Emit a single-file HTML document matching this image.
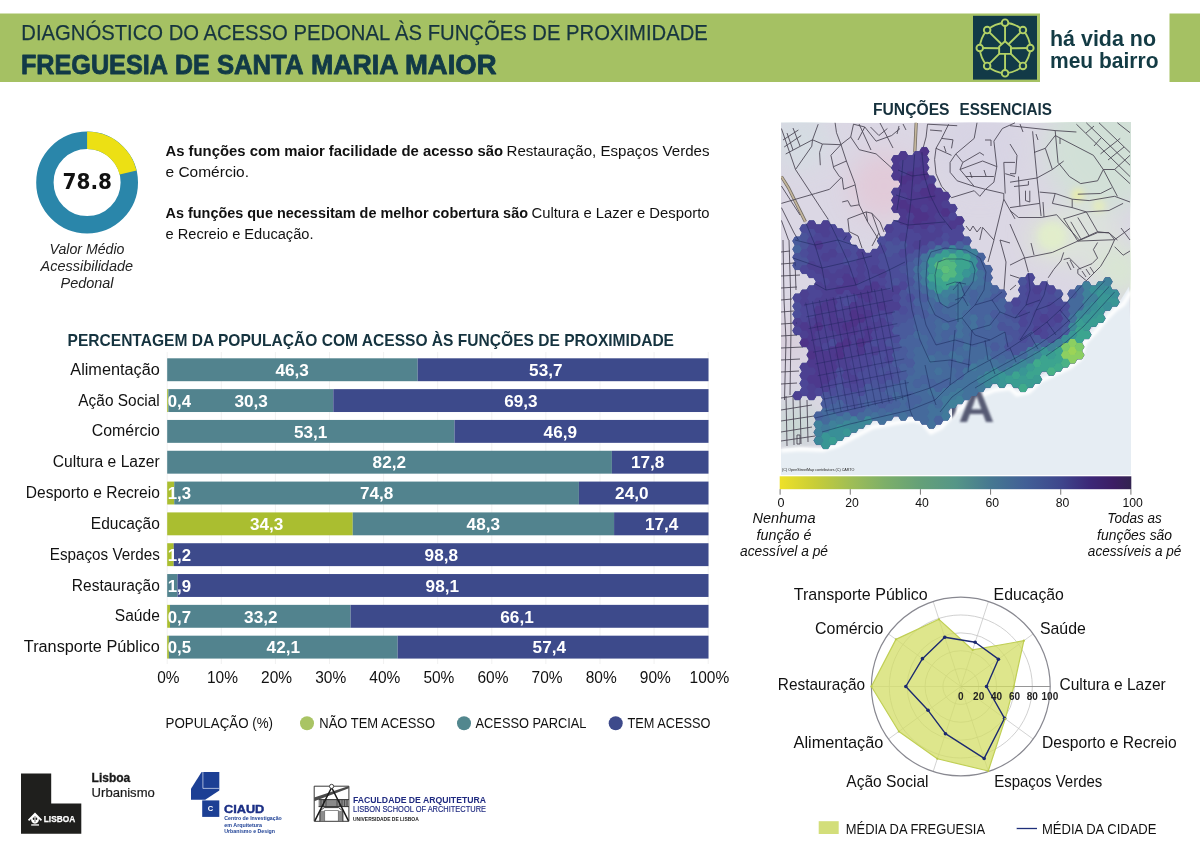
<!DOCTYPE html>
<html lang="pt"><head><meta charset="utf-8"><title>Diagnóstico do acesso pedonal - Santa Maria Maior</title>
<style>html,body{margin:0;padding:0;background:#fff}svg{display:block}text{font-family:"Liberation Sans",sans-serif}</style></head>
<body><svg width="1200" height="849" viewBox="0 0 1200 849">
<rect width="1200" height="849" fill="#fff"/>
<rect x="0" y="13.5" width="1040" height="68.5" fill="#a5c163"/>
<rect x="1169.5" y="13.5" width="31" height="68.5" fill="#a5c163"/>
<text x="21.30" y="40.00" font-size="22.3" fill="#17353f" textLength="686.50" lengthAdjust="spacingAndGlyphs" stroke="#17353f" stroke-width="0.25">DIAGNÓSTICO DO ACESSO PEDONAL ÀS FUNÇÕES DE PROXIMIDADE</text>
<text y="74.4" font-size="28.5" font-weight="700" fill="#123a47" stroke="#123a47" stroke-width="0.9" stroke-linejoin="round" xml:space="preserve"><tspan x="20.9" textLength="146.1" lengthAdjust="spacingAndGlyphs">FREGUESIA</tspan> <tspan x="174.9" textLength="34.6" lengthAdjust="spacingAndGlyphs">DE</tspan> <tspan x="216.9" textLength="85.6" lengthAdjust="spacingAndGlyphs">SANTA</tspan> <tspan x="310.9" textLength="86.6" lengthAdjust="spacingAndGlyphs">MARIA</tspan> <tspan x="404.9" textLength="91.6" lengthAdjust="spacingAndGlyphs">MAIOR</tspan></text>
<rect x="973" y="15.8" width="64" height="63.8" fill="#123a47"/>
<g fill="none" stroke="#b2d166" stroke-width="1.9" stroke-linecap="round" stroke-linejoin="round">
<path d="M1005.05 22.70A29 29 0 0 1 1022.94 30.11M1022.94 30.11A29 29 0 0 1 1030.35 48.00M1030.35 48.00A29 29 0 0 1 1022.94 65.89M1022.94 65.89A29 29 0 0 1 1005.05 73.30M1005.05 73.30A29 29 0 0 1 987.16 65.89M987.16 65.89A29 29 0 0 1 979.75 48.00M979.75 48.00A29 29 0 0 1 987.16 30.11M987.16 30.11A29 29 0 0 1 1005.05 22.70"/>
<path d="M1005.05 22.70L1005.05 41.20M1022.94 30.11L1008.45 44.30M1030.35 48.00L1010.95 48.30M1022.94 65.89L1010.95 53.90M1005.05 73.30L1005.05 53.90M987.16 65.89L999.15 53.90M979.75 48.00L999.15 48.30M987.16 30.11L1001.65 44.30"/>
<path d="M1005.05 41.20L1010.95 46.60L1010.95 53.90L999.15 53.90L999.15 46.60Z" fill="#123a47"/>
<circle cx="1005.05" cy="22.70" r="3.3" fill="#123a47"/>
<circle cx="1022.94" cy="30.11" r="3.3" fill="#123a47"/>
<circle cx="1030.35" cy="48.00" r="3.3" fill="#123a47"/>
<circle cx="1022.94" cy="65.89" r="3.3" fill="#123a47"/>
<circle cx="1005.05" cy="73.30" r="3.3" fill="#123a47"/>
<circle cx="987.16" cy="65.89" r="3.3" fill="#123a47"/>
<circle cx="979.75" cy="48.00" r="3.3" fill="#123a47"/>
<circle cx="987.16" cy="30.11" r="3.3" fill="#123a47"/>
</g>
<text x="1050.00" y="46.30" font-size="21.5" font-weight="700" fill="#133b44" textLength="106.00" lengthAdjust="spacingAndGlyphs">há vida no</text>
<text x="1050.00" y="67.60" font-size="21.5" font-weight="700" fill="#133b44" textLength="108.50" lengthAdjust="spacingAndGlyphs">meu bairro</text>
<circle cx="87.1" cy="182.5" r="42.20" fill="none" stroke="#2a86aa" stroke-width="17.40"/>
<path d="M87.1 140.30A42.20 42.20 0 0 1 128.10 172.52" fill="none" stroke="#ece014" stroke-width="17.40"/>
<text x="87.30" y="188.80" font-size="21" font-weight="700" text-anchor="middle" fill="#111" style='font-family:"DejaVu Sans", "Liberation Sans", sans-serif' textLength="49.50" lengthAdjust="spacingAndGlyphs">78.8</text>
<text x="87.00" y="253.50" font-size="14.6" text-anchor="middle" fill="#222" font-style="italic" textLength="75.00" lengthAdjust="spacingAndGlyphs">Valor Médio</text>
<text x="86.80" y="270.50" font-size="14.6" text-anchor="middle" fill="#222" font-style="italic" textLength="92.50" lengthAdjust="spacingAndGlyphs">Acessibilidade</text>
<text x="87.00" y="287.50" font-size="14.6" text-anchor="middle" fill="#222" font-style="italic" textLength="53.00" lengthAdjust="spacingAndGlyphs">Pedonal</text>
<text x="165.50" y="156.20" font-size="15.5" font-weight="700" fill="#111" textLength="337.50" lengthAdjust="spacingAndGlyphs">As funções com maior facilidade de acesso são</text>
<text x="506.50" y="156.20" font-size="15.5" fill="#111" textLength="203.00" lengthAdjust="spacingAndGlyphs">Restauração, Espaços Verdes</text>
<text x="165.50" y="176.70" font-size="15.5" fill="#111" textLength="83.50" lengthAdjust="spacingAndGlyphs">e Comércio.</text>
<text x="165.50" y="218.00" font-size="15.5" font-weight="700" fill="#111" textLength="362.50" lengthAdjust="spacingAndGlyphs">As funções que necessitam de melhor cobertura são</text>
<text x="531.50" y="218.00" font-size="15.5" fill="#111" textLength="178.00" lengthAdjust="spacingAndGlyphs">Cultura e Lazer e Desporto</text>
<text x="165.50" y="238.70" font-size="15.5" fill="#111" textLength="148.00" lengthAdjust="spacingAndGlyphs">e Recreio e Educação.</text>
<text x="67.50" y="346.30" font-size="16.5" font-weight="700" fill="#15333f" textLength="606.50" lengthAdjust="spacingAndGlyphs">PERCENTAGEM DA POPULAÇÃO COM ACESSO ÀS FUNÇÕES DE PROXIMIDADE</text>
<path d="M167.2 352V664M221.3 352V664M275.4 352V664M329.5 352V664M383.6 352V664M437.7 352V664M491.8 352V664M545.9 352V664M600.0 352V664M654.1 352V664M708.2 352V664" stroke="#f1f1f1" stroke-width="1" fill="none"/>
<rect x="167.20" y="358.30" width="250.48" height="22.9" fill="#52838e"/>
<rect x="417.68" y="358.30" width="290.82" height="22.9" fill="#3d4a8b"/>
<text x="159.80" y="374.80" font-size="15.8" text-anchor="end" fill="#111" textLength="89.50" lengthAdjust="spacingAndGlyphs">Alimentação</text>
<text x="292.10" y="376.00" font-size="16.3" font-weight="700" text-anchor="middle" fill="#fff" textLength="33.40" lengthAdjust="spacingAndGlyphs">46,3</text>
<text x="545.80" y="376.00" font-size="16.3" font-weight="700" text-anchor="middle" fill="#fff" textLength="33.40" lengthAdjust="spacingAndGlyphs">53,7</text>
<rect x="167.20" y="389.12" width="1.16" height="22.9" fill="#aabe30"/>
<rect x="168.36" y="389.12" width="164.92" height="22.9" fill="#52838e"/>
<rect x="333.29" y="389.12" width="375.21" height="22.9" fill="#3d4a8b"/>
<text x="159.80" y="405.62" font-size="15.8" text-anchor="end" fill="#111" textLength="81.50" lengthAdjust="spacingAndGlyphs">Ação Social</text>
<text x="167.70" y="406.82" font-size="16.3" font-weight="700" fill="#fff" textLength="23.30" lengthAdjust="spacingAndGlyphs">0,4</text>
<text x="251.20" y="406.82" font-size="16.3" font-weight="700" text-anchor="middle" fill="#fff" textLength="33.40" lengthAdjust="spacingAndGlyphs">30,3</text>
<text x="520.90" y="406.82" font-size="16.3" font-weight="700" text-anchor="middle" fill="#fff" textLength="33.40" lengthAdjust="spacingAndGlyphs">69,3</text>
<rect x="167.20" y="419.94" width="287.27" height="22.9" fill="#52838e"/>
<rect x="454.47" y="419.94" width="254.03" height="22.9" fill="#3d4a8b"/>
<text x="159.80" y="436.44" font-size="15.8" text-anchor="end" fill="#111" textLength="68.00" lengthAdjust="spacingAndGlyphs">Comércio</text>
<text x="310.70" y="437.64" font-size="16.3" font-weight="700" text-anchor="middle" fill="#fff" textLength="33.40" lengthAdjust="spacingAndGlyphs">53,1</text>
<text x="560.30" y="437.64" font-size="16.3" font-weight="700" text-anchor="middle" fill="#fff" textLength="33.40" lengthAdjust="spacingAndGlyphs">46,9</text>
<rect x="167.20" y="450.76" width="444.70" height="22.9" fill="#52838e"/>
<rect x="611.90" y="450.76" width="96.60" height="22.9" fill="#3d4a8b"/>
<text x="159.80" y="467.26" font-size="15.8" text-anchor="end" fill="#111" textLength="107.00" lengthAdjust="spacingAndGlyphs">Cultura e Lazer</text>
<text x="389.30" y="468.46" font-size="16.3" font-weight="700" text-anchor="middle" fill="#fff" textLength="33.40" lengthAdjust="spacingAndGlyphs">82,2</text>
<text x="647.60" y="468.46" font-size="16.3" font-weight="700" text-anchor="middle" fill="#fff" textLength="33.40" lengthAdjust="spacingAndGlyphs">17,8</text>
<rect x="167.20" y="481.58" width="7.03" height="22.9" fill="#aabe30"/>
<rect x="174.23" y="481.58" width="404.67" height="22.9" fill="#52838e"/>
<rect x="578.90" y="481.58" width="129.60" height="22.9" fill="#3d4a8b"/>
<text x="159.80" y="498.08" font-size="15.8" text-anchor="end" fill="#111" textLength="134.00" lengthAdjust="spacingAndGlyphs">Desporto e Recreio</text>
<text x="167.70" y="499.28" font-size="16.3" font-weight="700" fill="#fff" textLength="23.30" lengthAdjust="spacingAndGlyphs">1,3</text>
<text x="376.70" y="499.28" font-size="16.3" font-weight="700" text-anchor="middle" fill="#fff" textLength="33.40" lengthAdjust="spacingAndGlyphs">74,8</text>
<text x="631.80" y="499.28" font-size="16.3" font-weight="700" text-anchor="middle" fill="#fff" textLength="33.40" lengthAdjust="spacingAndGlyphs">24,0</text>
<rect x="167.20" y="512.40" width="185.56" height="22.9" fill="#aabe30"/>
<rect x="352.76" y="512.40" width="261.30" height="22.9" fill="#52838e"/>
<rect x="614.07" y="512.40" width="94.43" height="22.9" fill="#3d4a8b"/>
<text x="159.80" y="528.90" font-size="15.8" text-anchor="end" fill="#111" textLength="69.00" lengthAdjust="spacingAndGlyphs">Educação</text>
<text x="266.70" y="530.10" font-size="16.3" font-weight="700" text-anchor="middle" fill="#fff" textLength="33.40" lengthAdjust="spacingAndGlyphs">34,3</text>
<text x="483.30" y="530.10" font-size="16.3" font-weight="700" text-anchor="middle" fill="#fff" textLength="33.40" lengthAdjust="spacingAndGlyphs">48,3</text>
<text x="661.70" y="530.10" font-size="16.3" font-weight="700" text-anchor="middle" fill="#fff" textLength="33.40" lengthAdjust="spacingAndGlyphs">17,4</text>
<rect x="167.20" y="543.22" width="6.49" height="22.9" fill="#aabe30"/>
<rect x="173.69" y="543.22" width="534.81" height="22.9" fill="#3d4a8b"/>
<text x="159.80" y="559.72" font-size="15.8" text-anchor="end" fill="#111" textLength="110.00" lengthAdjust="spacingAndGlyphs">Espaços Verdes</text>
<text x="167.70" y="560.92" font-size="16.3" font-weight="700" fill="#fff" textLength="23.30" lengthAdjust="spacingAndGlyphs">1,2</text>
<text x="441.30" y="560.92" font-size="16.3" font-weight="700" text-anchor="middle" fill="#fff" textLength="33.40" lengthAdjust="spacingAndGlyphs">98,8</text>
<rect x="167.20" y="574.04" width="10.28" height="22.9" fill="#52838e"/>
<rect x="177.48" y="574.04" width="531.02" height="22.9" fill="#3d4a8b"/>
<text x="159.80" y="590.54" font-size="15.8" text-anchor="end" fill="#111" textLength="88.00" lengthAdjust="spacingAndGlyphs">Restauração</text>
<text x="167.70" y="591.74" font-size="16.3" font-weight="700" fill="#fff" textLength="23.30" lengthAdjust="spacingAndGlyphs">1,9</text>
<text x="442.30" y="591.74" font-size="16.3" font-weight="700" text-anchor="middle" fill="#fff" textLength="33.40" lengthAdjust="spacingAndGlyphs">98,1</text>
<rect x="167.20" y="604.86" width="2.79" height="22.9" fill="#aabe30"/>
<rect x="169.99" y="604.86" width="180.61" height="22.9" fill="#52838e"/>
<rect x="350.60" y="604.86" width="357.90" height="22.9" fill="#3d4a8b"/>
<text x="159.80" y="621.36" font-size="15.8" text-anchor="end" fill="#111" textLength="45.00" lengthAdjust="spacingAndGlyphs">Saúde</text>
<text x="167.70" y="622.56" font-size="16.3" font-weight="700" fill="#fff" textLength="23.30" lengthAdjust="spacingAndGlyphs">0,7</text>
<text x="260.80" y="622.56" font-size="16.3" font-weight="700" text-anchor="middle" fill="#fff" textLength="33.40" lengthAdjust="spacingAndGlyphs">33,2</text>
<text x="517.00" y="622.56" font-size="16.3" font-weight="700" text-anchor="middle" fill="#fff" textLength="33.40" lengthAdjust="spacingAndGlyphs">66,1</text>
<rect x="167.20" y="635.68" width="1.71" height="22.9" fill="#aabe30"/>
<rect x="168.91" y="635.68" width="228.76" height="22.9" fill="#52838e"/>
<rect x="397.67" y="635.68" width="310.83" height="22.9" fill="#3d4a8b"/>
<text x="159.80" y="652.18" font-size="15.8" text-anchor="end" fill="#111" textLength="136.00" lengthAdjust="spacingAndGlyphs">Transporte Público</text>
<text x="167.70" y="653.38" font-size="16.3" font-weight="700" fill="#fff" textLength="23.30" lengthAdjust="spacingAndGlyphs">0,5</text>
<text x="283.30" y="653.38" font-size="16.3" font-weight="700" text-anchor="middle" fill="#fff" textLength="33.40" lengthAdjust="spacingAndGlyphs">42,1</text>
<text x="549.30" y="653.38" font-size="16.3" font-weight="700" text-anchor="middle" fill="#fff" textLength="33.40" lengthAdjust="spacingAndGlyphs">57,4</text>
<text x="168.40" y="682.50" font-size="15.6" text-anchor="middle" fill="#111" textLength="22.30" lengthAdjust="spacingAndGlyphs">0%</text>
<text x="222.50" y="682.50" font-size="15.6" text-anchor="middle" fill="#111" textLength="31.00" lengthAdjust="spacingAndGlyphs">10%</text>
<text x="276.60" y="682.50" font-size="15.6" text-anchor="middle" fill="#111" textLength="31.00" lengthAdjust="spacingAndGlyphs">20%</text>
<text x="330.70" y="682.50" font-size="15.6" text-anchor="middle" fill="#111" textLength="31.00" lengthAdjust="spacingAndGlyphs">30%</text>
<text x="384.80" y="682.50" font-size="15.6" text-anchor="middle" fill="#111" textLength="31.00" lengthAdjust="spacingAndGlyphs">40%</text>
<text x="438.90" y="682.50" font-size="15.6" text-anchor="middle" fill="#111" textLength="31.00" lengthAdjust="spacingAndGlyphs">50%</text>
<text x="493.00" y="682.50" font-size="15.6" text-anchor="middle" fill="#111" textLength="31.00" lengthAdjust="spacingAndGlyphs">60%</text>
<text x="547.10" y="682.50" font-size="15.6" text-anchor="middle" fill="#111" textLength="31.00" lengthAdjust="spacingAndGlyphs">70%</text>
<text x="601.20" y="682.50" font-size="15.6" text-anchor="middle" fill="#111" textLength="31.00" lengthAdjust="spacingAndGlyphs">80%</text>
<text x="655.30" y="682.50" font-size="15.6" text-anchor="middle" fill="#111" textLength="31.00" lengthAdjust="spacingAndGlyphs">90%</text>
<text x="709.40" y="682.50" font-size="15.6" text-anchor="middle" fill="#111" textLength="39.60" lengthAdjust="spacingAndGlyphs">100%</text>
<text x="165.50" y="728.20" font-size="14.6" fill="#111" textLength="107.50" lengthAdjust="spacingAndGlyphs">POPULAÇÃO (%)</text>
<circle cx="307" cy="723.2" r="7" fill="#a9c464"/>
<text x="319.30" y="728.20" font-size="14.6" fill="#111" textLength="115.70" lengthAdjust="spacingAndGlyphs">NÃO TEM ACESSO</text>
<circle cx="464" cy="723.2" r="7" fill="#52878e"/>
<text x="475.50" y="728.20" font-size="14.6" fill="#111" textLength="111.00" lengthAdjust="spacingAndGlyphs">ACESSO PARCIAL</text>
<circle cx="615.7" cy="723.2" r="7" fill="#3d4a8b"/>
<text x="627.50" y="728.20" font-size="14.6" fill="#111" textLength="83.00" lengthAdjust="spacingAndGlyphs">TEM ACESSO</text>
<path d="M21 773.5H51.2V803.5H81.3V833.8H21Z" fill="#1f1f1d"/>
<text x="43.80" y="822.40" font-size="9.2" font-weight="700" fill="#fff" textLength="31.40" lengthAdjust="spacingAndGlyphs" stroke="#fff" stroke-width="0.25">LISBOA</text>
<path d="M35 812.4L42.1 819.7L40.8 820.9L38.9 819.1C39.2 821.6 37.4 823.5 35 823.7C32.6 823.5 30.8 821.6 31.1 819.1L29.2 820.9L27.9 819.7Z" fill="#fff"/><rect x="31.2" y="824.3" width="7.8" height="1.3" fill="#fff"/><path d="M35 816.2V822.2" stroke="#1f1f1d" stroke-width="0.7"/><ellipse cx="33.5" cy="818.7" rx="0.8" ry="1.3" fill="#1f1f1d"/><ellipse cx="36.5" cy="818.7" rx="0.8" ry="1.3" fill="#1f1f1d"/>
<text x="91.60" y="781.90" font-size="12.2" font-weight="700" fill="#1a1a1a" textLength="38.70" lengthAdjust="spacingAndGlyphs" stroke="#1a1a1a" stroke-width="0.3">Lisboa</text>
<text x="91.60" y="797.30" font-size="12.6" fill="#1a1a1a" textLength="63.20" lengthAdjust="spacingAndGlyphs" stroke="#1a1a1a" stroke-width="0.2">Urbanismo</text>
<path d="M201.6 772H219.3V790.4L205.2 799.8H191V788.8Z" fill="#1c3f94"/>
<path d="M202.9 772V788.4H219.3" fill="none" stroke="#dfe6f5" stroke-width="0.7"/>
<rect x="202.2" y="800.4" width="17.1" height="16.5" fill="#1c3f94"/>
<text x="210.50" y="811.30" font-size="7.5" font-weight="700" text-anchor="middle" fill="#fff">C</text>
<text x="224.00" y="812.50" font-size="11.2" font-weight="700" fill="#1b2f85" textLength="40.30" lengthAdjust="spacingAndGlyphs" stroke="#1b2f85" stroke-width="0.4">CIAUD</text>
<text x="224.30" y="820.40" font-size="5.6" font-weight="700" fill="#1c3f94" textLength="57.50" lengthAdjust="spacingAndGlyphs">Centro de Investigação</text>
<text x="224.30" y="826.60" font-size="5.6" font-weight="700" fill="#1c3f94" textLength="37.70" lengthAdjust="spacingAndGlyphs">em Arquitetura</text>
<text x="224.30" y="832.70" font-size="5.6" font-weight="700" fill="#1c3f94" textLength="50.70" lengthAdjust="spacingAndGlyphs">Urbanismo e Design</text>
<g stroke-linejoin="round"><rect x="314.2" y="786.2" width="34.7" height="35.1" fill="#fff" stroke="#222" stroke-width="0.9"/><path d="M314.2 797.6L348.9 785.9V788.3L314.2 801.2Z" fill="#4a4a4a"/><rect x="318.6" y="799.6" width="30.3" height="7" fill="#8a8a8a"/><path d="M318.6 799.6H348.9M318.6 806.6H348.9" stroke="#222" stroke-width="0.9" fill="none"/><path d="M321 800v6.5M323.5 800v6.5M326 800v6.5M337 800v6.5M339.5 800v6.5M342 800v6.5M344.5 800v6.5M347 800v6.5" stroke="#333" stroke-width="0.7" fill="none"/><rect x="319.9" y="810.8" width="4.6" height="10.3" fill="#8c8c8c"/><rect x="338.4" y="810.8" width="4.5" height="10.3" fill="#8c8c8c"/><path d="M319.9 821.3V811L324.2 807.6H338.6L342.9 811V821.3" fill="none" stroke="#222" stroke-width="0.9"/><path d="M324.6 821V810.5H338.4V821" fill="none" stroke="#444" stroke-width="0.6"/><path d="M331.6 787.5L314.8 820.8M331.6 787.5L348.5 820.8" stroke="#1a1a1a" stroke-width="1.5" fill="none"/><circle cx="331.6" cy="786.4" r="2.1" fill="#fff" stroke="#333" stroke-width="0.9"/></g>
<text x="353.00" y="803.30" font-size="9.3" font-weight="700" fill="#1f2a80" textLength="133.00" lengthAdjust="spacingAndGlyphs">FACULDADE DE ARQUITETURA</text>
<text x="353.00" y="811.80" font-size="8.6" fill="#1f2a80" textLength="133.00" lengthAdjust="spacingAndGlyphs" stroke="#1f2a80" stroke-width="0.15">LISBON SCHOOL OF ARCHITECTURE</text>
<text x="353.00" y="820.70" font-size="4.8" font-weight="700" fill="#222" textLength="65.80" lengthAdjust="spacingAndGlyphs">UNIVERSIDADE DE LISBOA</text>
<text x="873" y="115" font-size="15.8" font-weight="700" fill="#15303c" textLength="76.5" lengthAdjust="spacingAndGlyphs">FUNÇÕES</text><text x="959.5" y="115" font-size="15.8" font-weight="700" fill="#15303c" textLength="92.5" lengthAdjust="spacingAndGlyphs">ESSENCIAIS</text>
<defs><clipPath id="mc"><rect x="781.0" y="122.8" width="349.3" height="351.7"/></clipPath><filter id="b12" x="-30%" y="-30%" width="160%" height="160%"><feGaussianBlur stdDeviation="12"/></filter><filter id="b4" x="-50%" y="-50%" width="200%" height="200%"><feGaussianBlur stdDeviation="3.5"/></filter><filter id="b2" x="-20%" y="-20%" width="140%" height="140%"><feGaussianBlur stdDeviation="1.6"/></filter><filter id="b1" x="-20%" y="-20%" width="140%" height="140%"><feGaussianBlur stdDeviation="1.1"/></filter><clipPath id="lc"><rect x="952" y="380" width="60" height="60"/></clipPath><clipPath id="rc"><path d="M799 226.4L803.6 223L814.8 221.9L828.2 218.6L834.9 221.9L841.6 230.9L848.3 237.6L855 244.3L864 252.1L873 251L879.7 244.3L884.1 235.3L886.4 226.4L893.1 219.7L899.8 215.2L895.3 208.5L892 199.5L894.2 192.8L902 188.3L897.6 181.6L892 174.9L890.9 168.2L894.2 160.4L894.2 153.6L899.8 149.2L906.5 153.6L913.2 154.8L924.4 151.4L929.4 154.8L930 163.7L931.1 172.7L935.6 181.6L943.5 192.8L949 199.5L955.8 206.2L960 215.2L963.9 232L970 243.5L979.8 254.8L988.3 263.3L992.5 271.7L994 281.6L1002.4 291.5L1008 299L1010 301.9L1018.5 294.8L1022.7 283.5L1024.1 275L1028.4 272.9L1032.6 276.4L1031.2 286.3L1035.4 289.2L1039.7 280.7L1043.9 277.8L1049.6 282.1L1055.2 289.2L1060.9 294.8L1065.1 300.5L1070.8 297.6L1072.2 289.2L1077.8 286.3L1083.5 284.9L1092 283.5L1100.5 280.7L1107.5 280.7L1108.9 286.3L1114.6 292L1120.2 297.6L1121.7 301.9L1115.6 305.7L1106.7 314.6L1095.5 328L1084.3 339.2L1079.8 354.9L1070 363L1059.7 368.3L1039.5 377.3L1028.3 388.5L1017 390.7L1010.4 384L994.8 386.2L976.9 393L963.4 401.9L953.5 410.9L940 424.3L931 428.8L924.4 424.3L922.2 418.7L913.2 416.5L900 417.9L891 420.5L882.4 423L872.2 423.9L863.6 427.3L855.1 430.7L852.5 435L848.3 439.2L839.7 441.8L831.2 443.5L824.4 446.9L819.3 446.9L816.7 441L815.8 432.4L812.4 427.3L814.1 422.2L815.8 413.6L822.7 410.2L824.4 405.1L819.3 400L810.7 396.6L800.5 398.3L795.4 394.9L797 389.7L798.8 381.2L800.5 371L802.2 364.1L807.3 353.9L805.6 347L797 336.8L793.7 330L796 323.6L794.6 312.4L792.4 303.4L795.7 294.5L801 288L812 285L819 280L812 275L800 270L793 264L790 255.5L792.4 244.3L796.9 235.3Z"/></clipPath></defs>
<g clip-path="url(#mc)">
<rect x="781.0" y="122.8" width="349.3" height="351.7" fill="#dbd7e4"/>
<g filter="url(#b12)">
<circle cx="884" cy="186" r="34" fill="#e2c9d8" opacity="0.95"/>
<circle cx="1105" cy="150" r="60" fill="#d1e0d7" opacity="1"/>
<circle cx="1052" cy="238" r="20" fill="#e0edcc" opacity="0.95"/>
<circle cx="800" cy="140" r="30" fill="#d3dde2" opacity="0.8"/>
<circle cx="1085" cy="235" r="35" fill="#dde6da" opacity="0.7"/>
<circle cx="980" cy="150" r="40" fill="#d6d3e3" opacity="0.8"/>
<circle cx="795" cy="425" r="22" fill="#c3d6cf" opacity="0.9"/>
<circle cx="1120" cy="270" r="25" fill="#d8e8d0" opacity="0.9"/>
<circle cx="790" cy="340" r="18" fill="#d6c9d6" opacity="0.8"/>
</g>
<g filter="url(#b4)">
<circle cx="1078" cy="195" r="6" fill="#eef0a0" opacity="0.9"/>
<circle cx="1099" cy="206" r="6" fill="#eaf0b0" opacity="0.8"/>
<circle cx="1052" cy="236" r="14" fill="#e2efc8" opacity="0.8"/>
</g>
<path d="M781 449L800 447.5L823 448.5L836 440.5L848 434.0L871 422.0L893 418.0L911 415.0L920 417.0L929 427.5L939 422.5L951 410.0L962 400.5L975 392.0L993 385.0L1008 383.0L1015 389.5L1027 387.0L1038 376.0L1058 367.0L1069 361.5L1078.5 353.5L1083 337.5L1094 326.5L1105 313.0L1114 304.0L1121 299.5L1129 286.5L1135 480L775 480Z" fill="#e6edf3"/>
<path d="M781 450.5L800 449.0L823 450.0L838 445.5L850 439.0L873 427.0L895 423.0L913 420.0L922 422.0L931 432.5L941 427.5L953 415.0L964 405.5L977 397.0L995 390.0L1010 388.0L1017 394.5L1029 392.0L1040 381.0L1060 372.0L1071 366.5L1080.5 358.5L1085 342.5L1096 331.5L1107 318.0L1116 309.0L1123 304.5L1131 291.5" fill="none" stroke="#fff" stroke-width="4" filter="url(#b2)"/>
<text x="806.50" y="422.00" font-size="45" font-weight="700" fill="#464c66" textLength="188.00" lengthAdjust="spacingAndGlyphs" filter="url(#b1)" opacity="0.9" clip-path="url(#lc)">LISBOA</text>
<path d="M781.4 176.5L788.5 187.8L805.4 221.8M916.2 122.8L914.8 152.5" fill="none" stroke="#5e574c" stroke-width="3.2" opacity="0.85"/>
<path d="M781.4 176.5L788.5 187.8L805.4 221.8M916.2 122.8L914.8 152.5" fill="none" stroke="#c4b69c" stroke-width="1.7"/>
<path d="M781.4 128.5L795.5 169.5L822.4 210.5L828.0 219.0M812.5 139.8L818.2 124.2M783.0 140.0L798.4 130.0M784.2 147.0L801.2 135.5M785.7 154.0L812.5 139.8M795.5 169.5L811.8 146.2L812.5 139.8M787.0 133.0L793.0 150.0M793.0 128.0L800.0 146.0M835.1 122.8L836.5 132.7L840.8 144.0L846.4 161.0L854.9 183.6L859.2 204.8L867.6 221.8L878.9 240.0M812.5 139.8L822.4 144.0L840.8 144.7L850.7 137.0L853.5 124.2M781.4 203.4L815.3 193.5L829.5 189.3L840.8 178.0M822.4 144.0L819.6 152.5L820.3 165.2M840.8 144.7L830.9 155.3L833.7 168.0L839.4 176.5L842.2 178.0M833.7 166.6L846.4 161.0M842.2 178.0L843.6 189.3L854.9 185.0M850.7 137.0L859.2 149.7L876.1 153.9L891.7 168.0M853.5 124.2L864.8 127.0L876.1 141.2L891.7 135.5L900.0 128.5M870.5 127.0L878.9 135.5L887.4 128.5M859.0 124.0L871.0 150.0M880.0 123.0L893.0 148.0M864.8 127.0L858.0 140.0M847.8 218.9L866.2 211.9L867.6 221.8M847.8 218.9L849.3 231.7L843.6 240.0M842.2 202.0L847.8 200.6L850.7 206.2L859.2 204.8M866.2 211.9L871.9 213.3L878.9 233.0L881.8 240.0M781.4 207.6L794.1 233.0L798.4 240.0M781.4 220.4L788.5 240.0M781.4 186.0L800.0 215.0M849.3 231.7L858.0 236.0L862.0 248.0M871.9 213.3L880.0 222.0L884.0 232.0M878.9 233.0L872.0 246.0M927.5 124.2L926.1 137.0L921.9 152.5M948.7 124.2L941.6 138.4L936.0 148.3L934.6 159.6L936.0 173.7L941.6 186.4L951.5 197.7M977.0 122.8L974.2 138.4L955.8 153.9L950.1 162.4L950.1 172.3L957.2 180.8L974.2 186.4L985.5 189.3L993.9 182.2L996.8 166.6L993.9 141.2L1002.4 128.5L1015.0 122.8M955.8 153.9L962.8 162.4L960.0 169.5L974.2 186.4M962.8 162.4L979.8 152.5L984.0 155.3M960.0 169.5L982.6 161.0L996.8 166.6M965.7 176.5L993.9 176.5M951.5 197.7L974.2 190.7L979.8 196.3L985.5 189.3M985.5 189.3L1003.8 193.5L1003.8 199.2L993.9 240.0M1003.8 199.2L1015.0 218.9M1003.8 162.4L1015.0 162.4M1005.2 173.7L1015.0 176.5M1003.8 162.4L1005.2 193.5M927.5 124.2L957.2 125.7M936.0 148.3L951.5 155.3M941.6 138.4L953.0 139.8L951.5 148.3M979.8 240.0L982.6 227.4L993.9 240.0M966.0 226.0L970.0 231.0L973.0 226.0L977.0 232.0L981.0 227.0M930.0 130.0L942.0 131.0M944.0 146.0L946.0 152.0M985.0 140.0L991.0 140.0L991.0 146.0M970.0 172.0L972.0 178.0M984.0 170.0L986.0 176.0M899.0 126.0L897.0 134.0M903.0 124.0L906.0 130.0M1032.6 131.3L1036.9 176.5L1041.1 216.1M1010.0 125.7L1055.2 130.6L1076.4 132.0M1055.2 130.6L1058.0 162.4L1069.4 176.5L1080.7 183.6L1097.6 180.8L1103.3 169.5L1093.4 155.3L1055.2 135.5M1034.0 152.5L1045.3 148.3L1055.2 135.5M1036.9 178.0L1052.4 169.5L1063.7 161.0M1045.3 148.3L1052.4 169.5M1010.0 182.2L1036.9 178.0M1039.7 192.1L1055.2 193.5L1072.2 199.2L1089.2 200.6L1114.6 196.3L1130.0 202.0M1077.8 194.2L1100.5 193.5L1111.8 187.8M1055.2 193.5L1052.4 203.4L1072.2 207.6L1086.3 211.9L1109.0 210.5L1123.1 203.4M1010.0 210.5L1018.5 217.5L1041.1 217.5L1056.6 214.7L1066.5 226.0L1079.3 240.0M1063.7 218.9L1086.3 211.9L1097.6 231.7L1079.3 240.0M1070.8 221.8L1080.7 238.7M1077.8 217.5L1089.2 235.9M1097.6 231.7L1109.0 233.0L1117.4 240.0M1076.4 124.2L1130.0 176.5M1086.3 122.8L1130.0 165.2M1099.0 122.8L1130.0 152.5M1117.4 122.8L1130.0 132.7M1100.5 153.9L1120.2 138.4M1094.0 146.0L1101.0 138.0M1114.6 169.5L1130.0 155.3M1108.0 160.0L1124.0 147.0M1086.0 133.0L1094.0 126.0M1103.3 169.5L1114.6 169.5L1130.0 183.6M1103.3 169.5L1117.4 196.3M1018.5 176.5L1019.9 206.2M1014.0 186.5L1028.4 185.0L1028.4 181.0M1025.5 190.7L1025.5 200.6L1029.8 202.0L1029.8 190.7M1010.0 144.0L1017.0 155.3L1015.6 173.7L1010.0 173.7M1010.0 207.6L1039.7 203.4M1020.0 124.0L1023.0 132.0M1036.0 134.0L1038.0 140.0M1060.0 138.0L1060.0 144.0M1072.2 199.2L1072.2 207.6M1043.0 202.0L1044.0 217.0M1010.0 224.1L1024.1 256.6L1028.4 272.2M1010.0 265.1L1024.1 258.1L1052.4 252.4L1077.8 241.1L1097.6 232.6L1108.9 232.6L1114.6 239.7M1063.7 218.5L1077.8 241.1M1077.8 241.1L1114.6 239.7L1108.9 252.4L1100.5 266.5L1083.5 283.5M1063.7 252.4L1060.9 260.9L1053.8 269.4L1048.2 277.8M1097.6 242.5L1093.4 249.6L1097.6 258.1L1092.0 263.7L1077.8 269.4L1077.8 273.6L1086.3 280.7M1063.7 259.5L1069.4 258.1L1080.7 269.4M1114.6 239.7L1130.0 228.4M1114.6 246.7L1123.1 255.2L1130.0 251.0M1082.0 271.0L1086.0 277.0M1086.0 269.0L1090.0 275.0M1090.0 267.0L1094.0 273.0M1031.0 243.0L1034.0 255.0M1067.0 262.0L1071.0 270.0M1070.0 260.0L1074.0 268.0M1000.0 240.0L1006.0 262.0L1004.0 290.0M994.0 240.0L988.0 262.0M1010.0 243.0L1000.0 240.0M1010.0 275.0L1022.0 279.0M1010.0 290.0L1016.0 285.0M1121.0 228.0L1130.0 240.0M783.0 240.0L784.0 300.0L786.0 340.0L784.5 400.0M789.0 240.0L790.5 290.0L791.0 330.0L790.0 395.0M795.0 262.0L796.0 290.0M781.0 252.0L790.0 251.0M781.0 264.0L794.0 263.0M781.0 276.0L800.0 275.0M781.0 288.0L797.0 287.0M781.0 300.0L792.0 299.0M781.0 312.0L794.0 311.0M781.0 324.0L797.0 323.0M781.0 336.0L797.0 335.0M781.0 348.0L803.0 347.0M781.0 360.0L800.0 359.0M781.0 372.0L799.0 371.0M781.0 384.0L797.0 383.0M781.0 398.0L795.0 396.0M781.0 410.0L812.0 405.0M781.0 421.0L814.0 416.0M781.0 432.0L812.0 427.0M781.0 441.0L815.0 436.0M786.0 396.0L787.0 446.0M793.0 396.0L794.0 445.0M800.0 399.0L801.0 444.0M807.0 400.0L808.0 442.0M797.0 435.0L797.0 444.0L800.0 444.0L800.0 435.0L797.0 435.0" fill="none" stroke="#474351" stroke-width="0.95" stroke-linejoin="round" opacity="0.9"/>
<g><path fill="#44508f" stroke="#44508f" stroke-width="0.9" stroke-linejoin="round" d="M792.7 241.0l2.35 -4.07h4.70l2.35 4.07l-2.35 4.07h-4.70zM820.9 403.9l2.35 -4.07h4.70l2.35 4.07l-2.35 4.07h-4.70zM828.0 399.8l2.35 -4.07h4.70l2.35 4.07l-2.35 4.07h-4.70zM842.1 407.9l2.35 -4.07h4.70l2.35 4.07l-2.35 4.07h-4.70zM849.1 412.0l2.35 -4.07h4.70l2.35 4.07l-2.35 4.07h-4.70zM856.2 399.8l2.35 -4.07h4.70l2.35 4.07l-2.35 4.07h-4.70zM856.2 407.9l2.35 -4.07h4.70l2.35 4.07l-2.35 4.07h-4.70zM863.2 387.6l2.35 -4.07h4.70l2.35 4.07l-2.35 4.07h-4.70zM863.2 395.7l2.35 -4.07h4.70l2.35 4.07l-2.35 4.07h-4.70zM870.3 391.6l2.35 -4.07h4.70l2.35 4.07l-2.35 4.07h-4.70zM870.3 399.8l2.35 -4.07h4.70l2.35 4.07l-2.35 4.07h-4.70zM877.3 395.7l2.35 -4.07h4.70l2.35 4.07l-2.35 4.07h-4.70zM877.3 403.9l2.35 -4.07h4.70l2.35 4.07l-2.35 4.07h-4.70zM884.4 383.5l2.35 -4.07h4.70l2.35 4.07l-2.35 4.07h-4.70zM884.4 399.8l2.35 -4.07h4.70l2.35 4.07l-2.35 4.07h-4.70zM891.4 330.6l2.35 -4.07h4.70l2.35 4.07l-2.35 4.07h-4.70zM891.4 355.0l2.35 -4.07h4.70l2.35 4.07l-2.35 4.07h-4.70zM891.4 363.1l2.35 -4.07h4.70l2.35 4.07l-2.35 4.07h-4.70zM898.5 326.5l2.35 -4.07h4.70l2.35 4.07l-2.35 4.07h-4.70zM898.5 334.7l2.35 -4.07h4.70l2.35 4.07l-2.35 4.07h-4.70zM898.5 350.9l2.35 -4.07h4.70l2.35 4.07l-2.35 4.07h-4.70zM898.5 359.1l2.35 -4.07h4.70l2.35 4.07l-2.35 4.07h-4.70zM898.5 375.4l2.35 -4.07h4.70l2.35 4.07l-2.35 4.07h-4.70zM905.5 265.5l2.35 -4.07h4.70l2.35 4.07l-2.35 4.07h-4.70zM905.5 273.6l2.35 -4.07h4.70l2.35 4.07l-2.35 4.07h-4.70zM905.5 289.9l2.35 -4.07h4.70l2.35 4.07l-2.35 4.07h-4.70zM905.5 322.4l2.35 -4.07h4.70l2.35 4.07l-2.35 4.07h-4.70zM905.5 330.6l2.35 -4.07h4.70l2.35 4.07l-2.35 4.07h-4.70zM905.5 363.1l2.35 -4.07h4.70l2.35 4.07l-2.35 4.07h-4.70zM912.6 294.0l2.35 -4.07h4.70l2.35 4.07l-2.35 4.07h-4.70zM912.6 310.2l2.35 -4.07h4.70l2.35 4.07l-2.35 4.07h-4.70zM919.6 298.0l2.35 -4.07h4.70l2.35 4.07l-2.35 4.07h-4.70zM919.6 314.3l2.35 -4.07h4.70l2.35 4.07l-2.35 4.07h-4.70zM940.8 245.1l2.35 -4.07h4.70l2.35 4.07l-2.35 4.07h-4.70zM990.1 298.0l2.35 -4.07h4.70l2.35 4.07l-2.35 4.07h-4.70zM990.1 314.3l2.35 -4.07h4.70l2.35 4.07l-2.35 4.07h-4.70zM990.1 346.9l2.35 -4.07h4.70l2.35 4.07l-2.35 4.07h-4.70zM997.2 294.0l2.35 -4.07h4.70l2.35 4.07l-2.35 4.07h-4.70zM997.2 318.4l2.35 -4.07h4.70l2.35 4.07l-2.35 4.07h-4.70zM1004.2 322.4l2.35 -4.07h4.70l2.35 4.07l-2.35 4.07h-4.70zM1004.2 338.7l2.35 -4.07h4.70l2.35 4.07l-2.35 4.07h-4.70zM1011.3 326.5l2.35 -4.07h4.70l2.35 4.07l-2.35 4.07h-4.70zM1032.4 338.7l2.35 -4.07h4.70l2.35 4.07l-2.35 4.07h-4.70zM1060.6 330.6l2.35 -4.07h4.70l2.35 4.07l-2.35 4.07h-4.70zM1067.7 294.0l2.35 -4.07h4.70l2.35 4.07l-2.35 4.07h-4.70zM792.7 249.2l2.35 -4.07h4.70l2.35 4.07l-2.35 4.07h-4.70zM813.9 416.1l2.35 -4.07h4.70l2.35 4.07l-2.35 4.07h-4.70zM828.0 407.9l2.35 -4.07h4.70l2.35 4.07l-2.35 4.07h-4.70zM835.0 403.9l2.35 -4.07h4.70l2.35 4.07l-2.35 4.07h-4.70zM835.0 412.0l2.35 -4.07h4.70l2.35 4.07l-2.35 4.07h-4.70zM863.2 403.9l2.35 -4.07h4.70l2.35 4.07l-2.35 4.07h-4.70zM870.3 407.9l2.35 -4.07h4.70l2.35 4.07l-2.35 4.07h-4.70zM884.4 391.6l2.35 -4.07h4.70l2.35 4.07l-2.35 4.07h-4.70zM884.4 407.9l2.35 -4.07h4.70l2.35 4.07l-2.35 4.07h-4.70zM891.4 387.6l2.35 -4.07h4.70l2.35 4.07l-2.35 4.07h-4.70zM891.4 403.9l2.35 -4.07h4.70l2.35 4.07l-2.35 4.07h-4.70zM898.5 342.8l2.35 -4.07h4.70l2.35 4.07l-2.35 4.07h-4.70zM898.5 367.2l2.35 -4.07h4.70l2.35 4.07l-2.35 4.07h-4.70zM898.5 383.5l2.35 -4.07h4.70l2.35 4.07l-2.35 4.07h-4.70zM898.5 391.6l2.35 -4.07h4.70l2.35 4.07l-2.35 4.07h-4.70zM905.5 338.7l2.35 -4.07h4.70l2.35 4.07l-2.35 4.07h-4.70zM905.5 346.9l2.35 -4.07h4.70l2.35 4.07l-2.35 4.07h-4.70zM905.5 355.0l2.35 -4.07h4.70l2.35 4.07l-2.35 4.07h-4.70zM905.5 371.3l2.35 -4.07h4.70l2.35 4.07l-2.35 4.07h-4.70zM905.5 395.7l2.35 -4.07h4.70l2.35 4.07l-2.35 4.07h-4.70zM905.5 403.9l2.35 -4.07h4.70l2.35 4.07l-2.35 4.07h-4.70zM912.6 261.4l2.35 -4.07h4.70l2.35 4.07l-2.35 4.07h-4.70zM912.6 285.8l2.35 -4.07h4.70l2.35 4.07l-2.35 4.07h-4.70zM912.6 302.1l2.35 -4.07h4.70l2.35 4.07l-2.35 4.07h-4.70zM912.6 318.4l2.35 -4.07h4.70l2.35 4.07l-2.35 4.07h-4.70zM912.6 326.5l2.35 -4.07h4.70l2.35 4.07l-2.35 4.07h-4.70zM912.6 342.8l2.35 -4.07h4.70l2.35 4.07l-2.35 4.07h-4.70zM912.6 383.5l2.35 -4.07h4.70l2.35 4.07l-2.35 4.07h-4.70zM912.6 399.8l2.35 -4.07h4.70l2.35 4.07l-2.35 4.07h-4.70zM919.6 306.2l2.35 -4.07h4.70l2.35 4.07l-2.35 4.07h-4.70zM919.6 322.4l2.35 -4.07h4.70l2.35 4.07l-2.35 4.07h-4.70zM919.6 330.6l2.35 -4.07h4.70l2.35 4.07l-2.35 4.07h-4.70zM919.6 379.4l2.35 -4.07h4.70l2.35 4.07l-2.35 4.07h-4.70zM926.7 318.4l2.35 -4.07h4.70l2.35 4.07l-2.35 4.07h-4.70zM926.7 326.5l2.35 -4.07h4.70l2.35 4.07l-2.35 4.07h-4.70zM926.7 334.7l2.35 -4.07h4.70l2.35 4.07l-2.35 4.07h-4.70zM926.7 342.8l2.35 -4.07h4.70l2.35 4.07l-2.35 4.07h-4.70zM926.7 350.9l2.35 -4.07h4.70l2.35 4.07l-2.35 4.07h-4.70zM926.7 383.5l2.35 -4.07h4.70l2.35 4.07l-2.35 4.07h-4.70zM933.7 306.2l2.35 -4.07h4.70l2.35 4.07l-2.35 4.07h-4.70zM933.7 314.3l2.35 -4.07h4.70l2.35 4.07l-2.35 4.07h-4.70zM933.7 346.9l2.35 -4.07h4.70l2.35 4.07l-2.35 4.07h-4.70zM933.7 387.6l2.35 -4.07h4.70l2.35 4.07l-2.35 4.07h-4.70zM933.7 420.1l2.35 -4.07h4.70l2.35 4.07l-2.35 4.07h-4.70zM940.8 318.4l2.35 -4.07h4.70l2.35 4.07l-2.35 4.07h-4.70zM940.8 334.7l2.35 -4.07h4.70l2.35 4.07l-2.35 4.07h-4.70zM940.8 342.8l2.35 -4.07h4.70l2.35 4.07l-2.35 4.07h-4.70zM940.8 350.9l2.35 -4.07h4.70l2.35 4.07l-2.35 4.07h-4.70zM940.8 383.5l2.35 -4.07h4.70l2.35 4.07l-2.35 4.07h-4.70zM947.8 322.4l2.35 -4.07h4.70l2.35 4.07l-2.35 4.07h-4.70zM947.8 330.6l2.35 -4.07h4.70l2.35 4.07l-2.35 4.07h-4.70zM947.8 346.9l2.35 -4.07h4.70l2.35 4.07l-2.35 4.07h-4.70zM947.8 363.1l2.35 -4.07h4.70l2.35 4.07l-2.35 4.07h-4.70zM954.9 245.1l2.35 -4.07h4.70l2.35 4.07l-2.35 4.07h-4.70zM954.9 342.8l2.35 -4.07h4.70l2.35 4.07l-2.35 4.07h-4.70zM954.9 367.2l2.35 -4.07h4.70l2.35 4.07l-2.35 4.07h-4.70zM954.9 375.4l2.35 -4.07h4.70l2.35 4.07l-2.35 4.07h-4.70zM961.9 363.1l2.35 -4.07h4.70l2.35 4.07l-2.35 4.07h-4.70zM969.0 294.0l2.35 -4.07h4.70l2.35 4.07l-2.35 4.07h-4.70zM969.0 302.1l2.35 -4.07h4.70l2.35 4.07l-2.35 4.07h-4.70zM969.0 310.2l2.35 -4.07h4.70l2.35 4.07l-2.35 4.07h-4.70zM969.0 334.7l2.35 -4.07h4.70l2.35 4.07l-2.35 4.07h-4.70zM969.0 342.8l2.35 -4.07h4.70l2.35 4.07l-2.35 4.07h-4.70zM976.0 257.3l2.35 -4.07h4.70l2.35 4.07l-2.35 4.07h-4.70zM976.0 265.5l2.35 -4.07h4.70l2.35 4.07l-2.35 4.07h-4.70zM976.0 306.2l2.35 -4.07h4.70l2.35 4.07l-2.35 4.07h-4.70zM976.0 314.3l2.35 -4.07h4.70l2.35 4.07l-2.35 4.07h-4.70zM976.0 322.4l2.35 -4.07h4.70l2.35 4.07l-2.35 4.07h-4.70zM976.0 330.6l2.35 -4.07h4.70l2.35 4.07l-2.35 4.07h-4.70zM976.0 338.7l2.35 -4.07h4.70l2.35 4.07l-2.35 4.07h-4.70zM983.1 269.5l2.35 -4.07h4.70l2.35 4.07l-2.35 4.07h-4.70zM983.1 277.7l2.35 -4.07h4.70l2.35 4.07l-2.35 4.07h-4.70zM983.1 302.1l2.35 -4.07h4.70l2.35 4.07l-2.35 4.07h-4.70zM983.1 310.2l2.35 -4.07h4.70l2.35 4.07l-2.35 4.07h-4.70zM983.1 334.7l2.35 -4.07h4.70l2.35 4.07l-2.35 4.07h-4.70zM983.1 342.8l2.35 -4.07h4.70l2.35 4.07l-2.35 4.07h-4.70zM990.1 289.9l2.35 -4.07h4.70l2.35 4.07l-2.35 4.07h-4.70zM990.1 306.2l2.35 -4.07h4.70l2.35 4.07l-2.35 4.07h-4.70zM990.1 322.4l2.35 -4.07h4.70l2.35 4.07l-2.35 4.07h-4.70zM990.1 330.6l2.35 -4.07h4.70l2.35 4.07l-2.35 4.07h-4.70zM990.1 338.7l2.35 -4.07h4.70l2.35 4.07l-2.35 4.07h-4.70zM990.1 355.0l2.35 -4.07h4.70l2.35 4.07l-2.35 4.07h-4.70zM997.2 302.1l2.35 -4.07h4.70l2.35 4.07l-2.35 4.07h-4.70zM997.2 310.2l2.35 -4.07h4.70l2.35 4.07l-2.35 4.07h-4.70zM997.2 334.7l2.35 -4.07h4.70l2.35 4.07l-2.35 4.07h-4.70zM997.2 342.8l2.35 -4.07h4.70l2.35 4.07l-2.35 4.07h-4.70zM997.2 350.9l2.35 -4.07h4.70l2.35 4.07l-2.35 4.07h-4.70zM1004.2 355.0l2.35 -4.07h4.70l2.35 4.07l-2.35 4.07h-4.70zM1039.5 342.8l2.35 -4.07h4.70l2.35 4.07l-2.35 4.07h-4.70zM792.7 257.3l2.35 -4.07h4.70l2.35 4.07l-2.35 4.07h-4.70zM792.7 265.5l2.35 -4.07h4.70l2.35 4.07l-2.35 4.07h-4.70zM799.8 237.0l2.35 -4.07h4.70l2.35 4.07l-2.35 4.07h-4.70zM799.8 245.1l2.35 -4.07h4.70l2.35 4.07l-2.35 4.07h-4.70zM799.8 261.4l2.35 -4.07h4.70l2.35 4.07l-2.35 4.07h-4.70zM820.9 395.7l2.35 -4.07h4.70l2.35 4.07l-2.35 4.07h-4.70zM835.0 387.6l2.35 -4.07h4.70l2.35 4.07l-2.35 4.07h-4.70zM835.0 395.7l2.35 -4.07h4.70l2.35 4.07l-2.35 4.07h-4.70zM842.1 399.8l2.35 -4.07h4.70l2.35 4.07l-2.35 4.07h-4.70zM849.1 395.7l2.35 -4.07h4.70l2.35 4.07l-2.35 4.07h-4.70zM849.1 403.9l2.35 -4.07h4.70l2.35 4.07l-2.35 4.07h-4.70zM870.3 383.5l2.35 -4.07h4.70l2.35 4.07l-2.35 4.07h-4.70zM877.3 371.3l2.35 -4.07h4.70l2.35 4.07l-2.35 4.07h-4.70zM877.3 387.6l2.35 -4.07h4.70l2.35 4.07l-2.35 4.07h-4.70zM884.4 245.1l2.35 -4.07h4.70l2.35 4.07l-2.35 4.07h-4.70zM884.4 253.3l2.35 -4.07h4.70l2.35 4.07l-2.35 4.07h-4.70zM884.4 342.8l2.35 -4.07h4.70l2.35 4.07l-2.35 4.07h-4.70zM884.4 367.2l2.35 -4.07h4.70l2.35 4.07l-2.35 4.07h-4.70zM891.4 249.2l2.35 -4.07h4.70l2.35 4.07l-2.35 4.07h-4.70zM891.4 281.7l2.35 -4.07h4.70l2.35 4.07l-2.35 4.07h-4.70zM891.4 314.3l2.35 -4.07h4.70l2.35 4.07l-2.35 4.07h-4.70zM891.4 322.4l2.35 -4.07h4.70l2.35 4.07l-2.35 4.07h-4.70zM891.4 346.9l2.35 -4.07h4.70l2.35 4.07l-2.35 4.07h-4.70zM891.4 371.3l2.35 -4.07h4.70l2.35 4.07l-2.35 4.07h-4.70zM891.4 379.4l2.35 -4.07h4.70l2.35 4.07l-2.35 4.07h-4.70zM898.5 245.1l2.35 -4.07h4.70l2.35 4.07l-2.35 4.07h-4.70zM898.5 269.5l2.35 -4.07h4.70l2.35 4.07l-2.35 4.07h-4.70zM898.5 294.0l2.35 -4.07h4.70l2.35 4.07l-2.35 4.07h-4.70zM898.5 302.1l2.35 -4.07h4.70l2.35 4.07l-2.35 4.07h-4.70zM898.5 318.4l2.35 -4.07h4.70l2.35 4.07l-2.35 4.07h-4.70zM905.5 257.3l2.35 -4.07h4.70l2.35 4.07l-2.35 4.07h-4.70zM905.5 281.7l2.35 -4.07h4.70l2.35 4.07l-2.35 4.07h-4.70zM905.5 306.2l2.35 -4.07h4.70l2.35 4.07l-2.35 4.07h-4.70zM905.5 314.3l2.35 -4.07h4.70l2.35 4.07l-2.35 4.07h-4.70zM912.6 253.3l2.35 -4.07h4.70l2.35 4.07l-2.35 4.07h-4.70zM926.7 245.1l2.35 -4.07h4.70l2.35 4.07l-2.35 4.07h-4.70zM961.9 241.0l2.35 -4.07h4.70l2.35 4.07l-2.35 4.07h-4.70zM997.2 326.5l2.35 -4.07h4.70l2.35 4.07l-2.35 4.07h-4.70zM1004.2 306.2l2.35 -4.07h4.70l2.35 4.07l-2.35 4.07h-4.70zM1004.2 314.3l2.35 -4.07h4.70l2.35 4.07l-2.35 4.07h-4.70zM1004.2 330.6l2.35 -4.07h4.70l2.35 4.07l-2.35 4.07h-4.70zM1004.2 346.9l2.35 -4.07h4.70l2.35 4.07l-2.35 4.07h-4.70zM1011.3 318.4l2.35 -4.07h4.70l2.35 4.07l-2.35 4.07h-4.70zM1011.3 334.7l2.35 -4.07h4.70l2.35 4.07l-2.35 4.07h-4.70zM1011.3 342.8l2.35 -4.07h4.70l2.35 4.07l-2.35 4.07h-4.70zM1011.3 350.9l2.35 -4.07h4.70l2.35 4.07l-2.35 4.07h-4.70zM1018.3 281.7l2.35 -4.07h4.70l2.35 4.07l-2.35 4.07h-4.70zM1018.3 346.9l2.35 -4.07h4.70l2.35 4.07l-2.35 4.07h-4.70zM1025.4 334.7l2.35 -4.07h4.70l2.35 4.07l-2.35 4.07h-4.70zM1025.4 342.8l2.35 -4.07h4.70l2.35 4.07l-2.35 4.07h-4.70zM1046.5 338.7l2.35 -4.07h4.70l2.35 4.07l-2.35 4.07h-4.70zM1053.6 294.0l2.35 -4.07h4.70l2.35 4.07l-2.35 4.07h-4.70zM1053.6 334.7l2.35 -4.07h4.70l2.35 4.07l-2.35 4.07h-4.70zM1060.6 314.3l2.35 -4.07h4.70l2.35 4.07l-2.35 4.07h-4.70zM1060.6 322.4l2.35 -4.07h4.70l2.35 4.07l-2.35 4.07h-4.70zM792.7 298.0l2.35 -4.07h4.70l2.35 4.07l-2.35 4.07h-4.70zM792.7 330.6l2.35 -4.07h4.70l2.35 4.07l-2.35 4.07h-4.70zM799.8 269.5l2.35 -4.07h4.70l2.35 4.07l-2.35 4.07h-4.70zM799.8 310.2l2.35 -4.07h4.70l2.35 4.07l-2.35 4.07h-4.70zM799.8 318.4l2.35 -4.07h4.70l2.35 4.07l-2.35 4.07h-4.70zM799.8 383.5l2.35 -4.07h4.70l2.35 4.07l-2.35 4.07h-4.70zM799.8 391.6l2.35 -4.07h4.70l2.35 4.07l-2.35 4.07h-4.70zM806.8 241.0l2.35 -4.07h4.70l2.35 4.07l-2.35 4.07h-4.70zM806.8 249.2l2.35 -4.07h4.70l2.35 4.07l-2.35 4.07h-4.70zM806.8 257.3l2.35 -4.07h4.70l2.35 4.07l-2.35 4.07h-4.70zM806.8 273.6l2.35 -4.07h4.70l2.35 4.07l-2.35 4.07h-4.70zM806.8 289.9l2.35 -4.07h4.70l2.35 4.07l-2.35 4.07h-4.70zM806.8 298.0l2.35 -4.07h4.70l2.35 4.07l-2.35 4.07h-4.70zM806.8 306.2l2.35 -4.07h4.70l2.35 4.07l-2.35 4.07h-4.70zM806.8 314.3l2.35 -4.07h4.70l2.35 4.07l-2.35 4.07h-4.70zM813.9 237.0l2.35 -4.07h4.70l2.35 4.07l-2.35 4.07h-4.70zM813.9 253.3l2.35 -4.07h4.70l2.35 4.07l-2.35 4.07h-4.70zM813.9 261.4l2.35 -4.07h4.70l2.35 4.07l-2.35 4.07h-4.70zM813.9 277.7l2.35 -4.07h4.70l2.35 4.07l-2.35 4.07h-4.70zM813.9 294.0l2.35 -4.07h4.70l2.35 4.07l-2.35 4.07h-4.70zM813.9 391.6l2.35 -4.07h4.70l2.35 4.07l-2.35 4.07h-4.70zM820.9 241.0l2.35 -4.07h4.70l2.35 4.07l-2.35 4.07h-4.70zM820.9 249.2l2.35 -4.07h4.70l2.35 4.07l-2.35 4.07h-4.70zM820.9 265.5l2.35 -4.07h4.70l2.35 4.07l-2.35 4.07h-4.70zM820.9 281.7l2.35 -4.07h4.70l2.35 4.07l-2.35 4.07h-4.70zM820.9 346.9l2.35 -4.07h4.70l2.35 4.07l-2.35 4.07h-4.70zM828.0 228.8l2.35 -4.07h4.70l2.35 4.07l-2.35 4.07h-4.70zM828.0 237.0l2.35 -4.07h4.70l2.35 4.07l-2.35 4.07h-4.70zM828.0 245.1l2.35 -4.07h4.70l2.35 4.07l-2.35 4.07h-4.70zM828.0 261.4l2.35 -4.07h4.70l2.35 4.07l-2.35 4.07h-4.70zM828.0 269.5l2.35 -4.07h4.70l2.35 4.07l-2.35 4.07h-4.70zM828.0 383.5l2.35 -4.07h4.70l2.35 4.07l-2.35 4.07h-4.70zM835.0 232.9l2.35 -4.07h4.70l2.35 4.07l-2.35 4.07h-4.70zM835.0 257.3l2.35 -4.07h4.70l2.35 4.07l-2.35 4.07h-4.70zM835.0 265.5l2.35 -4.07h4.70l2.35 4.07l-2.35 4.07h-4.70zM835.0 281.7l2.35 -4.07h4.70l2.35 4.07l-2.35 4.07h-4.70zM835.0 298.0l2.35 -4.07h4.70l2.35 4.07l-2.35 4.07h-4.70zM835.0 306.2l2.35 -4.07h4.70l2.35 4.07l-2.35 4.07h-4.70zM842.1 237.0l2.35 -4.07h4.70l2.35 4.07l-2.35 4.07h-4.70zM842.1 253.3l2.35 -4.07h4.70l2.35 4.07l-2.35 4.07h-4.70zM842.1 294.0l2.35 -4.07h4.70l2.35 4.07l-2.35 4.07h-4.70zM842.1 383.5l2.35 -4.07h4.70l2.35 4.07l-2.35 4.07h-4.70zM849.1 265.5l2.35 -4.07h4.70l2.35 4.07l-2.35 4.07h-4.70zM849.1 273.6l2.35 -4.07h4.70l2.35 4.07l-2.35 4.07h-4.70zM849.1 298.0l2.35 -4.07h4.70l2.35 4.07l-2.35 4.07h-4.70zM849.1 363.1l2.35 -4.07h4.70l2.35 4.07l-2.35 4.07h-4.70zM849.1 371.3l2.35 -4.07h4.70l2.35 4.07l-2.35 4.07h-4.70zM849.1 387.6l2.35 -4.07h4.70l2.35 4.07l-2.35 4.07h-4.70zM856.2 285.8l2.35 -4.07h4.70l2.35 4.07l-2.35 4.07h-4.70zM856.2 359.1l2.35 -4.07h4.70l2.35 4.07l-2.35 4.07h-4.70zM856.2 367.2l2.35 -4.07h4.70l2.35 4.07l-2.35 4.07h-4.70zM856.2 383.5l2.35 -4.07h4.70l2.35 4.07l-2.35 4.07h-4.70zM863.2 257.3l2.35 -4.07h4.70l2.35 4.07l-2.35 4.07h-4.70zM863.2 265.5l2.35 -4.07h4.70l2.35 4.07l-2.35 4.07h-4.70zM863.2 273.6l2.35 -4.07h4.70l2.35 4.07l-2.35 4.07h-4.70zM863.2 281.7l2.35 -4.07h4.70l2.35 4.07l-2.35 4.07h-4.70zM863.2 346.9l2.35 -4.07h4.70l2.35 4.07l-2.35 4.07h-4.70zM863.2 355.0l2.35 -4.07h4.70l2.35 4.07l-2.35 4.07h-4.70zM863.2 363.1l2.35 -4.07h4.70l2.35 4.07l-2.35 4.07h-4.70zM870.3 253.3l2.35 -4.07h4.70l2.35 4.07l-2.35 4.07h-4.70zM870.3 261.4l2.35 -4.07h4.70l2.35 4.07l-2.35 4.07h-4.70zM870.3 277.7l2.35 -4.07h4.70l2.35 4.07l-2.35 4.07h-4.70zM870.3 318.4l2.35 -4.07h4.70l2.35 4.07l-2.35 4.07h-4.70zM870.3 334.7l2.35 -4.07h4.70l2.35 4.07l-2.35 4.07h-4.70zM877.3 249.2l2.35 -4.07h4.70l2.35 4.07l-2.35 4.07h-4.70zM877.3 281.7l2.35 -4.07h4.70l2.35 4.07l-2.35 4.07h-4.70zM877.3 314.3l2.35 -4.07h4.70l2.35 4.07l-2.35 4.07h-4.70zM877.3 330.6l2.35 -4.07h4.70l2.35 4.07l-2.35 4.07h-4.70zM877.3 338.7l2.35 -4.07h4.70l2.35 4.07l-2.35 4.07h-4.70zM877.3 346.9l2.35 -4.07h4.70l2.35 4.07l-2.35 4.07h-4.70zM884.4 237.0l2.35 -4.07h4.70l2.35 4.07l-2.35 4.07h-4.70zM884.4 326.5l2.35 -4.07h4.70l2.35 4.07l-2.35 4.07h-4.70zM884.4 334.7l2.35 -4.07h4.70l2.35 4.07l-2.35 4.07h-4.70zM884.4 350.9l2.35 -4.07h4.70l2.35 4.07l-2.35 4.07h-4.70zM884.4 359.1l2.35 -4.07h4.70l2.35 4.07l-2.35 4.07h-4.70zM891.4 224.8l2.35 -4.07h4.70l2.35 4.07l-2.35 4.07h-4.70zM891.4 232.9l2.35 -4.07h4.70l2.35 4.07l-2.35 4.07h-4.70zM891.4 298.0l2.35 -4.07h4.70l2.35 4.07l-2.35 4.07h-4.70zM898.5 228.8l2.35 -4.07h4.70l2.35 4.07l-2.35 4.07h-4.70zM898.5 253.3l2.35 -4.07h4.70l2.35 4.07l-2.35 4.07h-4.70zM898.5 285.8l2.35 -4.07h4.70l2.35 4.07l-2.35 4.07h-4.70zM905.5 232.9l2.35 -4.07h4.70l2.35 4.07l-2.35 4.07h-4.70zM905.5 241.0l2.35 -4.07h4.70l2.35 4.07l-2.35 4.07h-4.70zM905.5 249.2l2.35 -4.07h4.70l2.35 4.07l-2.35 4.07h-4.70zM912.6 237.0l2.35 -4.07h4.70l2.35 4.07l-2.35 4.07h-4.70zM926.7 228.8l2.35 -4.07h4.70l2.35 4.07l-2.35 4.07h-4.70zM933.7 241.0l2.35 -4.07h4.70l2.35 4.07l-2.35 4.07h-4.70zM940.8 228.8l2.35 -4.07h4.70l2.35 4.07l-2.35 4.07h-4.70zM947.8 216.6l2.35 -4.07h4.70l2.35 4.07l-2.35 4.07h-4.70zM947.8 232.9l2.35 -4.07h4.70l2.35 4.07l-2.35 4.07h-4.70zM947.8 241.0l2.35 -4.07h4.70l2.35 4.07l-2.35 4.07h-4.70zM954.9 228.8l2.35 -4.07h4.70l2.35 4.07l-2.35 4.07h-4.70zM954.9 237.0l2.35 -4.07h4.70l2.35 4.07l-2.35 4.07h-4.70zM1011.3 302.1l2.35 -4.07h4.70l2.35 4.07l-2.35 4.07h-4.70zM1018.3 314.3l2.35 -4.07h4.70l2.35 4.07l-2.35 4.07h-4.70zM1018.3 322.4l2.35 -4.07h4.70l2.35 4.07l-2.35 4.07h-4.70zM1025.4 277.7l2.35 -4.07h4.70l2.35 4.07l-2.35 4.07h-4.70zM1025.4 285.8l2.35 -4.07h4.70l2.35 4.07l-2.35 4.07h-4.70zM1025.4 294.0l2.35 -4.07h4.70l2.35 4.07l-2.35 4.07h-4.70zM1025.4 302.1l2.35 -4.07h4.70l2.35 4.07l-2.35 4.07h-4.70zM1032.4 298.0l2.35 -4.07h4.70l2.35 4.07l-2.35 4.07h-4.70zM1032.4 314.3l2.35 -4.07h4.70l2.35 4.07l-2.35 4.07h-4.70zM1032.4 322.4l2.35 -4.07h4.70l2.35 4.07l-2.35 4.07h-4.70zM1039.5 285.8l2.35 -4.07h4.70l2.35 4.07l-2.35 4.07h-4.70zM1039.5 326.5l2.35 -4.07h4.70l2.35 4.07l-2.35 4.07h-4.70zM1039.5 334.7l2.35 -4.07h4.70l2.35 4.07l-2.35 4.07h-4.70zM1046.5 289.9l2.35 -4.07h4.70l2.35 4.07l-2.35 4.07h-4.70zM1046.5 306.2l2.35 -4.07h4.70l2.35 4.07l-2.35 4.07h-4.70zM1046.5 314.3l2.35 -4.07h4.70l2.35 4.07l-2.35 4.07h-4.70zM1046.5 322.4l2.35 -4.07h4.70l2.35 4.07l-2.35 4.07h-4.70zM1053.6 310.2l2.35 -4.07h4.70l2.35 4.07l-2.35 4.07h-4.70zM792.7 306.2l2.35 -4.07h4.70l2.35 4.07l-2.35 4.07h-4.70zM792.7 314.3l2.35 -4.07h4.70l2.35 4.07l-2.35 4.07h-4.70zM799.8 228.8l2.35 -4.07h4.70l2.35 4.07l-2.35 4.07h-4.70zM799.8 253.3l2.35 -4.07h4.70l2.35 4.07l-2.35 4.07h-4.70zM806.8 232.9l2.35 -4.07h4.70l2.35 4.07l-2.35 4.07h-4.70zM828.0 342.8l2.35 -4.07h4.70l2.35 4.07l-2.35 4.07h-4.70zM828.0 391.6l2.35 -4.07h4.70l2.35 4.07l-2.35 4.07h-4.70zM835.0 241.0l2.35 -4.07h4.70l2.35 4.07l-2.35 4.07h-4.70zM835.0 249.2l2.35 -4.07h4.70l2.35 4.07l-2.35 4.07h-4.70zM835.0 371.3l2.35 -4.07h4.70l2.35 4.07l-2.35 4.07h-4.70zM835.0 379.4l2.35 -4.07h4.70l2.35 4.07l-2.35 4.07h-4.70zM842.1 245.1l2.35 -4.07h4.70l2.35 4.07l-2.35 4.07h-4.70zM842.1 261.4l2.35 -4.07h4.70l2.35 4.07l-2.35 4.07h-4.70zM842.1 302.1l2.35 -4.07h4.70l2.35 4.07l-2.35 4.07h-4.70zM842.1 391.6l2.35 -4.07h4.70l2.35 4.07l-2.35 4.07h-4.70zM849.1 249.2l2.35 -4.07h4.70l2.35 4.07l-2.35 4.07h-4.70zM849.1 257.3l2.35 -4.07h4.70l2.35 4.07l-2.35 4.07h-4.70zM856.2 375.4l2.35 -4.07h4.70l2.35 4.07l-2.35 4.07h-4.70zM856.2 391.6l2.35 -4.07h4.70l2.35 4.07l-2.35 4.07h-4.70zM863.2 371.3l2.35 -4.07h4.70l2.35 4.07l-2.35 4.07h-4.70zM863.2 379.4l2.35 -4.07h4.70l2.35 4.07l-2.35 4.07h-4.70zM870.3 342.8l2.35 -4.07h4.70l2.35 4.07l-2.35 4.07h-4.70zM870.3 359.1l2.35 -4.07h4.70l2.35 4.07l-2.35 4.07h-4.70zM870.3 367.2l2.35 -4.07h4.70l2.35 4.07l-2.35 4.07h-4.70zM870.3 375.4l2.35 -4.07h4.70l2.35 4.07l-2.35 4.07h-4.70zM877.3 241.0l2.35 -4.07h4.70l2.35 4.07l-2.35 4.07h-4.70zM877.3 257.3l2.35 -4.07h4.70l2.35 4.07l-2.35 4.07h-4.70zM877.3 265.5l2.35 -4.07h4.70l2.35 4.07l-2.35 4.07h-4.70zM877.3 355.0l2.35 -4.07h4.70l2.35 4.07l-2.35 4.07h-4.70zM877.3 363.1l2.35 -4.07h4.70l2.35 4.07l-2.35 4.07h-4.70zM877.3 379.4l2.35 -4.07h4.70l2.35 4.07l-2.35 4.07h-4.70zM884.4 261.4l2.35 -4.07h4.70l2.35 4.07l-2.35 4.07h-4.70zM884.4 269.5l2.35 -4.07h4.70l2.35 4.07l-2.35 4.07h-4.70zM884.4 277.7l2.35 -4.07h4.70l2.35 4.07l-2.35 4.07h-4.70zM884.4 285.8l2.35 -4.07h4.70l2.35 4.07l-2.35 4.07h-4.70zM884.4 318.4l2.35 -4.07h4.70l2.35 4.07l-2.35 4.07h-4.70zM884.4 375.4l2.35 -4.07h4.70l2.35 4.07l-2.35 4.07h-4.70zM891.4 241.0l2.35 -4.07h4.70l2.35 4.07l-2.35 4.07h-4.70zM891.4 257.3l2.35 -4.07h4.70l2.35 4.07l-2.35 4.07h-4.70zM891.4 265.5l2.35 -4.07h4.70l2.35 4.07l-2.35 4.07h-4.70zM891.4 273.6l2.35 -4.07h4.70l2.35 4.07l-2.35 4.07h-4.70zM891.4 338.7l2.35 -4.07h4.70l2.35 4.07l-2.35 4.07h-4.70zM898.5 261.4l2.35 -4.07h4.70l2.35 4.07l-2.35 4.07h-4.70zM898.5 277.7l2.35 -4.07h4.70l2.35 4.07l-2.35 4.07h-4.70zM898.5 310.2l2.35 -4.07h4.70l2.35 4.07l-2.35 4.07h-4.70zM905.5 298.0l2.35 -4.07h4.70l2.35 4.07l-2.35 4.07h-4.70zM919.6 249.2l2.35 -4.07h4.70l2.35 4.07l-2.35 4.07h-4.70zM940.8 237.0l2.35 -4.07h4.70l2.35 4.07l-2.35 4.07h-4.70zM1011.3 310.2l2.35 -4.07h4.70l2.35 4.07l-2.35 4.07h-4.70zM1018.3 289.9l2.35 -4.07h4.70l2.35 4.07l-2.35 4.07h-4.70zM1018.3 298.0l2.35 -4.07h4.70l2.35 4.07l-2.35 4.07h-4.70zM1018.3 306.2l2.35 -4.07h4.70l2.35 4.07l-2.35 4.07h-4.70zM1018.3 330.6l2.35 -4.07h4.70l2.35 4.07l-2.35 4.07h-4.70zM1018.3 338.7l2.35 -4.07h4.70l2.35 4.07l-2.35 4.07h-4.70zM1025.4 310.2l2.35 -4.07h4.70l2.35 4.07l-2.35 4.07h-4.70zM1025.4 318.4l2.35 -4.07h4.70l2.35 4.07l-2.35 4.07h-4.70zM1025.4 326.5l2.35 -4.07h4.70l2.35 4.07l-2.35 4.07h-4.70zM1032.4 306.2l2.35 -4.07h4.70l2.35 4.07l-2.35 4.07h-4.70zM1039.5 294.0l2.35 -4.07h4.70l2.35 4.07l-2.35 4.07h-4.70zM1039.5 302.1l2.35 -4.07h4.70l2.35 4.07l-2.35 4.07h-4.70zM1039.5 310.2l2.35 -4.07h4.70l2.35 4.07l-2.35 4.07h-4.70zM1046.5 298.0l2.35 -4.07h4.70l2.35 4.07l-2.35 4.07h-4.70zM1046.5 330.6l2.35 -4.07h4.70l2.35 4.07l-2.35 4.07h-4.70zM1053.6 302.1l2.35 -4.07h4.70l2.35 4.07l-2.35 4.07h-4.70zM1053.6 326.5l2.35 -4.07h4.70l2.35 4.07l-2.35 4.07h-4.70zM1060.6 306.2l2.35 -4.07h4.70l2.35 4.07l-2.35 4.07h-4.70zM792.7 322.4l2.35 -4.07h4.70l2.35 4.07l-2.35 4.07h-4.70zM792.7 395.7l2.35 -4.07h4.70l2.35 4.07l-2.35 4.07h-4.70zM799.8 294.0l2.35 -4.07h4.70l2.35 4.07l-2.35 4.07h-4.70zM799.8 302.1l2.35 -4.07h4.70l2.35 4.07l-2.35 4.07h-4.70zM799.8 334.7l2.35 -4.07h4.70l2.35 4.07l-2.35 4.07h-4.70zM799.8 367.2l2.35 -4.07h4.70l2.35 4.07l-2.35 4.07h-4.70zM799.8 375.4l2.35 -4.07h4.70l2.35 4.07l-2.35 4.07h-4.70zM806.8 224.8l2.35 -4.07h4.70l2.35 4.07l-2.35 4.07h-4.70zM806.8 265.5l2.35 -4.07h4.70l2.35 4.07l-2.35 4.07h-4.70zM806.8 322.4l2.35 -4.07h4.70l2.35 4.07l-2.35 4.07h-4.70zM806.8 371.3l2.35 -4.07h4.70l2.35 4.07l-2.35 4.07h-4.70zM806.8 387.6l2.35 -4.07h4.70l2.35 4.07l-2.35 4.07h-4.70zM806.8 395.7l2.35 -4.07h4.70l2.35 4.07l-2.35 4.07h-4.70zM813.9 228.8l2.35 -4.07h4.70l2.35 4.07l-2.35 4.07h-4.70zM813.9 269.5l2.35 -4.07h4.70l2.35 4.07l-2.35 4.07h-4.70zM813.9 285.8l2.35 -4.07h4.70l2.35 4.07l-2.35 4.07h-4.70zM813.9 302.1l2.35 -4.07h4.70l2.35 4.07l-2.35 4.07h-4.70zM813.9 334.7l2.35 -4.07h4.70l2.35 4.07l-2.35 4.07h-4.70zM813.9 342.8l2.35 -4.07h4.70l2.35 4.07l-2.35 4.07h-4.70zM820.9 224.8l2.35 -4.07h4.70l2.35 4.07l-2.35 4.07h-4.70zM820.9 232.9l2.35 -4.07h4.70l2.35 4.07l-2.35 4.07h-4.70zM820.9 257.3l2.35 -4.07h4.70l2.35 4.07l-2.35 4.07h-4.70zM820.9 273.6l2.35 -4.07h4.70l2.35 4.07l-2.35 4.07h-4.70zM820.9 289.9l2.35 -4.07h4.70l2.35 4.07l-2.35 4.07h-4.70zM820.9 298.0l2.35 -4.07h4.70l2.35 4.07l-2.35 4.07h-4.70zM820.9 314.3l2.35 -4.07h4.70l2.35 4.07l-2.35 4.07h-4.70zM820.9 322.4l2.35 -4.07h4.70l2.35 4.07l-2.35 4.07h-4.70zM820.9 330.6l2.35 -4.07h4.70l2.35 4.07l-2.35 4.07h-4.70zM820.9 338.7l2.35 -4.07h4.70l2.35 4.07l-2.35 4.07h-4.70zM820.9 387.6l2.35 -4.07h4.70l2.35 4.07l-2.35 4.07h-4.70zM828.0 253.3l2.35 -4.07h4.70l2.35 4.07l-2.35 4.07h-4.70zM828.0 277.7l2.35 -4.07h4.70l2.35 4.07l-2.35 4.07h-4.70zM828.0 285.8l2.35 -4.07h4.70l2.35 4.07l-2.35 4.07h-4.70zM828.0 294.0l2.35 -4.07h4.70l2.35 4.07l-2.35 4.07h-4.70zM828.0 334.7l2.35 -4.07h4.70l2.35 4.07l-2.35 4.07h-4.70zM828.0 375.4l2.35 -4.07h4.70l2.35 4.07l-2.35 4.07h-4.70zM835.0 273.6l2.35 -4.07h4.70l2.35 4.07l-2.35 4.07h-4.70zM835.0 314.3l2.35 -4.07h4.70l2.35 4.07l-2.35 4.07h-4.70zM835.0 338.7l2.35 -4.07h4.70l2.35 4.07l-2.35 4.07h-4.70zM835.0 363.1l2.35 -4.07h4.70l2.35 4.07l-2.35 4.07h-4.70zM842.1 269.5l2.35 -4.07h4.70l2.35 4.07l-2.35 4.07h-4.70zM842.1 310.2l2.35 -4.07h4.70l2.35 4.07l-2.35 4.07h-4.70zM842.1 318.4l2.35 -4.07h4.70l2.35 4.07l-2.35 4.07h-4.70zM842.1 350.9l2.35 -4.07h4.70l2.35 4.07l-2.35 4.07h-4.70zM842.1 359.1l2.35 -4.07h4.70l2.35 4.07l-2.35 4.07h-4.70zM842.1 367.2l2.35 -4.07h4.70l2.35 4.07l-2.35 4.07h-4.70zM842.1 375.4l2.35 -4.07h4.70l2.35 4.07l-2.35 4.07h-4.70zM849.1 338.7l2.35 -4.07h4.70l2.35 4.07l-2.35 4.07h-4.70zM849.1 346.9l2.35 -4.07h4.70l2.35 4.07l-2.35 4.07h-4.70zM849.1 355.0l2.35 -4.07h4.70l2.35 4.07l-2.35 4.07h-4.70zM849.1 379.4l2.35 -4.07h4.70l2.35 4.07l-2.35 4.07h-4.70zM856.2 253.3l2.35 -4.07h4.70l2.35 4.07l-2.35 4.07h-4.70zM856.2 261.4l2.35 -4.07h4.70l2.35 4.07l-2.35 4.07h-4.70zM856.2 269.5l2.35 -4.07h4.70l2.35 4.07l-2.35 4.07h-4.70zM856.2 277.7l2.35 -4.07h4.70l2.35 4.07l-2.35 4.07h-4.70zM856.2 302.1l2.35 -4.07h4.70l2.35 4.07l-2.35 4.07h-4.70zM856.2 326.5l2.35 -4.07h4.70l2.35 4.07l-2.35 4.07h-4.70zM856.2 334.7l2.35 -4.07h4.70l2.35 4.07l-2.35 4.07h-4.70zM863.2 306.2l2.35 -4.07h4.70l2.35 4.07l-2.35 4.07h-4.70zM863.2 322.4l2.35 -4.07h4.70l2.35 4.07l-2.35 4.07h-4.70zM870.3 269.5l2.35 -4.07h4.70l2.35 4.07l-2.35 4.07h-4.70zM870.3 294.0l2.35 -4.07h4.70l2.35 4.07l-2.35 4.07h-4.70zM870.3 302.1l2.35 -4.07h4.70l2.35 4.07l-2.35 4.07h-4.70zM870.3 310.2l2.35 -4.07h4.70l2.35 4.07l-2.35 4.07h-4.70zM870.3 326.5l2.35 -4.07h4.70l2.35 4.07l-2.35 4.07h-4.70zM870.3 350.9l2.35 -4.07h4.70l2.35 4.07l-2.35 4.07h-4.70zM877.3 273.6l2.35 -4.07h4.70l2.35 4.07l-2.35 4.07h-4.70zM877.3 289.9l2.35 -4.07h4.70l2.35 4.07l-2.35 4.07h-4.70zM877.3 298.0l2.35 -4.07h4.70l2.35 4.07l-2.35 4.07h-4.70zM877.3 322.4l2.35 -4.07h4.70l2.35 4.07l-2.35 4.07h-4.70zM884.4 228.8l2.35 -4.07h4.70l2.35 4.07l-2.35 4.07h-4.70zM884.4 294.0l2.35 -4.07h4.70l2.35 4.07l-2.35 4.07h-4.70zM884.4 302.1l2.35 -4.07h4.70l2.35 4.07l-2.35 4.07h-4.70zM884.4 310.2l2.35 -4.07h4.70l2.35 4.07l-2.35 4.07h-4.70zM891.4 192.2l2.35 -4.07h4.70l2.35 4.07l-2.35 4.07h-4.70zM891.4 289.9l2.35 -4.07h4.70l2.35 4.07l-2.35 4.07h-4.70zM891.4 306.2l2.35 -4.07h4.70l2.35 4.07l-2.35 4.07h-4.70zM898.5 163.7l2.35 -4.07h4.70l2.35 4.07l-2.35 4.07h-4.70zM898.5 171.8l2.35 -4.07h4.70l2.35 4.07l-2.35 4.07h-4.70zM898.5 196.3l2.35 -4.07h4.70l2.35 4.07l-2.35 4.07h-4.70zM898.5 237.0l2.35 -4.07h4.70l2.35 4.07l-2.35 4.07h-4.70zM905.5 159.6l2.35 -4.07h4.70l2.35 4.07l-2.35 4.07h-4.70zM905.5 167.8l2.35 -4.07h4.70l2.35 4.07l-2.35 4.07h-4.70zM905.5 216.6l2.35 -4.07h4.70l2.35 4.07l-2.35 4.07h-4.70zM912.6 155.6l2.35 -4.07h4.70l2.35 4.07l-2.35 4.07h-4.70zM912.6 163.7l2.35 -4.07h4.70l2.35 4.07l-2.35 4.07h-4.70zM912.6 188.1l2.35 -4.07h4.70l2.35 4.07l-2.35 4.07h-4.70zM912.6 228.8l2.35 -4.07h4.70l2.35 4.07l-2.35 4.07h-4.70zM912.6 245.1l2.35 -4.07h4.70l2.35 4.07l-2.35 4.07h-4.70zM919.6 184.1l2.35 -4.07h4.70l2.35 4.07l-2.35 4.07h-4.70zM919.6 208.5l2.35 -4.07h4.70l2.35 4.07l-2.35 4.07h-4.70zM919.6 232.9l2.35 -4.07h4.70l2.35 4.07l-2.35 4.07h-4.70zM919.6 241.0l2.35 -4.07h4.70l2.35 4.07l-2.35 4.07h-4.70zM926.7 180.0l2.35 -4.07h4.70l2.35 4.07l-2.35 4.07h-4.70zM926.7 237.0l2.35 -4.07h4.70l2.35 4.07l-2.35 4.07h-4.70zM933.7 216.6l2.35 -4.07h4.70l2.35 4.07l-2.35 4.07h-4.70zM933.7 224.8l2.35 -4.07h4.70l2.35 4.07l-2.35 4.07h-4.70zM933.7 232.9l2.35 -4.07h4.70l2.35 4.07l-2.35 4.07h-4.70zM940.8 204.4l2.35 -4.07h4.70l2.35 4.07l-2.35 4.07h-4.70zM940.8 220.7l2.35 -4.07h4.70l2.35 4.07l-2.35 4.07h-4.70zM947.8 208.5l2.35 -4.07h4.70l2.35 4.07l-2.35 4.07h-4.70zM1032.4 289.9l2.35 -4.07h4.70l2.35 4.07l-2.35 4.07h-4.70zM1032.4 330.6l2.35 -4.07h4.70l2.35 4.07l-2.35 4.07h-4.70zM1039.5 318.4l2.35 -4.07h4.70l2.35 4.07l-2.35 4.07h-4.70zM1053.6 318.4l2.35 -4.07h4.70l2.35 4.07l-2.35 4.07h-4.70zM799.8 326.5l2.35 -4.07h4.70l2.35 4.07l-2.35 4.07h-4.70zM806.8 330.6l2.35 -4.07h4.70l2.35 4.07l-2.35 4.07h-4.70zM806.8 338.7l2.35 -4.07h4.70l2.35 4.07l-2.35 4.07h-4.70zM806.8 346.9l2.35 -4.07h4.70l2.35 4.07l-2.35 4.07h-4.70zM806.8 363.1l2.35 -4.07h4.70l2.35 4.07l-2.35 4.07h-4.70zM806.8 379.4l2.35 -4.07h4.70l2.35 4.07l-2.35 4.07h-4.70zM813.9 245.1l2.35 -4.07h4.70l2.35 4.07l-2.35 4.07h-4.70zM813.9 310.2l2.35 -4.07h4.70l2.35 4.07l-2.35 4.07h-4.70zM813.9 318.4l2.35 -4.07h4.70l2.35 4.07l-2.35 4.07h-4.70zM813.9 350.9l2.35 -4.07h4.70l2.35 4.07l-2.35 4.07h-4.70zM813.9 359.1l2.35 -4.07h4.70l2.35 4.07l-2.35 4.07h-4.70zM813.9 367.2l2.35 -4.07h4.70l2.35 4.07l-2.35 4.07h-4.70zM813.9 375.4l2.35 -4.07h4.70l2.35 4.07l-2.35 4.07h-4.70zM813.9 383.5l2.35 -4.07h4.70l2.35 4.07l-2.35 4.07h-4.70zM820.9 306.2l2.35 -4.07h4.70l2.35 4.07l-2.35 4.07h-4.70zM820.9 355.0l2.35 -4.07h4.70l2.35 4.07l-2.35 4.07h-4.70zM820.9 363.1l2.35 -4.07h4.70l2.35 4.07l-2.35 4.07h-4.70zM820.9 371.3l2.35 -4.07h4.70l2.35 4.07l-2.35 4.07h-4.70zM820.9 379.4l2.35 -4.07h4.70l2.35 4.07l-2.35 4.07h-4.70zM828.0 302.1l2.35 -4.07h4.70l2.35 4.07l-2.35 4.07h-4.70zM828.0 310.2l2.35 -4.07h4.70l2.35 4.07l-2.35 4.07h-4.70zM828.0 318.4l2.35 -4.07h4.70l2.35 4.07l-2.35 4.07h-4.70zM828.0 326.5l2.35 -4.07h4.70l2.35 4.07l-2.35 4.07h-4.70zM828.0 350.9l2.35 -4.07h4.70l2.35 4.07l-2.35 4.07h-4.70zM828.0 359.1l2.35 -4.07h4.70l2.35 4.07l-2.35 4.07h-4.70zM828.0 367.2l2.35 -4.07h4.70l2.35 4.07l-2.35 4.07h-4.70zM835.0 289.9l2.35 -4.07h4.70l2.35 4.07l-2.35 4.07h-4.70zM835.0 322.4l2.35 -4.07h4.70l2.35 4.07l-2.35 4.07h-4.70zM835.0 330.6l2.35 -4.07h4.70l2.35 4.07l-2.35 4.07h-4.70zM842.1 277.7l2.35 -4.07h4.70l2.35 4.07l-2.35 4.07h-4.70zM842.1 285.8l2.35 -4.07h4.70l2.35 4.07l-2.35 4.07h-4.70zM842.1 334.7l2.35 -4.07h4.70l2.35 4.07l-2.35 4.07h-4.70zM849.1 281.7l2.35 -4.07h4.70l2.35 4.07l-2.35 4.07h-4.70zM849.1 289.9l2.35 -4.07h4.70l2.35 4.07l-2.35 4.07h-4.70zM849.1 306.2l2.35 -4.07h4.70l2.35 4.07l-2.35 4.07h-4.70zM849.1 330.6l2.35 -4.07h4.70l2.35 4.07l-2.35 4.07h-4.70zM856.2 294.0l2.35 -4.07h4.70l2.35 4.07l-2.35 4.07h-4.70zM856.2 310.2l2.35 -4.07h4.70l2.35 4.07l-2.35 4.07h-4.70zM856.2 350.9l2.35 -4.07h4.70l2.35 4.07l-2.35 4.07h-4.70zM863.2 289.9l2.35 -4.07h4.70l2.35 4.07l-2.35 4.07h-4.70zM863.2 298.0l2.35 -4.07h4.70l2.35 4.07l-2.35 4.07h-4.70zM863.2 314.3l2.35 -4.07h4.70l2.35 4.07l-2.35 4.07h-4.70zM863.2 330.6l2.35 -4.07h4.70l2.35 4.07l-2.35 4.07h-4.70zM863.2 338.7l2.35 -4.07h4.70l2.35 4.07l-2.35 4.07h-4.70zM870.3 285.8l2.35 -4.07h4.70l2.35 4.07l-2.35 4.07h-4.70zM877.3 306.2l2.35 -4.07h4.70l2.35 4.07l-2.35 4.07h-4.70zM891.4 159.6l2.35 -4.07h4.70l2.35 4.07l-2.35 4.07h-4.70zM891.4 167.8l2.35 -4.07h4.70l2.35 4.07l-2.35 4.07h-4.70zM891.4 175.9l2.35 -4.07h4.70l2.35 4.07l-2.35 4.07h-4.70zM891.4 200.3l2.35 -4.07h4.70l2.35 4.07l-2.35 4.07h-4.70zM891.4 208.5l2.35 -4.07h4.70l2.35 4.07l-2.35 4.07h-4.70zM898.5 155.6l2.35 -4.07h4.70l2.35 4.07l-2.35 4.07h-4.70zM898.5 188.1l2.35 -4.07h4.70l2.35 4.07l-2.35 4.07h-4.70zM898.5 212.5l2.35 -4.07h4.70l2.35 4.07l-2.35 4.07h-4.70zM898.5 220.7l2.35 -4.07h4.70l2.35 4.07l-2.35 4.07h-4.70zM905.5 184.1l2.35 -4.07h4.70l2.35 4.07l-2.35 4.07h-4.70zM905.5 192.2l2.35 -4.07h4.70l2.35 4.07l-2.35 4.07h-4.70zM905.5 200.3l2.35 -4.07h4.70l2.35 4.07l-2.35 4.07h-4.70zM905.5 224.8l2.35 -4.07h4.70l2.35 4.07l-2.35 4.07h-4.70zM912.6 171.8l2.35 -4.07h4.70l2.35 4.07l-2.35 4.07h-4.70zM912.6 180.0l2.35 -4.07h4.70l2.35 4.07l-2.35 4.07h-4.70zM912.6 196.3l2.35 -4.07h4.70l2.35 4.07l-2.35 4.07h-4.70zM912.6 204.4l2.35 -4.07h4.70l2.35 4.07l-2.35 4.07h-4.70zM919.6 159.6l2.35 -4.07h4.70l2.35 4.07l-2.35 4.07h-4.70zM919.6 167.8l2.35 -4.07h4.70l2.35 4.07l-2.35 4.07h-4.70zM919.6 200.3l2.35 -4.07h4.70l2.35 4.07l-2.35 4.07h-4.70zM919.6 224.8l2.35 -4.07h4.70l2.35 4.07l-2.35 4.07h-4.70zM926.7 204.4l2.35 -4.07h4.70l2.35 4.07l-2.35 4.07h-4.70zM926.7 212.5l2.35 -4.07h4.70l2.35 4.07l-2.35 4.07h-4.70zM926.7 220.7l2.35 -4.07h4.70l2.35 4.07l-2.35 4.07h-4.70zM933.7 192.2l2.35 -4.07h4.70l2.35 4.07l-2.35 4.07h-4.70zM933.7 200.3l2.35 -4.07h4.70l2.35 4.07l-2.35 4.07h-4.70zM933.7 208.5l2.35 -4.07h4.70l2.35 4.07l-2.35 4.07h-4.70zM940.8 196.3l2.35 -4.07h4.70l2.35 4.07l-2.35 4.07h-4.70zM947.8 224.8l2.35 -4.07h4.70l2.35 4.07l-2.35 4.07h-4.70zM954.9 220.7l2.35 -4.07h4.70l2.35 4.07l-2.35 4.07h-4.70zM799.8 342.8l2.35 -4.07h4.70l2.35 4.07l-2.35 4.07h-4.70zM806.8 355.0l2.35 -4.07h4.70l2.35 4.07l-2.35 4.07h-4.70zM813.9 326.5l2.35 -4.07h4.70l2.35 4.07l-2.35 4.07h-4.70zM835.0 346.9l2.35 -4.07h4.70l2.35 4.07l-2.35 4.07h-4.70zM835.0 355.0l2.35 -4.07h4.70l2.35 4.07l-2.35 4.07h-4.70zM842.1 326.5l2.35 -4.07h4.70l2.35 4.07l-2.35 4.07h-4.70zM842.1 342.8l2.35 -4.07h4.70l2.35 4.07l-2.35 4.07h-4.70zM849.1 314.3l2.35 -4.07h4.70l2.35 4.07l-2.35 4.07h-4.70zM849.1 322.4l2.35 -4.07h4.70l2.35 4.07l-2.35 4.07h-4.70zM856.2 318.4l2.35 -4.07h4.70l2.35 4.07l-2.35 4.07h-4.70zM856.2 342.8l2.35 -4.07h4.70l2.35 4.07l-2.35 4.07h-4.70zM898.5 180.0l2.35 -4.07h4.70l2.35 4.07l-2.35 4.07h-4.70zM898.5 204.4l2.35 -4.07h4.70l2.35 4.07l-2.35 4.07h-4.70zM905.5 175.9l2.35 -4.07h4.70l2.35 4.07l-2.35 4.07h-4.70zM905.5 208.5l2.35 -4.07h4.70l2.35 4.07l-2.35 4.07h-4.70zM912.6 212.5l2.35 -4.07h4.70l2.35 4.07l-2.35 4.07h-4.70zM912.6 220.7l2.35 -4.07h4.70l2.35 4.07l-2.35 4.07h-4.70zM919.6 151.5l2.35 -4.07h4.70l2.35 4.07l-2.35 4.07h-4.70zM919.6 175.9l2.35 -4.07h4.70l2.35 4.07l-2.35 4.07h-4.70zM919.6 192.2l2.35 -4.07h4.70l2.35 4.07l-2.35 4.07h-4.70zM919.6 216.6l2.35 -4.07h4.70l2.35 4.07l-2.35 4.07h-4.70zM926.7 188.1l2.35 -4.07h4.70l2.35 4.07l-2.35 4.07h-4.70zM926.7 196.3l2.35 -4.07h4.70l2.35 4.07l-2.35 4.07h-4.70zM940.8 212.5l2.35 -4.07h4.70l2.35 4.07l-2.35 4.07h-4.70zM813.9 424.2l2.35 -4.07h4.70l2.35 4.07l-2.35 4.07h-4.70zM813.9 432.3l2.35 -4.07h4.70l2.35 4.07l-2.35 4.07h-4.70zM828.0 424.2l2.35 -4.07h4.70l2.35 4.07l-2.35 4.07h-4.70zM849.1 420.1l2.35 -4.07h4.70l2.35 4.07l-2.35 4.07h-4.70zM919.6 273.6l2.35 -4.07h4.70l2.35 4.07l-2.35 4.07h-4.70zM940.8 294.0l2.35 -4.07h4.70l2.35 4.07l-2.35 4.07h-4.70zM947.8 289.9l2.35 -4.07h4.70l2.35 4.07l-2.35 4.07h-4.70zM947.8 403.9l2.35 -4.07h4.70l2.35 4.07l-2.35 4.07h-4.70zM954.9 285.8l2.35 -4.07h4.70l2.35 4.07l-2.35 4.07h-4.70zM954.9 399.8l2.35 -4.07h4.70l2.35 4.07l-2.35 4.07h-4.70zM961.9 281.7l2.35 -4.07h4.70l2.35 4.07l-2.35 4.07h-4.70zM969.0 253.3l2.35 -4.07h4.70l2.35 4.07l-2.35 4.07h-4.70zM969.0 277.7l2.35 -4.07h4.70l2.35 4.07l-2.35 4.07h-4.70zM976.0 379.4l2.35 -4.07h4.70l2.35 4.07l-2.35 4.07h-4.70zM1025.4 359.1l2.35 -4.07h4.70l2.35 4.07l-2.35 4.07h-4.70zM1046.5 346.9l2.35 -4.07h4.70l2.35 4.07l-2.35 4.07h-4.70zM1053.6 342.8l2.35 -4.07h4.70l2.35 4.07l-2.35 4.07h-4.70zM1081.8 285.8l2.35 -4.07h4.70l2.35 4.07l-2.35 4.07h-4.70zM1081.8 294.0l2.35 -4.07h4.70l2.35 4.07l-2.35 4.07h-4.70zM1081.8 302.1l2.35 -4.07h4.70l2.35 4.07l-2.35 4.07h-4.70zM1088.8 298.0l2.35 -4.07h4.70l2.35 4.07l-2.35 4.07h-4.70zM1102.9 281.7l2.35 -4.07h4.70l2.35 4.07l-2.35 4.07h-4.70zM813.9 440.5l2.35 -4.07h4.70l2.35 4.07l-2.35 4.07h-4.70zM842.1 424.2l2.35 -4.07h4.70l2.35 4.07l-2.35 4.07h-4.70zM849.1 428.3l2.35 -4.07h4.70l2.35 4.07l-2.35 4.07h-4.70zM856.2 424.2l2.35 -4.07h4.70l2.35 4.07l-2.35 4.07h-4.70zM863.2 420.1l2.35 -4.07h4.70l2.35 4.07l-2.35 4.07h-4.70zM947.8 249.2l2.35 -4.07h4.70l2.35 4.07l-2.35 4.07h-4.70zM983.1 375.4l2.35 -4.07h4.70l2.35 4.07l-2.35 4.07h-4.70zM983.1 383.5l2.35 -4.07h4.70l2.35 4.07l-2.35 4.07h-4.70zM990.1 371.3l2.35 -4.07h4.70l2.35 4.07l-2.35 4.07h-4.70zM1004.2 371.3l2.35 -4.07h4.70l2.35 4.07l-2.35 4.07h-4.70zM1011.3 367.2l2.35 -4.07h4.70l2.35 4.07l-2.35 4.07h-4.70zM1018.3 363.1l2.35 -4.07h4.70l2.35 4.07l-2.35 4.07h-4.70zM1032.4 355.0l2.35 -4.07h4.70l2.35 4.07l-2.35 4.07h-4.70zM1067.7 326.5l2.35 -4.07h4.70l2.35 4.07l-2.35 4.07h-4.70zM1074.7 314.3l2.35 -4.07h4.70l2.35 4.07l-2.35 4.07h-4.70zM1081.8 310.2l2.35 -4.07h4.70l2.35 4.07l-2.35 4.07h-4.70zM1095.9 285.8l2.35 -4.07h4.70l2.35 4.07l-2.35 4.07h-4.70zM820.9 412.0l2.35 -4.07h4.70l2.35 4.07l-2.35 4.07h-4.70zM820.9 420.1l2.35 -4.07h4.70l2.35 4.07l-2.35 4.07h-4.70zM856.2 416.1l2.35 -4.07h4.70l2.35 4.07l-2.35 4.07h-4.70zM863.2 412.0l2.35 -4.07h4.70l2.35 4.07l-2.35 4.07h-4.70zM877.3 412.0l2.35 -4.07h4.70l2.35 4.07l-2.35 4.07h-4.70zM891.4 395.7l2.35 -4.07h4.70l2.35 4.07l-2.35 4.07h-4.70zM891.4 412.0l2.35 -4.07h4.70l2.35 4.07l-2.35 4.07h-4.70zM898.5 399.8l2.35 -4.07h4.70l2.35 4.07l-2.35 4.07h-4.70zM898.5 407.9l2.35 -4.07h4.70l2.35 4.07l-2.35 4.07h-4.70zM905.5 379.4l2.35 -4.07h4.70l2.35 4.07l-2.35 4.07h-4.70zM905.5 387.6l2.35 -4.07h4.70l2.35 4.07l-2.35 4.07h-4.70zM905.5 412.0l2.35 -4.07h4.70l2.35 4.07l-2.35 4.07h-4.70zM912.6 277.7l2.35 -4.07h4.70l2.35 4.07l-2.35 4.07h-4.70zM912.6 334.7l2.35 -4.07h4.70l2.35 4.07l-2.35 4.07h-4.70zM912.6 350.9l2.35 -4.07h4.70l2.35 4.07l-2.35 4.07h-4.70zM912.6 359.1l2.35 -4.07h4.70l2.35 4.07l-2.35 4.07h-4.70zM912.6 367.2l2.35 -4.07h4.70l2.35 4.07l-2.35 4.07h-4.70zM912.6 375.4l2.35 -4.07h4.70l2.35 4.07l-2.35 4.07h-4.70zM912.6 391.6l2.35 -4.07h4.70l2.35 4.07l-2.35 4.07h-4.70zM912.6 407.9l2.35 -4.07h4.70l2.35 4.07l-2.35 4.07h-4.70zM912.6 416.1l2.35 -4.07h4.70l2.35 4.07l-2.35 4.07h-4.70zM919.6 289.9l2.35 -4.07h4.70l2.35 4.07l-2.35 4.07h-4.70zM919.6 338.7l2.35 -4.07h4.70l2.35 4.07l-2.35 4.07h-4.70zM919.6 346.9l2.35 -4.07h4.70l2.35 4.07l-2.35 4.07h-4.70zM919.6 355.0l2.35 -4.07h4.70l2.35 4.07l-2.35 4.07h-4.70zM919.6 363.1l2.35 -4.07h4.70l2.35 4.07l-2.35 4.07h-4.70zM919.6 371.3l2.35 -4.07h4.70l2.35 4.07l-2.35 4.07h-4.70zM919.6 387.6l2.35 -4.07h4.70l2.35 4.07l-2.35 4.07h-4.70zM919.6 395.7l2.35 -4.07h4.70l2.35 4.07l-2.35 4.07h-4.70zM919.6 403.9l2.35 -4.07h4.70l2.35 4.07l-2.35 4.07h-4.70zM919.6 412.0l2.35 -4.07h4.70l2.35 4.07l-2.35 4.07h-4.70zM919.6 420.1l2.35 -4.07h4.70l2.35 4.07l-2.35 4.07h-4.70zM926.7 302.1l2.35 -4.07h4.70l2.35 4.07l-2.35 4.07h-4.70zM926.7 310.2l2.35 -4.07h4.70l2.35 4.07l-2.35 4.07h-4.70zM926.7 367.2l2.35 -4.07h4.70l2.35 4.07l-2.35 4.07h-4.70zM926.7 375.4l2.35 -4.07h4.70l2.35 4.07l-2.35 4.07h-4.70zM926.7 399.8l2.35 -4.07h4.70l2.35 4.07l-2.35 4.07h-4.70zM933.7 322.4l2.35 -4.07h4.70l2.35 4.07l-2.35 4.07h-4.70zM933.7 330.6l2.35 -4.07h4.70l2.35 4.07l-2.35 4.07h-4.70zM933.7 338.7l2.35 -4.07h4.70l2.35 4.07l-2.35 4.07h-4.70zM933.7 355.0l2.35 -4.07h4.70l2.35 4.07l-2.35 4.07h-4.70zM933.7 363.1l2.35 -4.07h4.70l2.35 4.07l-2.35 4.07h-4.70zM933.7 379.4l2.35 -4.07h4.70l2.35 4.07l-2.35 4.07h-4.70zM933.7 403.9l2.35 -4.07h4.70l2.35 4.07l-2.35 4.07h-4.70zM940.8 310.2l2.35 -4.07h4.70l2.35 4.07l-2.35 4.07h-4.70zM940.8 359.1l2.35 -4.07h4.70l2.35 4.07l-2.35 4.07h-4.70zM940.8 367.2l2.35 -4.07h4.70l2.35 4.07l-2.35 4.07h-4.70zM940.8 375.4l2.35 -4.07h4.70l2.35 4.07l-2.35 4.07h-4.70zM947.8 306.2l2.35 -4.07h4.70l2.35 4.07l-2.35 4.07h-4.70zM947.8 314.3l2.35 -4.07h4.70l2.35 4.07l-2.35 4.07h-4.70zM947.8 338.7l2.35 -4.07h4.70l2.35 4.07l-2.35 4.07h-4.70zM947.8 371.3l2.35 -4.07h4.70l2.35 4.07l-2.35 4.07h-4.70zM947.8 379.4l2.35 -4.07h4.70l2.35 4.07l-2.35 4.07h-4.70zM954.9 350.9l2.35 -4.07h4.70l2.35 4.07l-2.35 4.07h-4.70zM961.9 289.9l2.35 -4.07h4.70l2.35 4.07l-2.35 4.07h-4.70zM961.9 298.0l2.35 -4.07h4.70l2.35 4.07l-2.35 4.07h-4.70zM961.9 314.3l2.35 -4.07h4.70l2.35 4.07l-2.35 4.07h-4.70zM961.9 322.4l2.35 -4.07h4.70l2.35 4.07l-2.35 4.07h-4.70zM961.9 330.6l2.35 -4.07h4.70l2.35 4.07l-2.35 4.07h-4.70zM961.9 338.7l2.35 -4.07h4.70l2.35 4.07l-2.35 4.07h-4.70zM961.9 355.0l2.35 -4.07h4.70l2.35 4.07l-2.35 4.07h-4.70zM969.0 350.9l2.35 -4.07h4.70l2.35 4.07l-2.35 4.07h-4.70zM969.0 359.1l2.35 -4.07h4.70l2.35 4.07l-2.35 4.07h-4.70zM976.0 289.9l2.35 -4.07h4.70l2.35 4.07l-2.35 4.07h-4.70zM976.0 298.0l2.35 -4.07h4.70l2.35 4.07l-2.35 4.07h-4.70zM976.0 346.9l2.35 -4.07h4.70l2.35 4.07l-2.35 4.07h-4.70zM976.0 355.0l2.35 -4.07h4.70l2.35 4.07l-2.35 4.07h-4.70zM983.1 285.8l2.35 -4.07h4.70l2.35 4.07l-2.35 4.07h-4.70zM983.1 294.0l2.35 -4.07h4.70l2.35 4.07l-2.35 4.07h-4.70zM983.1 318.4l2.35 -4.07h4.70l2.35 4.07l-2.35 4.07h-4.70zM983.1 326.5l2.35 -4.07h4.70l2.35 4.07l-2.35 4.07h-4.70zM983.1 350.9l2.35 -4.07h4.70l2.35 4.07l-2.35 4.07h-4.70zM997.2 359.1l2.35 -4.07h4.70l2.35 4.07l-2.35 4.07h-4.70zM1018.3 355.0l2.35 -4.07h4.70l2.35 4.07l-2.35 4.07h-4.70zM1067.7 302.1l2.35 -4.07h4.70l2.35 4.07l-2.35 4.07h-4.70zM1067.7 310.2l2.35 -4.07h4.70l2.35 4.07l-2.35 4.07h-4.70zM1074.7 289.9l2.35 -4.07h4.70l2.35 4.07l-2.35 4.07h-4.70zM1074.7 298.0l2.35 -4.07h4.70l2.35 4.07l-2.35 4.07h-4.70zM1074.7 306.2l2.35 -4.07h4.70l2.35 4.07l-2.35 4.07h-4.70zM820.9 428.3l2.35 -4.07h4.70l2.35 4.07l-2.35 4.07h-4.70zM835.0 420.1l2.35 -4.07h4.70l2.35 4.07l-2.35 4.07h-4.70zM919.6 265.5l2.35 -4.07h4.70l2.35 4.07l-2.35 4.07h-4.70zM919.6 281.7l2.35 -4.07h4.70l2.35 4.07l-2.35 4.07h-4.70zM926.7 253.3l2.35 -4.07h4.70l2.35 4.07l-2.35 4.07h-4.70zM933.7 298.0l2.35 -4.07h4.70l2.35 4.07l-2.35 4.07h-4.70zM940.8 302.1l2.35 -4.07h4.70l2.35 4.07l-2.35 4.07h-4.70zM940.8 399.8l2.35 -4.07h4.70l2.35 4.07l-2.35 4.07h-4.70zM940.8 407.9l2.35 -4.07h4.70l2.35 4.07l-2.35 4.07h-4.70zM940.8 416.1l2.35 -4.07h4.70l2.35 4.07l-2.35 4.07h-4.70zM947.8 395.7l2.35 -4.07h4.70l2.35 4.07l-2.35 4.07h-4.70zM954.9 294.0l2.35 -4.07h4.70l2.35 4.07l-2.35 4.07h-4.70zM954.9 391.6l2.35 -4.07h4.70l2.35 4.07l-2.35 4.07h-4.70zM961.9 249.2l2.35 -4.07h4.70l2.35 4.07l-2.35 4.07h-4.70zM969.0 367.2l2.35 -4.07h4.70l2.35 4.07l-2.35 4.07h-4.70zM976.0 387.6l2.35 -4.07h4.70l2.35 4.07l-2.35 4.07h-4.70zM1025.4 350.9l2.35 -4.07h4.70l2.35 4.07l-2.35 4.07h-4.70zM820.9 436.4l2.35 -4.07h4.70l2.35 4.07l-2.35 4.07h-4.70zM820.9 444.6l2.35 -4.07h4.70l2.35 4.07l-2.35 4.07h-4.70zM842.1 432.3l2.35 -4.07h4.70l2.35 4.07l-2.35 4.07h-4.70zM961.9 273.6l2.35 -4.07h4.70l2.35 4.07l-2.35 4.07h-4.70zM997.2 375.4l2.35 -4.07h4.70l2.35 4.07l-2.35 4.07h-4.70zM997.2 383.5l2.35 -4.07h4.70l2.35 4.07l-2.35 4.07h-4.70zM1018.3 371.3l2.35 -4.07h4.70l2.35 4.07l-2.35 4.07h-4.70zM1039.5 350.9l2.35 -4.07h4.70l2.35 4.07l-2.35 4.07h-4.70zM1067.7 334.7l2.35 -4.07h4.70l2.35 4.07l-2.35 4.07h-4.70zM1081.8 318.4l2.35 -4.07h4.70l2.35 4.07l-2.35 4.07h-4.70zM1088.8 314.3l2.35 -4.07h4.70l2.35 4.07l-2.35 4.07h-4.70zM1095.9 294.0l2.35 -4.07h4.70l2.35 4.07l-2.35 4.07h-4.70zM1095.9 302.1l2.35 -4.07h4.70l2.35 4.07l-2.35 4.07h-4.70zM1095.9 310.2l2.35 -4.07h4.70l2.35 4.07l-2.35 4.07h-4.70zM1102.9 298.0l2.35 -4.07h4.70l2.35 4.07l-2.35 4.07h-4.70zM1110.0 302.1l2.35 -4.07h4.70l2.35 4.07l-2.35 4.07h-4.70zM828.0 416.1l2.35 -4.07h4.70l2.35 4.07l-2.35 4.07h-4.70zM842.1 416.1l2.35 -4.07h4.70l2.35 4.07l-2.35 4.07h-4.70zM870.3 416.1l2.35 -4.07h4.70l2.35 4.07l-2.35 4.07h-4.70zM877.3 420.1l2.35 -4.07h4.70l2.35 4.07l-2.35 4.07h-4.70zM884.4 416.1l2.35 -4.07h4.70l2.35 4.07l-2.35 4.07h-4.70zM898.5 416.1l2.35 -4.07h4.70l2.35 4.07l-2.35 4.07h-4.70zM912.6 269.5l2.35 -4.07h4.70l2.35 4.07l-2.35 4.07h-4.70zM919.6 257.3l2.35 -4.07h4.70l2.35 4.07l-2.35 4.07h-4.70zM926.7 294.0l2.35 -4.07h4.70l2.35 4.07l-2.35 4.07h-4.70zM926.7 359.1l2.35 -4.07h4.70l2.35 4.07l-2.35 4.07h-4.70zM926.7 391.6l2.35 -4.07h4.70l2.35 4.07l-2.35 4.07h-4.70zM926.7 407.9l2.35 -4.07h4.70l2.35 4.07l-2.35 4.07h-4.70zM926.7 416.1l2.35 -4.07h4.70l2.35 4.07l-2.35 4.07h-4.70zM926.7 424.2l2.35 -4.07h4.70l2.35 4.07l-2.35 4.07h-4.70zM933.7 249.2l2.35 -4.07h4.70l2.35 4.07l-2.35 4.07h-4.70zM933.7 371.3l2.35 -4.07h4.70l2.35 4.07l-2.35 4.07h-4.70zM933.7 395.7l2.35 -4.07h4.70l2.35 4.07l-2.35 4.07h-4.70zM933.7 412.0l2.35 -4.07h4.70l2.35 4.07l-2.35 4.07h-4.70zM940.8 326.5l2.35 -4.07h4.70l2.35 4.07l-2.35 4.07h-4.70zM940.8 391.6l2.35 -4.07h4.70l2.35 4.07l-2.35 4.07h-4.70zM947.8 298.0l2.35 -4.07h4.70l2.35 4.07l-2.35 4.07h-4.70zM947.8 355.0l2.35 -4.07h4.70l2.35 4.07l-2.35 4.07h-4.70zM947.8 387.6l2.35 -4.07h4.70l2.35 4.07l-2.35 4.07h-4.70zM954.9 302.1l2.35 -4.07h4.70l2.35 4.07l-2.35 4.07h-4.70zM954.9 310.2l2.35 -4.07h4.70l2.35 4.07l-2.35 4.07h-4.70zM954.9 318.4l2.35 -4.07h4.70l2.35 4.07l-2.35 4.07h-4.70zM954.9 326.5l2.35 -4.07h4.70l2.35 4.07l-2.35 4.07h-4.70zM954.9 334.7l2.35 -4.07h4.70l2.35 4.07l-2.35 4.07h-4.70zM954.9 359.1l2.35 -4.07h4.70l2.35 4.07l-2.35 4.07h-4.70zM954.9 383.5l2.35 -4.07h4.70l2.35 4.07l-2.35 4.07h-4.70zM961.9 306.2l2.35 -4.07h4.70l2.35 4.07l-2.35 4.07h-4.70zM961.9 346.9l2.35 -4.07h4.70l2.35 4.07l-2.35 4.07h-4.70zM961.9 371.3l2.35 -4.07h4.70l2.35 4.07l-2.35 4.07h-4.70zM961.9 379.4l2.35 -4.07h4.70l2.35 4.07l-2.35 4.07h-4.70zM961.9 387.6l2.35 -4.07h4.70l2.35 4.07l-2.35 4.07h-4.70zM961.9 395.7l2.35 -4.07h4.70l2.35 4.07l-2.35 4.07h-4.70zM969.0 285.8l2.35 -4.07h4.70l2.35 4.07l-2.35 4.07h-4.70zM969.0 318.4l2.35 -4.07h4.70l2.35 4.07l-2.35 4.07h-4.70zM969.0 326.5l2.35 -4.07h4.70l2.35 4.07l-2.35 4.07h-4.70zM969.0 375.4l2.35 -4.07h4.70l2.35 4.07l-2.35 4.07h-4.70zM969.0 383.5l2.35 -4.07h4.70l2.35 4.07l-2.35 4.07h-4.70zM969.0 391.6l2.35 -4.07h4.70l2.35 4.07l-2.35 4.07h-4.70zM976.0 273.6l2.35 -4.07h4.70l2.35 4.07l-2.35 4.07h-4.70zM976.0 281.7l2.35 -4.07h4.70l2.35 4.07l-2.35 4.07h-4.70zM976.0 363.1l2.35 -4.07h4.70l2.35 4.07l-2.35 4.07h-4.70zM976.0 371.3l2.35 -4.07h4.70l2.35 4.07l-2.35 4.07h-4.70zM983.1 359.1l2.35 -4.07h4.70l2.35 4.07l-2.35 4.07h-4.70zM983.1 367.2l2.35 -4.07h4.70l2.35 4.07l-2.35 4.07h-4.70zM990.1 363.1l2.35 -4.07h4.70l2.35 4.07l-2.35 4.07h-4.70zM997.2 367.2l2.35 -4.07h4.70l2.35 4.07l-2.35 4.07h-4.70zM1004.2 363.1l2.35 -4.07h4.70l2.35 4.07l-2.35 4.07h-4.70zM1011.3 359.1l2.35 -4.07h4.70l2.35 4.07l-2.35 4.07h-4.70zM1032.4 346.9l2.35 -4.07h4.70l2.35 4.07l-2.35 4.07h-4.70zM1067.7 318.4l2.35 -4.07h4.70l2.35 4.07l-2.35 4.07h-4.70zM828.0 432.3l2.35 -4.07h4.70l2.35 4.07l-2.35 4.07h-4.70zM835.0 428.3l2.35 -4.07h4.70l2.35 4.07l-2.35 4.07h-4.70zM835.0 436.4l2.35 -4.07h4.70l2.35 4.07l-2.35 4.07h-4.70zM926.7 285.8l2.35 -4.07h4.70l2.35 4.07l-2.35 4.07h-4.70zM969.0 261.4l2.35 -4.07h4.70l2.35 4.07l-2.35 4.07h-4.70zM969.0 269.5l2.35 -4.07h4.70l2.35 4.07l-2.35 4.07h-4.70zM990.1 379.4l2.35 -4.07h4.70l2.35 4.07l-2.35 4.07h-4.70zM1060.6 338.7l2.35 -4.07h4.70l2.35 4.07l-2.35 4.07h-4.70zM1088.8 289.9l2.35 -4.07h4.70l2.35 4.07l-2.35 4.07h-4.70zM1088.8 306.2l2.35 -4.07h4.70l2.35 4.07l-2.35 4.07h-4.70zM1102.9 289.9l2.35 -4.07h4.70l2.35 4.07l-2.35 4.07h-4.70zM1102.9 306.2l2.35 -4.07h4.70l2.35 4.07l-2.35 4.07h-4.70zM1110.0 294.0l2.35 -4.07h4.70l2.35 4.07l-2.35 4.07h-4.70zM828.0 440.5l2.35 -4.07h4.70l2.35 4.07l-2.35 4.07h-4.70zM926.7 261.4l2.35 -4.07h4.70l2.35 4.07l-2.35 4.07h-4.70zM926.7 269.5l2.35 -4.07h4.70l2.35 4.07l-2.35 4.07h-4.70zM933.7 257.3l2.35 -4.07h4.70l2.35 4.07l-2.35 4.07h-4.70zM933.7 289.9l2.35 -4.07h4.70l2.35 4.07l-2.35 4.07h-4.70zM940.8 253.3l2.35 -4.07h4.70l2.35 4.07l-2.35 4.07h-4.70zM954.9 253.3l2.35 -4.07h4.70l2.35 4.07l-2.35 4.07h-4.70zM1004.2 379.4l2.35 -4.07h4.70l2.35 4.07l-2.35 4.07h-4.70zM1011.3 383.5l2.35 -4.07h4.70l2.35 4.07l-2.35 4.07h-4.70zM1018.3 379.4l2.35 -4.07h4.70l2.35 4.07l-2.35 4.07h-4.70zM1025.4 367.2l2.35 -4.07h4.70l2.35 4.07l-2.35 4.07h-4.70zM1025.4 383.5l2.35 -4.07h4.70l2.35 4.07l-2.35 4.07h-4.70zM1032.4 379.4l2.35 -4.07h4.70l2.35 4.07l-2.35 4.07h-4.70zM1046.5 355.0l2.35 -4.07h4.70l2.35 4.07l-2.35 4.07h-4.70zM1074.7 322.4l2.35 -4.07h4.70l2.35 4.07l-2.35 4.07h-4.70zM1081.8 326.5l2.35 -4.07h4.70l2.35 4.07l-2.35 4.07h-4.70zM1088.8 322.4l2.35 -4.07h4.70l2.35 4.07l-2.35 4.07h-4.70zM1095.9 318.4l2.35 -4.07h4.70l2.35 4.07l-2.35 4.07h-4.70zM926.7 277.7l2.35 -4.07h4.70l2.35 4.07l-2.35 4.07h-4.70zM933.7 281.7l2.35 -4.07h4.70l2.35 4.07l-2.35 4.07h-4.70zM940.8 285.8l2.35 -4.07h4.70l2.35 4.07l-2.35 4.07h-4.70zM947.8 281.7l2.35 -4.07h4.70l2.35 4.07l-2.35 4.07h-4.70zM954.9 261.4l2.35 -4.07h4.70l2.35 4.07l-2.35 4.07h-4.70zM954.9 269.5l2.35 -4.07h4.70l2.35 4.07l-2.35 4.07h-4.70zM954.9 277.7l2.35 -4.07h4.70l2.35 4.07l-2.35 4.07h-4.70zM961.9 257.3l2.35 -4.07h4.70l2.35 4.07l-2.35 4.07h-4.70zM961.9 265.5l2.35 -4.07h4.70l2.35 4.07l-2.35 4.07h-4.70zM1011.3 375.4l2.35 -4.07h4.70l2.35 4.07l-2.35 4.07h-4.70zM1025.4 375.4l2.35 -4.07h4.70l2.35 4.07l-2.35 4.07h-4.70zM1032.4 371.3l2.35 -4.07h4.70l2.35 4.07l-2.35 4.07h-4.70zM1039.5 359.1l2.35 -4.07h4.70l2.35 4.07l-2.35 4.07h-4.70zM1039.5 367.2l2.35 -4.07h4.70l2.35 4.07l-2.35 4.07h-4.70zM1046.5 363.1l2.35 -4.07h4.70l2.35 4.07l-2.35 4.07h-4.70zM1053.6 350.9l2.35 -4.07h4.70l2.35 4.07l-2.35 4.07h-4.70zM1053.6 359.1l2.35 -4.07h4.70l2.35 4.07l-2.35 4.07h-4.70zM1074.7 330.6l2.35 -4.07h4.70l2.35 4.07l-2.35 4.07h-4.70zM1074.7 338.7l2.35 -4.07h4.70l2.35 4.07l-2.35 4.07h-4.70zM1081.8 334.7l2.35 -4.07h4.70l2.35 4.07l-2.35 4.07h-4.70zM933.7 265.5l2.35 -4.07h4.70l2.35 4.07l-2.35 4.07h-4.70zM940.8 261.4l2.35 -4.07h4.70l2.35 4.07l-2.35 4.07h-4.70zM940.8 277.7l2.35 -4.07h4.70l2.35 4.07l-2.35 4.07h-4.70zM947.8 265.5l2.35 -4.07h4.70l2.35 4.07l-2.35 4.07h-4.70zM947.8 273.6l2.35 -4.07h4.70l2.35 4.07l-2.35 4.07h-4.70zM933.7 273.6l2.35 -4.07h4.70l2.35 4.07l-2.35 4.07h-4.70zM1018.3 387.6l2.35 -4.07h4.70l2.35 4.07l-2.35 4.07h-4.70zM1032.4 363.1l2.35 -4.07h4.70l2.35 4.07l-2.35 4.07h-4.70zM1053.6 367.2l2.35 -4.07h4.70l2.35 4.07l-2.35 4.07h-4.70zM940.8 269.5l2.35 -4.07h4.70l2.35 4.07l-2.35 4.07h-4.70zM947.8 257.3l2.35 -4.07h4.70l2.35 4.07l-2.35 4.07h-4.70zM1046.5 371.3l2.35 -4.07h4.70l2.35 4.07l-2.35 4.07h-4.70zM1060.6 363.1l2.35 -4.07h4.70l2.35 4.07l-2.35 4.07h-4.70zM1060.6 346.9l2.35 -4.07h4.70l2.35 4.07l-2.35 4.07h-4.70zM1074.7 346.9l2.35 -4.07h4.70l2.35 4.07l-2.35 4.07h-4.70zM1060.6 355.0l2.35 -4.07h4.70l2.35 4.07l-2.35 4.07h-4.70zM1067.7 342.8l2.35 -4.07h4.70l2.35 4.07l-2.35 4.07h-4.70zM1067.7 359.1l2.35 -4.07h4.70l2.35 4.07l-2.35 4.07h-4.70zM1074.7 355.0l2.35 -4.07h4.70l2.35 4.07l-2.35 4.07h-4.70zM1067.7 350.9l2.35 -4.07h4.70l2.35 4.07l-2.35 4.07h-4.70z"/>
<path fill="rgb(156,212,87)" d="M1067.4 350.9l2.48 -4.32h4.95l2.48 4.32l-2.48 4.32h-4.95z"/>
<path fill="rgb(140,207,97)" d="M1060.4 355.0l2.48 -4.32h4.95l2.48 4.32l-2.48 4.32h-4.95zM1067.4 342.8l2.48 -4.32h4.95l2.48 4.32l-2.48 4.32h-4.95zM1067.4 359.1l2.48 -4.32h4.95l2.48 4.32l-2.48 4.32h-4.95zM1074.5 355.0l2.48 -4.32h4.95l2.48 4.32l-2.48 4.32h-4.95z"/>
<path fill="rgb(125,202,105)" d="M1060.4 346.9l2.48 -4.32h4.95l2.48 4.32l-2.48 4.32h-4.95zM1074.5 346.9l2.48 -4.32h4.95l2.48 4.32l-2.48 4.32h-4.95z"/>
<path fill="rgb(94,192,122)" d="M940.5 269.5l2.48 -4.32h4.95l2.48 4.32l-2.48 4.32h-4.95z"/>
<path fill="rgb(84,185,128)" d="M933.5 265.5l2.48 -4.32h4.95l2.48 4.32l-2.48 4.32h-4.95zM940.5 261.4l2.48 -4.32h4.95l2.48 4.32l-2.48 4.32h-4.95zM940.5 277.7l2.48 -4.32h4.95l2.48 4.32l-2.48 4.32h-4.95zM947.6 265.5l2.48 -4.32h4.95l2.48 4.32l-2.48 4.32h-4.95zM947.6 273.6l2.48 -4.32h4.95l2.48 4.32l-2.48 4.32h-4.95z"/>
<path fill="rgb(74,178,134)" d="M947.6 257.3l2.48 -4.32h4.95l2.48 4.32l-2.48 4.32h-4.95zM1046.3 371.3l2.48 -4.32h4.95l2.48 4.32l-2.48 4.32h-4.95zM1060.4 363.1l2.48 -4.32h4.95l2.48 4.32l-2.48 4.32h-4.95z"/>
<path fill="rgb(64,171,139)" d="M933.5 273.6l2.48 -4.32h4.95l2.48 4.32l-2.48 4.32h-4.95zM1018.1 387.6l2.48 -4.32h4.95l2.48 4.32l-2.48 4.32h-4.95zM1032.2 363.1l2.48 -4.32h4.95l2.48 4.32l-2.48 4.32h-4.95zM1053.3 367.2l2.48 -4.32h4.95l2.48 4.32l-2.48 4.32h-4.95z"/>
<path fill="rgb(60,164,143)" d="M926.4 277.7l2.48 -4.32h4.95l2.48 4.32l-2.48 4.32h-4.95zM933.5 281.7l2.48 -4.32h4.95l2.48 4.32l-2.48 4.32h-4.95zM940.5 285.8l2.48 -4.32h4.95l2.48 4.32l-2.48 4.32h-4.95zM947.6 281.7l2.48 -4.32h4.95l2.48 4.32l-2.48 4.32h-4.95zM954.6 261.4l2.48 -4.32h4.95l2.48 4.32l-2.48 4.32h-4.95zM954.6 269.5l2.48 -4.32h4.95l2.48 4.32l-2.48 4.32h-4.95zM954.6 277.7l2.48 -4.32h4.95l2.48 4.32l-2.48 4.32h-4.95zM961.7 257.3l2.48 -4.32h4.95l2.48 4.32l-2.48 4.32h-4.95zM961.7 265.5l2.48 -4.32h4.95l2.48 4.32l-2.48 4.32h-4.95zM1011.0 375.4l2.48 -4.32h4.95l2.48 4.32l-2.48 4.32h-4.95zM1025.1 375.4l2.48 -4.32h4.95l2.48 4.32l-2.48 4.32h-4.95zM1032.2 371.3l2.48 -4.32h4.95l2.48 4.32l-2.48 4.32h-4.95zM1039.2 359.1l2.48 -4.32h4.95l2.48 4.32l-2.48 4.32h-4.95zM1039.2 367.2l2.48 -4.32h4.95l2.48 4.32l-2.48 4.32h-4.95zM1046.3 363.1l2.48 -4.32h4.95l2.48 4.32l-2.48 4.32h-4.95zM1053.3 350.9l2.48 -4.32h4.95l2.48 4.32l-2.48 4.32h-4.95zM1053.3 359.1l2.48 -4.32h4.95l2.48 4.32l-2.48 4.32h-4.95zM1074.5 330.6l2.48 -4.32h4.95l2.48 4.32l-2.48 4.32h-4.95zM1074.5 338.7l2.48 -4.32h4.95l2.48 4.32l-2.48 4.32h-4.95zM1081.5 334.7l2.48 -4.32h4.95l2.48 4.32l-2.48 4.32h-4.95z"/>
<path fill="rgb(58,157,146)" d="M827.7 440.5l2.48 -4.32h4.95l2.48 4.32l-2.48 4.32h-4.95zM926.4 261.4l2.48 -4.32h4.95l2.48 4.32l-2.48 4.32h-4.95zM926.4 269.5l2.48 -4.32h4.95l2.48 4.32l-2.48 4.32h-4.95zM933.5 257.3l2.48 -4.32h4.95l2.48 4.32l-2.48 4.32h-4.95zM933.5 289.9l2.48 -4.32h4.95l2.48 4.32l-2.48 4.32h-4.95zM940.5 253.3l2.48 -4.32h4.95l2.48 4.32l-2.48 4.32h-4.95zM954.6 253.3l2.48 -4.32h4.95l2.48 4.32l-2.48 4.32h-4.95zM1004.0 379.4l2.48 -4.32h4.95l2.48 4.32l-2.48 4.32h-4.95zM1011.0 383.5l2.48 -4.32h4.95l2.48 4.32l-2.48 4.32h-4.95zM1018.1 379.4l2.48 -4.32h4.95l2.48 4.32l-2.48 4.32h-4.95zM1025.1 367.2l2.48 -4.32h4.95l2.48 4.32l-2.48 4.32h-4.95zM1025.1 383.5l2.48 -4.32h4.95l2.48 4.32l-2.48 4.32h-4.95zM1032.2 379.4l2.48 -4.32h4.95l2.48 4.32l-2.48 4.32h-4.95zM1046.3 355.0l2.48 -4.32h4.95l2.48 4.32l-2.48 4.32h-4.95zM1074.5 322.4l2.48 -4.32h4.95l2.48 4.32l-2.48 4.32h-4.95zM1081.5 326.5l2.48 -4.32h4.95l2.48 4.32l-2.48 4.32h-4.95zM1088.6 322.4l2.48 -4.32h4.95l2.48 4.32l-2.48 4.32h-4.95zM1095.6 318.4l2.48 -4.32h4.95l2.48 4.32l-2.48 4.32h-4.95z"/>
<path fill="rgb(57,150,149)" d="M820.7 436.4l2.48 -4.32h4.95l2.48 4.32l-2.48 4.32h-4.95zM820.7 444.6l2.48 -4.32h4.95l2.48 4.32l-2.48 4.32h-4.95zM841.8 432.3l2.48 -4.32h4.95l2.48 4.32l-2.48 4.32h-4.95zM961.7 273.6l2.48 -4.32h4.95l2.48 4.32l-2.48 4.32h-4.95zM996.9 375.4l2.48 -4.32h4.95l2.48 4.32l-2.48 4.32h-4.95zM996.9 383.5l2.48 -4.32h4.95l2.48 4.32l-2.48 4.32h-4.95zM1018.1 371.3l2.48 -4.32h4.95l2.48 4.32l-2.48 4.32h-4.95zM1039.2 350.9l2.48 -4.32h4.95l2.48 4.32l-2.48 4.32h-4.95zM1067.4 334.7l2.48 -4.32h4.95l2.48 4.32l-2.48 4.32h-4.95zM1081.5 318.4l2.48 -4.32h4.95l2.48 4.32l-2.48 4.32h-4.95zM1088.6 314.3l2.48 -4.32h4.95l2.48 4.32l-2.48 4.32h-4.95zM1095.6 294.0l2.48 -4.32h4.95l2.48 4.32l-2.48 4.32h-4.95zM1095.6 302.1l2.48 -4.32h4.95l2.48 4.32l-2.48 4.32h-4.95zM1095.6 310.2l2.48 -4.32h4.95l2.48 4.32l-2.48 4.32h-4.95zM1102.7 298.0l2.48 -4.32h4.95l2.48 4.32l-2.48 4.32h-4.95zM1109.7 302.1l2.48 -4.32h4.95l2.48 4.32l-2.48 4.32h-4.95z"/>
<path fill="rgb(57,143,151)" d="M827.7 432.3l2.48 -4.32h4.95l2.48 4.32l-2.48 4.32h-4.95zM834.8 428.3l2.48 -4.32h4.95l2.48 4.32l-2.48 4.32h-4.95zM834.8 436.4l2.48 -4.32h4.95l2.48 4.32l-2.48 4.32h-4.95zM926.4 285.8l2.48 -4.32h4.95l2.48 4.32l-2.48 4.32h-4.95zM968.7 261.4l2.48 -4.32h4.95l2.48 4.32l-2.48 4.32h-4.95zM968.7 269.5l2.48 -4.32h4.95l2.48 4.32l-2.48 4.32h-4.95zM989.9 379.4l2.48 -4.32h4.95l2.48 4.32l-2.48 4.32h-4.95zM1060.4 338.7l2.48 -4.32h4.95l2.48 4.32l-2.48 4.32h-4.95zM1088.6 289.9l2.48 -4.32h4.95l2.48 4.32l-2.48 4.32h-4.95zM1088.6 306.2l2.48 -4.32h4.95l2.48 4.32l-2.48 4.32h-4.95zM1102.7 289.9l2.48 -4.32h4.95l2.48 4.32l-2.48 4.32h-4.95zM1102.7 306.2l2.48 -4.32h4.95l2.48 4.32l-2.48 4.32h-4.95zM1109.7 294.0l2.48 -4.32h4.95l2.48 4.32l-2.48 4.32h-4.95z"/>
<path fill="rgb(60,136,152)" d="M813.6 440.5l2.48 -4.32h4.95l2.48 4.32l-2.48 4.32h-4.95zM841.8 424.2l2.48 -4.32h4.95l2.48 4.32l-2.48 4.32h-4.95zM848.9 428.3l2.48 -4.32h4.95l2.48 4.32l-2.48 4.32h-4.95zM855.9 424.2l2.48 -4.32h4.95l2.48 4.32l-2.48 4.32h-4.95zM863.0 420.1l2.48 -4.32h4.95l2.48 4.32l-2.48 4.32h-4.95zM947.6 249.2l2.48 -4.32h4.95l2.48 4.32l-2.48 4.32h-4.95zM982.8 375.4l2.48 -4.32h4.95l2.48 4.32l-2.48 4.32h-4.95zM982.8 383.5l2.48 -4.32h4.95l2.48 4.32l-2.48 4.32h-4.95zM989.9 371.3l2.48 -4.32h4.95l2.48 4.32l-2.48 4.32h-4.95zM1004.0 371.3l2.48 -4.32h4.95l2.48 4.32l-2.48 4.32h-4.95zM1011.0 367.2l2.48 -4.32h4.95l2.48 4.32l-2.48 4.32h-4.95zM1018.1 363.1l2.48 -4.32h4.95l2.48 4.32l-2.48 4.32h-4.95zM1032.2 355.0l2.48 -4.32h4.95l2.48 4.32l-2.48 4.32h-4.95zM1067.4 326.5l2.48 -4.32h4.95l2.48 4.32l-2.48 4.32h-4.95zM1074.5 314.3l2.48 -4.32h4.95l2.48 4.32l-2.48 4.32h-4.95zM1081.5 310.2l2.48 -4.32h4.95l2.48 4.32l-2.48 4.32h-4.95zM1095.6 285.8l2.48 -4.32h4.95l2.48 4.32l-2.48 4.32h-4.95z"/>
<path fill="rgb(63,129,154)" d="M813.6 424.2l2.48 -4.32h4.95l2.48 4.32l-2.48 4.32h-4.95zM813.6 432.3l2.48 -4.32h4.95l2.48 4.32l-2.48 4.32h-4.95zM827.7 424.2l2.48 -4.32h4.95l2.48 4.32l-2.48 4.32h-4.95zM848.9 420.1l2.48 -4.32h4.95l2.48 4.32l-2.48 4.32h-4.95zM919.4 273.6l2.48 -4.32h4.95l2.48 4.32l-2.48 4.32h-4.95zM940.5 294.0l2.48 -4.32h4.95l2.48 4.32l-2.48 4.32h-4.95zM947.6 289.9l2.48 -4.32h4.95l2.48 4.32l-2.48 4.32h-4.95zM947.6 403.9l2.48 -4.32h4.95l2.48 4.32l-2.48 4.32h-4.95zM954.6 285.8l2.48 -4.32h4.95l2.48 4.32l-2.48 4.32h-4.95zM954.6 399.8l2.48 -4.32h4.95l2.48 4.32l-2.48 4.32h-4.95zM961.7 281.7l2.48 -4.32h4.95l2.48 4.32l-2.48 4.32h-4.95zM968.7 253.3l2.48 -4.32h4.95l2.48 4.32l-2.48 4.32h-4.95zM968.7 277.7l2.48 -4.32h4.95l2.48 4.32l-2.48 4.32h-4.95zM975.8 379.4l2.48 -4.32h4.95l2.48 4.32l-2.48 4.32h-4.95zM1025.1 359.1l2.48 -4.32h4.95l2.48 4.32l-2.48 4.32h-4.95zM1046.3 346.9l2.48 -4.32h4.95l2.48 4.32l-2.48 4.32h-4.95zM1053.3 342.8l2.48 -4.32h4.95l2.48 4.32l-2.48 4.32h-4.95zM1081.5 285.8l2.48 -4.32h4.95l2.48 4.32l-2.48 4.32h-4.95zM1081.5 294.0l2.48 -4.32h4.95l2.48 4.32l-2.48 4.32h-4.95zM1081.5 302.1l2.48 -4.32h4.95l2.48 4.32l-2.48 4.32h-4.95zM1088.6 298.0l2.48 -4.32h4.95l2.48 4.32l-2.48 4.32h-4.95zM1102.7 281.7l2.48 -4.32h4.95l2.48 4.32l-2.48 4.32h-4.95z"/>
<path fill="rgb(65,122,155)" d="M820.7 428.3l2.48 -4.32h4.95l2.48 4.32l-2.48 4.32h-4.95zM834.8 420.1l2.48 -4.32h4.95l2.48 4.32l-2.48 4.32h-4.95zM919.4 265.5l2.48 -4.32h4.95l2.48 4.32l-2.48 4.32h-4.95zM919.4 281.7l2.48 -4.32h4.95l2.48 4.32l-2.48 4.32h-4.95zM926.4 253.3l2.48 -4.32h4.95l2.48 4.32l-2.48 4.32h-4.95zM933.5 298.0l2.48 -4.32h4.95l2.48 4.32l-2.48 4.32h-4.95zM940.5 302.1l2.48 -4.32h4.95l2.48 4.32l-2.48 4.32h-4.95zM940.5 399.8l2.48 -4.32h4.95l2.48 4.32l-2.48 4.32h-4.95zM940.5 407.9l2.48 -4.32h4.95l2.48 4.32l-2.48 4.32h-4.95zM940.5 416.1l2.48 -4.32h4.95l2.48 4.32l-2.48 4.32h-4.95zM947.6 395.7l2.48 -4.32h4.95l2.48 4.32l-2.48 4.32h-4.95zM954.6 294.0l2.48 -4.32h4.95l2.48 4.32l-2.48 4.32h-4.95zM954.6 391.6l2.48 -4.32h4.95l2.48 4.32l-2.48 4.32h-4.95zM961.7 249.2l2.48 -4.32h4.95l2.48 4.32l-2.48 4.32h-4.95zM968.7 367.2l2.48 -4.32h4.95l2.48 4.32l-2.48 4.32h-4.95zM975.8 387.6l2.48 -4.32h4.95l2.48 4.32l-2.48 4.32h-4.95zM1025.1 350.9l2.48 -4.32h4.95l2.48 4.32l-2.48 4.32h-4.95z"/>
<path fill="rgb(67,114,156)" d="M827.7 416.1l2.48 -4.32h4.95l2.48 4.32l-2.48 4.32h-4.95zM841.8 416.1l2.48 -4.32h4.95l2.48 4.32l-2.48 4.32h-4.95zM870.0 416.1l2.48 -4.32h4.95l2.48 4.32l-2.48 4.32h-4.95zM877.1 420.1l2.48 -4.32h4.95l2.48 4.32l-2.48 4.32h-4.95zM884.1 416.1l2.48 -4.32h4.95l2.48 4.32l-2.48 4.32h-4.95zM898.2 416.1l2.48 -4.32h4.95l2.48 4.32l-2.48 4.32h-4.95zM912.3 269.5l2.48 -4.32h4.95l2.48 4.32l-2.48 4.32h-4.95zM919.4 257.3l2.48 -4.32h4.95l2.48 4.32l-2.48 4.32h-4.95zM926.4 294.0l2.48 -4.32h4.95l2.48 4.32l-2.48 4.32h-4.95zM926.4 359.1l2.48 -4.32h4.95l2.48 4.32l-2.48 4.32h-4.95zM926.4 391.6l2.48 -4.32h4.95l2.48 4.32l-2.48 4.32h-4.95zM926.4 407.9l2.48 -4.32h4.95l2.48 4.32l-2.48 4.32h-4.95zM926.4 416.1l2.48 -4.32h4.95l2.48 4.32l-2.48 4.32h-4.95zM926.4 424.2l2.48 -4.32h4.95l2.48 4.32l-2.48 4.32h-4.95zM933.5 249.2l2.48 -4.32h4.95l2.48 4.32l-2.48 4.32h-4.95zM933.5 371.3l2.48 -4.32h4.95l2.48 4.32l-2.48 4.32h-4.95zM933.5 395.7l2.48 -4.32h4.95l2.48 4.32l-2.48 4.32h-4.95zM933.5 412.0l2.48 -4.32h4.95l2.48 4.32l-2.48 4.32h-4.95zM940.5 326.5l2.48 -4.32h4.95l2.48 4.32l-2.48 4.32h-4.95zM940.5 391.6l2.48 -4.32h4.95l2.48 4.32l-2.48 4.32h-4.95zM947.6 298.0l2.48 -4.32h4.95l2.48 4.32l-2.48 4.32h-4.95zM947.6 355.0l2.48 -4.32h4.95l2.48 4.32l-2.48 4.32h-4.95zM947.6 387.6l2.48 -4.32h4.95l2.48 4.32l-2.48 4.32h-4.95zM954.6 302.1l2.48 -4.32h4.95l2.48 4.32l-2.48 4.32h-4.95zM954.6 310.2l2.48 -4.32h4.95l2.48 4.32l-2.48 4.32h-4.95zM954.6 318.4l2.48 -4.32h4.95l2.48 4.32l-2.48 4.32h-4.95zM954.6 326.5l2.48 -4.32h4.95l2.48 4.32l-2.48 4.32h-4.95zM954.6 334.7l2.48 -4.32h4.95l2.48 4.32l-2.48 4.32h-4.95zM954.6 359.1l2.48 -4.32h4.95l2.48 4.32l-2.48 4.32h-4.95zM954.6 383.5l2.48 -4.32h4.95l2.48 4.32l-2.48 4.32h-4.95zM961.7 306.2l2.48 -4.32h4.95l2.48 4.32l-2.48 4.32h-4.95zM961.7 346.9l2.48 -4.32h4.95l2.48 4.32l-2.48 4.32h-4.95zM961.7 371.3l2.48 -4.32h4.95l2.48 4.32l-2.48 4.32h-4.95zM961.7 379.4l2.48 -4.32h4.95l2.48 4.32l-2.48 4.32h-4.95zM961.7 387.6l2.48 -4.32h4.95l2.48 4.32l-2.48 4.32h-4.95zM961.7 395.7l2.48 -4.32h4.95l2.48 4.32l-2.48 4.32h-4.95zM968.7 285.8l2.48 -4.32h4.95l2.48 4.32l-2.48 4.32h-4.95zM968.7 318.4l2.48 -4.32h4.95l2.48 4.32l-2.48 4.32h-4.95zM968.7 326.5l2.48 -4.32h4.95l2.48 4.32l-2.48 4.32h-4.95zM968.7 375.4l2.48 -4.32h4.95l2.48 4.32l-2.48 4.32h-4.95zM968.7 383.5l2.48 -4.32h4.95l2.48 4.32l-2.48 4.32h-4.95zM968.7 391.6l2.48 -4.32h4.95l2.48 4.32l-2.48 4.32h-4.95zM975.8 273.6l2.48 -4.32h4.95l2.48 4.32l-2.48 4.32h-4.95zM975.8 281.7l2.48 -4.32h4.95l2.48 4.32l-2.48 4.32h-4.95zM975.8 363.1l2.48 -4.32h4.95l2.48 4.32l-2.48 4.32h-4.95zM975.8 371.3l2.48 -4.32h4.95l2.48 4.32l-2.48 4.32h-4.95zM982.8 359.1l2.48 -4.32h4.95l2.48 4.32l-2.48 4.32h-4.95zM982.8 367.2l2.48 -4.32h4.95l2.48 4.32l-2.48 4.32h-4.95zM989.9 363.1l2.48 -4.32h4.95l2.48 4.32l-2.48 4.32h-4.95zM996.9 367.2l2.48 -4.32h4.95l2.48 4.32l-2.48 4.32h-4.95zM1004.0 363.1l2.48 -4.32h4.95l2.48 4.32l-2.48 4.32h-4.95zM1011.0 359.1l2.48 -4.32h4.95l2.48 4.32l-2.48 4.32h-4.95zM1032.2 346.9l2.48 -4.32h4.95l2.48 4.32l-2.48 4.32h-4.95zM1067.4 318.4l2.48 -4.32h4.95l2.48 4.32l-2.48 4.32h-4.95z"/>
<path fill="rgb(69,106,156)" d="M820.7 412.0l2.48 -4.32h4.95l2.48 4.32l-2.48 4.32h-4.95zM820.7 420.1l2.48 -4.32h4.95l2.48 4.32l-2.48 4.32h-4.95zM855.9 416.1l2.48 -4.32h4.95l2.48 4.32l-2.48 4.32h-4.95zM863.0 412.0l2.48 -4.32h4.95l2.48 4.32l-2.48 4.32h-4.95zM877.1 412.0l2.48 -4.32h4.95l2.48 4.32l-2.48 4.32h-4.95zM891.2 395.7l2.48 -4.32h4.95l2.48 4.32l-2.48 4.32h-4.95zM891.2 412.0l2.48 -4.32h4.95l2.48 4.32l-2.48 4.32h-4.95zM898.2 399.8l2.48 -4.32h4.95l2.48 4.32l-2.48 4.32h-4.95zM898.2 407.9l2.48 -4.32h4.95l2.48 4.32l-2.48 4.32h-4.95zM905.3 379.4l2.48 -4.32h4.95l2.48 4.32l-2.48 4.32h-4.95zM905.3 387.6l2.48 -4.32h4.95l2.48 4.32l-2.48 4.32h-4.95zM905.3 412.0l2.48 -4.32h4.95l2.48 4.32l-2.48 4.32h-4.95zM912.3 277.7l2.48 -4.32h4.95l2.48 4.32l-2.48 4.32h-4.95zM912.3 334.7l2.48 -4.32h4.95l2.48 4.32l-2.48 4.32h-4.95zM912.3 350.9l2.48 -4.32h4.95l2.48 4.32l-2.48 4.32h-4.95zM912.3 359.1l2.48 -4.32h4.95l2.48 4.32l-2.48 4.32h-4.95zM912.3 367.2l2.48 -4.32h4.95l2.48 4.32l-2.48 4.32h-4.95zM912.3 375.4l2.48 -4.32h4.95l2.48 4.32l-2.48 4.32h-4.95zM912.3 391.6l2.48 -4.32h4.95l2.48 4.32l-2.48 4.32h-4.95zM912.3 407.9l2.48 -4.32h4.95l2.48 4.32l-2.48 4.32h-4.95zM912.3 416.1l2.48 -4.32h4.95l2.48 4.32l-2.48 4.32h-4.95zM919.4 289.9l2.48 -4.32h4.95l2.48 4.32l-2.48 4.32h-4.95zM919.4 338.7l2.48 -4.32h4.95l2.48 4.32l-2.48 4.32h-4.95zM919.4 346.9l2.48 -4.32h4.95l2.48 4.32l-2.48 4.32h-4.95zM919.4 355.0l2.48 -4.32h4.95l2.48 4.32l-2.48 4.32h-4.95zM919.4 363.1l2.48 -4.32h4.95l2.48 4.32l-2.48 4.32h-4.95zM919.4 371.3l2.48 -4.32h4.95l2.48 4.32l-2.48 4.32h-4.95zM919.4 387.6l2.48 -4.32h4.95l2.48 4.32l-2.48 4.32h-4.95zM919.4 395.7l2.48 -4.32h4.95l2.48 4.32l-2.48 4.32h-4.95zM919.4 403.9l2.48 -4.32h4.95l2.48 4.32l-2.48 4.32h-4.95zM919.4 412.0l2.48 -4.32h4.95l2.48 4.32l-2.48 4.32h-4.95zM919.4 420.1l2.48 -4.32h4.95l2.48 4.32l-2.48 4.32h-4.95zM926.4 302.1l2.48 -4.32h4.95l2.48 4.32l-2.48 4.32h-4.95zM926.4 310.2l2.48 -4.32h4.95l2.48 4.32l-2.48 4.32h-4.95zM926.4 367.2l2.48 -4.32h4.95l2.48 4.32l-2.48 4.32h-4.95zM926.4 375.4l2.48 -4.32h4.95l2.48 4.32l-2.48 4.32h-4.95zM926.4 399.8l2.48 -4.32h4.95l2.48 4.32l-2.48 4.32h-4.95zM933.5 322.4l2.48 -4.32h4.95l2.48 4.32l-2.48 4.32h-4.95zM933.5 330.6l2.48 -4.32h4.95l2.48 4.32l-2.48 4.32h-4.95zM933.5 338.7l2.48 -4.32h4.95l2.48 4.32l-2.48 4.32h-4.95zM933.5 355.0l2.48 -4.32h4.95l2.48 4.32l-2.48 4.32h-4.95zM933.5 363.1l2.48 -4.32h4.95l2.48 4.32l-2.48 4.32h-4.95zM933.5 379.4l2.48 -4.32h4.95l2.48 4.32l-2.48 4.32h-4.95zM933.5 403.9l2.48 -4.32h4.95l2.48 4.32l-2.48 4.32h-4.95zM940.5 310.2l2.48 -4.32h4.95l2.48 4.32l-2.48 4.32h-4.95zM940.5 359.1l2.48 -4.32h4.95l2.48 4.32l-2.48 4.32h-4.95zM940.5 367.2l2.48 -4.32h4.95l2.48 4.32l-2.48 4.32h-4.95zM940.5 375.4l2.48 -4.32h4.95l2.48 4.32l-2.48 4.32h-4.95zM947.6 306.2l2.48 -4.32h4.95l2.48 4.32l-2.48 4.32h-4.95zM947.6 314.3l2.48 -4.32h4.95l2.48 4.32l-2.48 4.32h-4.95zM947.6 338.7l2.48 -4.32h4.95l2.48 4.32l-2.48 4.32h-4.95zM947.6 371.3l2.48 -4.32h4.95l2.48 4.32l-2.48 4.32h-4.95zM947.6 379.4l2.48 -4.32h4.95l2.48 4.32l-2.48 4.32h-4.95zM954.6 350.9l2.48 -4.32h4.95l2.48 4.32l-2.48 4.32h-4.95zM961.7 289.9l2.48 -4.32h4.95l2.48 4.32l-2.48 4.32h-4.95zM961.7 298.0l2.48 -4.32h4.95l2.48 4.32l-2.48 4.32h-4.95zM961.7 314.3l2.48 -4.32h4.95l2.48 4.32l-2.48 4.32h-4.95zM961.7 322.4l2.48 -4.32h4.95l2.48 4.32l-2.48 4.32h-4.95zM961.7 330.6l2.48 -4.32h4.95l2.48 4.32l-2.48 4.32h-4.95zM961.7 338.7l2.48 -4.32h4.95l2.48 4.32l-2.48 4.32h-4.95zM961.7 355.0l2.48 -4.32h4.95l2.48 4.32l-2.48 4.32h-4.95zM968.7 350.9l2.48 -4.32h4.95l2.48 4.32l-2.48 4.32h-4.95zM968.7 359.1l2.48 -4.32h4.95l2.48 4.32l-2.48 4.32h-4.95zM975.8 289.9l2.48 -4.32h4.95l2.48 4.32l-2.48 4.32h-4.95zM975.8 298.0l2.48 -4.32h4.95l2.48 4.32l-2.48 4.32h-4.95zM975.8 346.9l2.48 -4.32h4.95l2.48 4.32l-2.48 4.32h-4.95zM975.8 355.0l2.48 -4.32h4.95l2.48 4.32l-2.48 4.32h-4.95zM982.8 285.8l2.48 -4.32h4.95l2.48 4.32l-2.48 4.32h-4.95zM982.8 294.0l2.48 -4.32h4.95l2.48 4.32l-2.48 4.32h-4.95zM982.8 318.4l2.48 -4.32h4.95l2.48 4.32l-2.48 4.32h-4.95zM982.8 326.5l2.48 -4.32h4.95l2.48 4.32l-2.48 4.32h-4.95zM982.8 350.9l2.48 -4.32h4.95l2.48 4.32l-2.48 4.32h-4.95zM996.9 359.1l2.48 -4.32h4.95l2.48 4.32l-2.48 4.32h-4.95zM1018.1 355.0l2.48 -4.32h4.95l2.48 4.32l-2.48 4.32h-4.95zM1067.4 302.1l2.48 -4.32h4.95l2.48 4.32l-2.48 4.32h-4.95zM1067.4 310.2l2.48 -4.32h4.95l2.48 4.32l-2.48 4.32h-4.95zM1074.5 289.9l2.48 -4.32h4.95l2.48 4.32l-2.48 4.32h-4.95zM1074.5 298.0l2.48 -4.32h4.95l2.48 4.32l-2.48 4.32h-4.95zM1074.5 306.2l2.48 -4.32h4.95l2.48 4.32l-2.48 4.32h-4.95z"/>
<path fill="rgb(71,99,157)" d="M792.5 249.2l2.48 -4.32h4.95l2.48 4.32l-2.48 4.32h-4.95zM813.6 416.1l2.48 -4.32h4.95l2.48 4.32l-2.48 4.32h-4.95zM827.7 407.9l2.48 -4.32h4.95l2.48 4.32l-2.48 4.32h-4.95zM834.8 403.9l2.48 -4.32h4.95l2.48 4.32l-2.48 4.32h-4.95zM834.8 412.0l2.48 -4.32h4.95l2.48 4.32l-2.48 4.32h-4.95zM863.0 403.9l2.48 -4.32h4.95l2.48 4.32l-2.48 4.32h-4.95zM870.0 407.9l2.48 -4.32h4.95l2.48 4.32l-2.48 4.32h-4.95zM884.1 391.6l2.48 -4.32h4.95l2.48 4.32l-2.48 4.32h-4.95zM884.1 407.9l2.48 -4.32h4.95l2.48 4.32l-2.48 4.32h-4.95zM891.2 387.6l2.48 -4.32h4.95l2.48 4.32l-2.48 4.32h-4.95zM891.2 403.9l2.48 -4.32h4.95l2.48 4.32l-2.48 4.32h-4.95zM898.2 342.8l2.48 -4.32h4.95l2.48 4.32l-2.48 4.32h-4.95zM898.2 367.2l2.48 -4.32h4.95l2.48 4.32l-2.48 4.32h-4.95zM898.2 383.5l2.48 -4.32h4.95l2.48 4.32l-2.48 4.32h-4.95zM898.2 391.6l2.48 -4.32h4.95l2.48 4.32l-2.48 4.32h-4.95zM905.3 338.7l2.48 -4.32h4.95l2.48 4.32l-2.48 4.32h-4.95zM905.3 346.9l2.48 -4.32h4.95l2.48 4.32l-2.48 4.32h-4.95zM905.3 355.0l2.48 -4.32h4.95l2.48 4.32l-2.48 4.32h-4.95zM905.3 371.3l2.48 -4.32h4.95l2.48 4.32l-2.48 4.32h-4.95zM905.3 395.7l2.48 -4.32h4.95l2.48 4.32l-2.48 4.32h-4.95zM905.3 403.9l2.48 -4.32h4.95l2.48 4.32l-2.48 4.32h-4.95zM912.3 261.4l2.48 -4.32h4.95l2.48 4.32l-2.48 4.32h-4.95zM912.3 285.8l2.48 -4.32h4.95l2.48 4.32l-2.48 4.32h-4.95zM912.3 302.1l2.48 -4.32h4.95l2.48 4.32l-2.48 4.32h-4.95zM912.3 318.4l2.48 -4.32h4.95l2.48 4.32l-2.48 4.32h-4.95zM912.3 326.5l2.48 -4.32h4.95l2.48 4.32l-2.48 4.32h-4.95zM912.3 342.8l2.48 -4.32h4.95l2.48 4.32l-2.48 4.32h-4.95zM912.3 383.5l2.48 -4.32h4.95l2.48 4.32l-2.48 4.32h-4.95zM912.3 399.8l2.48 -4.32h4.95l2.48 4.32l-2.48 4.32h-4.95zM919.4 306.2l2.48 -4.32h4.95l2.48 4.32l-2.48 4.32h-4.95zM919.4 322.4l2.48 -4.32h4.95l2.48 4.32l-2.48 4.32h-4.95zM919.4 330.6l2.48 -4.32h4.95l2.48 4.32l-2.48 4.32h-4.95zM919.4 379.4l2.48 -4.32h4.95l2.48 4.32l-2.48 4.32h-4.95zM926.4 318.4l2.48 -4.32h4.95l2.48 4.32l-2.48 4.32h-4.95zM926.4 326.5l2.48 -4.32h4.95l2.48 4.32l-2.48 4.32h-4.95zM926.4 334.7l2.48 -4.32h4.95l2.48 4.32l-2.48 4.32h-4.95zM926.4 342.8l2.48 -4.32h4.95l2.48 4.32l-2.48 4.32h-4.95zM926.4 350.9l2.48 -4.32h4.95l2.48 4.32l-2.48 4.32h-4.95zM926.4 383.5l2.48 -4.32h4.95l2.48 4.32l-2.48 4.32h-4.95zM933.5 306.2l2.48 -4.32h4.95l2.48 4.32l-2.48 4.32h-4.95zM933.5 314.3l2.48 -4.32h4.95l2.48 4.32l-2.48 4.32h-4.95zM933.5 346.9l2.48 -4.32h4.95l2.48 4.32l-2.48 4.32h-4.95zM933.5 387.6l2.48 -4.32h4.95l2.48 4.32l-2.48 4.32h-4.95zM933.5 420.1l2.48 -4.32h4.95l2.48 4.32l-2.48 4.32h-4.95zM940.5 318.4l2.48 -4.32h4.95l2.48 4.32l-2.48 4.32h-4.95zM940.5 334.7l2.48 -4.32h4.95l2.48 4.32l-2.48 4.32h-4.95zM940.5 342.8l2.48 -4.32h4.95l2.48 4.32l-2.48 4.32h-4.95zM940.5 350.9l2.48 -4.32h4.95l2.48 4.32l-2.48 4.32h-4.95zM940.5 383.5l2.48 -4.32h4.95l2.48 4.32l-2.48 4.32h-4.95zM947.6 322.4l2.48 -4.32h4.95l2.48 4.32l-2.48 4.32h-4.95zM947.6 330.6l2.48 -4.32h4.95l2.48 4.32l-2.48 4.32h-4.95zM947.6 346.9l2.48 -4.32h4.95l2.48 4.32l-2.48 4.32h-4.95zM947.6 363.1l2.48 -4.32h4.95l2.48 4.32l-2.48 4.32h-4.95zM954.6 245.1l2.48 -4.32h4.95l2.48 4.32l-2.48 4.32h-4.95zM954.6 342.8l2.48 -4.32h4.95l2.48 4.32l-2.48 4.32h-4.95zM954.6 367.2l2.48 -4.32h4.95l2.48 4.32l-2.48 4.32h-4.95zM954.6 375.4l2.48 -4.32h4.95l2.48 4.32l-2.48 4.32h-4.95zM961.7 363.1l2.48 -4.32h4.95l2.48 4.32l-2.48 4.32h-4.95zM968.7 294.0l2.48 -4.32h4.95l2.48 4.32l-2.48 4.32h-4.95zM968.7 302.1l2.48 -4.32h4.95l2.48 4.32l-2.48 4.32h-4.95zM968.7 310.2l2.48 -4.32h4.95l2.48 4.32l-2.48 4.32h-4.95zM968.7 334.7l2.48 -4.32h4.95l2.48 4.32l-2.48 4.32h-4.95zM968.7 342.8l2.48 -4.32h4.95l2.48 4.32l-2.48 4.32h-4.95zM975.8 257.3l2.48 -4.32h4.95l2.48 4.32l-2.48 4.32h-4.95zM975.8 265.5l2.48 -4.32h4.95l2.48 4.32l-2.48 4.32h-4.95zM975.8 306.2l2.48 -4.32h4.95l2.48 4.32l-2.48 4.32h-4.95zM975.8 314.3l2.48 -4.32h4.95l2.48 4.32l-2.48 4.32h-4.95zM975.8 322.4l2.48 -4.32h4.95l2.48 4.32l-2.48 4.32h-4.95zM975.8 330.6l2.48 -4.32h4.95l2.48 4.32l-2.48 4.32h-4.95zM975.8 338.7l2.48 -4.32h4.95l2.48 4.32l-2.48 4.32h-4.95zM982.8 269.5l2.48 -4.32h4.95l2.48 4.32l-2.48 4.32h-4.95zM982.8 277.7l2.48 -4.32h4.95l2.48 4.32l-2.48 4.32h-4.95zM982.8 302.1l2.48 -4.32h4.95l2.48 4.32l-2.48 4.32h-4.95zM982.8 310.2l2.48 -4.32h4.95l2.48 4.32l-2.48 4.32h-4.95zM982.8 334.7l2.48 -4.32h4.95l2.48 4.32l-2.48 4.32h-4.95zM982.8 342.8l2.48 -4.32h4.95l2.48 4.32l-2.48 4.32h-4.95zM989.9 289.9l2.48 -4.32h4.95l2.48 4.32l-2.48 4.32h-4.95zM989.9 306.2l2.48 -4.32h4.95l2.48 4.32l-2.48 4.32h-4.95zM989.9 322.4l2.48 -4.32h4.95l2.48 4.32l-2.48 4.32h-4.95zM989.9 330.6l2.48 -4.32h4.95l2.48 4.32l-2.48 4.32h-4.95zM989.9 338.7l2.48 -4.32h4.95l2.48 4.32l-2.48 4.32h-4.95zM989.9 355.0l2.48 -4.32h4.95l2.48 4.32l-2.48 4.32h-4.95zM996.9 302.1l2.48 -4.32h4.95l2.48 4.32l-2.48 4.32h-4.95zM996.9 310.2l2.48 -4.32h4.95l2.48 4.32l-2.48 4.32h-4.95zM996.9 334.7l2.48 -4.32h4.95l2.48 4.32l-2.48 4.32h-4.95zM996.9 342.8l2.48 -4.32h4.95l2.48 4.32l-2.48 4.32h-4.95zM996.9 350.9l2.48 -4.32h4.95l2.48 4.32l-2.48 4.32h-4.95zM1004.0 355.0l2.48 -4.32h4.95l2.48 4.32l-2.48 4.32h-4.95zM1039.2 342.8l2.48 -4.32h4.95l2.48 4.32l-2.48 4.32h-4.95z"/>
<path fill="rgb(73,91,156)" d="M792.5 241.0l2.48 -4.32h4.95l2.48 4.32l-2.48 4.32h-4.95zM820.7 403.9l2.48 -4.32h4.95l2.48 4.32l-2.48 4.32h-4.95zM827.7 399.8l2.48 -4.32h4.95l2.48 4.32l-2.48 4.32h-4.95zM841.8 407.9l2.48 -4.32h4.95l2.48 4.32l-2.48 4.32h-4.95zM848.9 412.0l2.48 -4.32h4.95l2.48 4.32l-2.48 4.32h-4.95zM855.9 399.8l2.48 -4.32h4.95l2.48 4.32l-2.48 4.32h-4.95zM855.9 407.9l2.48 -4.32h4.95l2.48 4.32l-2.48 4.32h-4.95zM863.0 387.6l2.48 -4.32h4.95l2.48 4.32l-2.48 4.32h-4.95zM863.0 395.7l2.48 -4.32h4.95l2.48 4.32l-2.48 4.32h-4.95zM870.0 391.6l2.48 -4.32h4.95l2.48 4.32l-2.48 4.32h-4.95zM870.0 399.8l2.48 -4.32h4.95l2.48 4.32l-2.48 4.32h-4.95zM877.1 395.7l2.48 -4.32h4.95l2.48 4.32l-2.48 4.32h-4.95zM877.1 403.9l2.48 -4.32h4.95l2.48 4.32l-2.48 4.32h-4.95zM884.1 383.5l2.48 -4.32h4.95l2.48 4.32l-2.48 4.32h-4.95zM884.1 399.8l2.48 -4.32h4.95l2.48 4.32l-2.48 4.32h-4.95zM891.2 330.6l2.48 -4.32h4.95l2.48 4.32l-2.48 4.32h-4.95zM891.2 355.0l2.48 -4.32h4.95l2.48 4.32l-2.48 4.32h-4.95zM891.2 363.1l2.48 -4.32h4.95l2.48 4.32l-2.48 4.32h-4.95zM898.2 326.5l2.48 -4.32h4.95l2.48 4.32l-2.48 4.32h-4.95zM898.2 334.7l2.48 -4.32h4.95l2.48 4.32l-2.48 4.32h-4.95zM898.2 350.9l2.48 -4.32h4.95l2.48 4.32l-2.48 4.32h-4.95zM898.2 359.1l2.48 -4.32h4.95l2.48 4.32l-2.48 4.32h-4.95zM898.2 375.4l2.48 -4.32h4.95l2.48 4.32l-2.48 4.32h-4.95zM905.3 265.5l2.48 -4.32h4.95l2.48 4.32l-2.48 4.32h-4.95zM905.3 273.6l2.48 -4.32h4.95l2.48 4.32l-2.48 4.32h-4.95zM905.3 289.9l2.48 -4.32h4.95l2.48 4.32l-2.48 4.32h-4.95zM905.3 322.4l2.48 -4.32h4.95l2.48 4.32l-2.48 4.32h-4.95zM905.3 330.6l2.48 -4.32h4.95l2.48 4.32l-2.48 4.32h-4.95zM905.3 363.1l2.48 -4.32h4.95l2.48 4.32l-2.48 4.32h-4.95zM912.3 294.0l2.48 -4.32h4.95l2.48 4.32l-2.48 4.32h-4.95zM912.3 310.2l2.48 -4.32h4.95l2.48 4.32l-2.48 4.32h-4.95zM919.4 298.0l2.48 -4.32h4.95l2.48 4.32l-2.48 4.32h-4.95zM919.4 314.3l2.48 -4.32h4.95l2.48 4.32l-2.48 4.32h-4.95zM940.5 245.1l2.48 -4.32h4.95l2.48 4.32l-2.48 4.32h-4.95zM989.9 298.0l2.48 -4.32h4.95l2.48 4.32l-2.48 4.32h-4.95zM989.9 314.3l2.48 -4.32h4.95l2.48 4.32l-2.48 4.32h-4.95zM989.9 346.9l2.48 -4.32h4.95l2.48 4.32l-2.48 4.32h-4.95zM996.9 294.0l2.48 -4.32h4.95l2.48 4.32l-2.48 4.32h-4.95zM996.9 318.4l2.48 -4.32h4.95l2.48 4.32l-2.48 4.32h-4.95zM1004.0 322.4l2.48 -4.32h4.95l2.48 4.32l-2.48 4.32h-4.95zM1004.0 338.7l2.48 -4.32h4.95l2.48 4.32l-2.48 4.32h-4.95zM1011.0 326.5l2.48 -4.32h4.95l2.48 4.32l-2.48 4.32h-4.95zM1032.2 338.7l2.48 -4.32h4.95l2.48 4.32l-2.48 4.32h-4.95zM1060.4 330.6l2.48 -4.32h4.95l2.48 4.32l-2.48 4.32h-4.95zM1067.4 294.0l2.48 -4.32h4.95l2.48 4.32l-2.48 4.32h-4.95z"/>
<path fill="rgb(74,84,154)" d="M792.5 257.3l2.48 -4.32h4.95l2.48 4.32l-2.48 4.32h-4.95zM792.5 265.5l2.48 -4.32h4.95l2.48 4.32l-2.48 4.32h-4.95zM799.5 237.0l2.48 -4.32h4.95l2.48 4.32l-2.48 4.32h-4.95zM799.5 245.1l2.48 -4.32h4.95l2.48 4.32l-2.48 4.32h-4.95zM799.5 261.4l2.48 -4.32h4.95l2.48 4.32l-2.48 4.32h-4.95zM820.7 395.7l2.48 -4.32h4.95l2.48 4.32l-2.48 4.32h-4.95zM834.8 387.6l2.48 -4.32h4.95l2.48 4.32l-2.48 4.32h-4.95zM834.8 395.7l2.48 -4.32h4.95l2.48 4.32l-2.48 4.32h-4.95zM841.8 399.8l2.48 -4.32h4.95l2.48 4.32l-2.48 4.32h-4.95zM848.9 395.7l2.48 -4.32h4.95l2.48 4.32l-2.48 4.32h-4.95zM848.9 403.9l2.48 -4.32h4.95l2.48 4.32l-2.48 4.32h-4.95zM870.0 383.5l2.48 -4.32h4.95l2.48 4.32l-2.48 4.32h-4.95zM877.1 371.3l2.48 -4.32h4.95l2.48 4.32l-2.48 4.32h-4.95zM877.1 387.6l2.48 -4.32h4.95l2.48 4.32l-2.48 4.32h-4.95zM884.1 245.1l2.48 -4.32h4.95l2.48 4.32l-2.48 4.32h-4.95zM884.1 253.3l2.48 -4.32h4.95l2.48 4.32l-2.48 4.32h-4.95zM884.1 342.8l2.48 -4.32h4.95l2.48 4.32l-2.48 4.32h-4.95zM884.1 367.2l2.48 -4.32h4.95l2.48 4.32l-2.48 4.32h-4.95zM891.2 249.2l2.48 -4.32h4.95l2.48 4.32l-2.48 4.32h-4.95zM891.2 281.7l2.48 -4.32h4.95l2.48 4.32l-2.48 4.32h-4.95zM891.2 314.3l2.48 -4.32h4.95l2.48 4.32l-2.48 4.32h-4.95zM891.2 322.4l2.48 -4.32h4.95l2.48 4.32l-2.48 4.32h-4.95zM891.2 346.9l2.48 -4.32h4.95l2.48 4.32l-2.48 4.32h-4.95zM891.2 371.3l2.48 -4.32h4.95l2.48 4.32l-2.48 4.32h-4.95zM891.2 379.4l2.48 -4.32h4.95l2.48 4.32l-2.48 4.32h-4.95zM898.2 245.1l2.48 -4.32h4.95l2.48 4.32l-2.48 4.32h-4.95zM898.2 269.5l2.48 -4.32h4.95l2.48 4.32l-2.48 4.32h-4.95zM898.2 294.0l2.48 -4.32h4.95l2.48 4.32l-2.48 4.32h-4.95zM898.2 302.1l2.48 -4.32h4.95l2.48 4.32l-2.48 4.32h-4.95zM898.2 318.4l2.48 -4.32h4.95l2.48 4.32l-2.48 4.32h-4.95zM905.3 257.3l2.48 -4.32h4.95l2.48 4.32l-2.48 4.32h-4.95zM905.3 281.7l2.48 -4.32h4.95l2.48 4.32l-2.48 4.32h-4.95zM905.3 306.2l2.48 -4.32h4.95l2.48 4.32l-2.48 4.32h-4.95zM905.3 314.3l2.48 -4.32h4.95l2.48 4.32l-2.48 4.32h-4.95zM912.3 253.3l2.48 -4.32h4.95l2.48 4.32l-2.48 4.32h-4.95zM926.4 245.1l2.48 -4.32h4.95l2.48 4.32l-2.48 4.32h-4.95zM961.7 241.0l2.48 -4.32h4.95l2.48 4.32l-2.48 4.32h-4.95zM996.9 326.5l2.48 -4.32h4.95l2.48 4.32l-2.48 4.32h-4.95zM1004.0 306.2l2.48 -4.32h4.95l2.48 4.32l-2.48 4.32h-4.95zM1004.0 314.3l2.48 -4.32h4.95l2.48 4.32l-2.48 4.32h-4.95zM1004.0 330.6l2.48 -4.32h4.95l2.48 4.32l-2.48 4.32h-4.95zM1004.0 346.9l2.48 -4.32h4.95l2.48 4.32l-2.48 4.32h-4.95zM1011.0 318.4l2.48 -4.32h4.95l2.48 4.32l-2.48 4.32h-4.95zM1011.0 334.7l2.48 -4.32h4.95l2.48 4.32l-2.48 4.32h-4.95zM1011.0 342.8l2.48 -4.32h4.95l2.48 4.32l-2.48 4.32h-4.95zM1011.0 350.9l2.48 -4.32h4.95l2.48 4.32l-2.48 4.32h-4.95zM1018.1 281.7l2.48 -4.32h4.95l2.48 4.32l-2.48 4.32h-4.95zM1018.1 346.9l2.48 -4.32h4.95l2.48 4.32l-2.48 4.32h-4.95zM1025.1 334.7l2.48 -4.32h4.95l2.48 4.32l-2.48 4.32h-4.95zM1025.1 342.8l2.48 -4.32h4.95l2.48 4.32l-2.48 4.32h-4.95zM1046.3 338.7l2.48 -4.32h4.95l2.48 4.32l-2.48 4.32h-4.95zM1053.3 294.0l2.48 -4.32h4.95l2.48 4.32l-2.48 4.32h-4.95zM1053.3 334.7l2.48 -4.32h4.95l2.48 4.32l-2.48 4.32h-4.95zM1060.4 314.3l2.48 -4.32h4.95l2.48 4.32l-2.48 4.32h-4.95zM1060.4 322.4l2.48 -4.32h4.95l2.48 4.32l-2.48 4.32h-4.95z"/>
<path fill="rgb(75,77,153)" d="M792.5 306.2l2.48 -4.32h4.95l2.48 4.32l-2.48 4.32h-4.95zM792.5 314.3l2.48 -4.32h4.95l2.48 4.32l-2.48 4.32h-4.95zM799.5 228.8l2.48 -4.32h4.95l2.48 4.32l-2.48 4.32h-4.95zM799.5 253.3l2.48 -4.32h4.95l2.48 4.32l-2.48 4.32h-4.95zM806.6 232.9l2.48 -4.32h4.95l2.48 4.32l-2.48 4.32h-4.95zM827.7 342.8l2.48 -4.32h4.95l2.48 4.32l-2.48 4.32h-4.95zM827.7 391.6l2.48 -4.32h4.95l2.48 4.32l-2.48 4.32h-4.95zM834.8 241.0l2.48 -4.32h4.95l2.48 4.32l-2.48 4.32h-4.95zM834.8 249.2l2.48 -4.32h4.95l2.48 4.32l-2.48 4.32h-4.95zM834.8 371.3l2.48 -4.32h4.95l2.48 4.32l-2.48 4.32h-4.95zM834.8 379.4l2.48 -4.32h4.95l2.48 4.32l-2.48 4.32h-4.95zM841.8 245.1l2.48 -4.32h4.95l2.48 4.32l-2.48 4.32h-4.95zM841.8 261.4l2.48 -4.32h4.95l2.48 4.32l-2.48 4.32h-4.95zM841.8 302.1l2.48 -4.32h4.95l2.48 4.32l-2.48 4.32h-4.95zM841.8 391.6l2.48 -4.32h4.95l2.48 4.32l-2.48 4.32h-4.95zM848.9 249.2l2.48 -4.32h4.95l2.48 4.32l-2.48 4.32h-4.95zM848.9 257.3l2.48 -4.32h4.95l2.48 4.32l-2.48 4.32h-4.95zM855.9 375.4l2.48 -4.32h4.95l2.48 4.32l-2.48 4.32h-4.95zM855.9 391.6l2.48 -4.32h4.95l2.48 4.32l-2.48 4.32h-4.95zM863.0 371.3l2.48 -4.32h4.95l2.48 4.32l-2.48 4.32h-4.95zM863.0 379.4l2.48 -4.32h4.95l2.48 4.32l-2.48 4.32h-4.95zM870.0 342.8l2.48 -4.32h4.95l2.48 4.32l-2.48 4.32h-4.95zM870.0 359.1l2.48 -4.32h4.95l2.48 4.32l-2.48 4.32h-4.95zM870.0 367.2l2.48 -4.32h4.95l2.48 4.32l-2.48 4.32h-4.95zM870.0 375.4l2.48 -4.32h4.95l2.48 4.32l-2.48 4.32h-4.95zM877.1 241.0l2.48 -4.32h4.95l2.48 4.32l-2.48 4.32h-4.95zM877.1 257.3l2.48 -4.32h4.95l2.48 4.32l-2.48 4.32h-4.95zM877.1 265.5l2.48 -4.32h4.95l2.48 4.32l-2.48 4.32h-4.95zM877.1 355.0l2.48 -4.32h4.95l2.48 4.32l-2.48 4.32h-4.95zM877.1 363.1l2.48 -4.32h4.95l2.48 4.32l-2.48 4.32h-4.95zM877.1 379.4l2.48 -4.32h4.95l2.48 4.32l-2.48 4.32h-4.95zM884.1 261.4l2.48 -4.32h4.95l2.48 4.32l-2.48 4.32h-4.95zM884.1 269.5l2.48 -4.32h4.95l2.48 4.32l-2.48 4.32h-4.95zM884.1 277.7l2.48 -4.32h4.95l2.48 4.32l-2.48 4.32h-4.95zM884.1 285.8l2.48 -4.32h4.95l2.48 4.32l-2.48 4.32h-4.95zM884.1 318.4l2.48 -4.32h4.95l2.48 4.32l-2.48 4.32h-4.95zM884.1 375.4l2.48 -4.32h4.95l2.48 4.32l-2.48 4.32h-4.95zM891.2 241.0l2.48 -4.32h4.95l2.48 4.32l-2.48 4.32h-4.95zM891.2 257.3l2.48 -4.32h4.95l2.48 4.32l-2.48 4.32h-4.95zM891.2 265.5l2.48 -4.32h4.95l2.48 4.32l-2.48 4.32h-4.95zM891.2 273.6l2.48 -4.32h4.95l2.48 4.32l-2.48 4.32h-4.95zM891.2 338.7l2.48 -4.32h4.95l2.48 4.32l-2.48 4.32h-4.95zM898.2 261.4l2.48 -4.32h4.95l2.48 4.32l-2.48 4.32h-4.95zM898.2 277.7l2.48 -4.32h4.95l2.48 4.32l-2.48 4.32h-4.95zM898.2 310.2l2.48 -4.32h4.95l2.48 4.32l-2.48 4.32h-4.95zM905.3 298.0l2.48 -4.32h4.95l2.48 4.32l-2.48 4.32h-4.95zM919.4 249.2l2.48 -4.32h4.95l2.48 4.32l-2.48 4.32h-4.95zM940.5 237.0l2.48 -4.32h4.95l2.48 4.32l-2.48 4.32h-4.95zM1011.0 310.2l2.48 -4.32h4.95l2.48 4.32l-2.48 4.32h-4.95zM1018.1 289.9l2.48 -4.32h4.95l2.48 4.32l-2.48 4.32h-4.95zM1018.1 298.0l2.48 -4.32h4.95l2.48 4.32l-2.48 4.32h-4.95zM1018.1 306.2l2.48 -4.32h4.95l2.48 4.32l-2.48 4.32h-4.95zM1018.1 330.6l2.48 -4.32h4.95l2.48 4.32l-2.48 4.32h-4.95zM1018.1 338.7l2.48 -4.32h4.95l2.48 4.32l-2.48 4.32h-4.95zM1025.1 310.2l2.48 -4.32h4.95l2.48 4.32l-2.48 4.32h-4.95zM1025.1 318.4l2.48 -4.32h4.95l2.48 4.32l-2.48 4.32h-4.95zM1025.1 326.5l2.48 -4.32h4.95l2.48 4.32l-2.48 4.32h-4.95zM1032.2 306.2l2.48 -4.32h4.95l2.48 4.32l-2.48 4.32h-4.95zM1039.2 294.0l2.48 -4.32h4.95l2.48 4.32l-2.48 4.32h-4.95zM1039.2 302.1l2.48 -4.32h4.95l2.48 4.32l-2.48 4.32h-4.95zM1039.2 310.2l2.48 -4.32h4.95l2.48 4.32l-2.48 4.32h-4.95zM1046.3 298.0l2.48 -4.32h4.95l2.48 4.32l-2.48 4.32h-4.95zM1046.3 330.6l2.48 -4.32h4.95l2.48 4.32l-2.48 4.32h-4.95zM1053.3 302.1l2.48 -4.32h4.95l2.48 4.32l-2.48 4.32h-4.95zM1053.3 326.5l2.48 -4.32h4.95l2.48 4.32l-2.48 4.32h-4.95zM1060.4 306.2l2.48 -4.32h4.95l2.48 4.32l-2.48 4.32h-4.95z"/>
<path fill="rgb(76,70,150)" d="M792.5 298.0l2.48 -4.32h4.95l2.48 4.32l-2.48 4.32h-4.95zM792.5 330.6l2.48 -4.32h4.95l2.48 4.32l-2.48 4.32h-4.95zM799.5 269.5l2.48 -4.32h4.95l2.48 4.32l-2.48 4.32h-4.95zM799.5 310.2l2.48 -4.32h4.95l2.48 4.32l-2.48 4.32h-4.95zM799.5 318.4l2.48 -4.32h4.95l2.48 4.32l-2.48 4.32h-4.95zM799.5 383.5l2.48 -4.32h4.95l2.48 4.32l-2.48 4.32h-4.95zM799.5 391.6l2.48 -4.32h4.95l2.48 4.32l-2.48 4.32h-4.95zM806.6 241.0l2.48 -4.32h4.95l2.48 4.32l-2.48 4.32h-4.95zM806.6 249.2l2.48 -4.32h4.95l2.48 4.32l-2.48 4.32h-4.95zM806.6 257.3l2.48 -4.32h4.95l2.48 4.32l-2.48 4.32h-4.95zM806.6 273.6l2.48 -4.32h4.95l2.48 4.32l-2.48 4.32h-4.95zM806.6 289.9l2.48 -4.32h4.95l2.48 4.32l-2.48 4.32h-4.95zM806.6 298.0l2.48 -4.32h4.95l2.48 4.32l-2.48 4.32h-4.95zM806.6 306.2l2.48 -4.32h4.95l2.48 4.32l-2.48 4.32h-4.95zM806.6 314.3l2.48 -4.32h4.95l2.48 4.32l-2.48 4.32h-4.95zM813.6 237.0l2.48 -4.32h4.95l2.48 4.32l-2.48 4.32h-4.95zM813.6 253.3l2.48 -4.32h4.95l2.48 4.32l-2.48 4.32h-4.95zM813.6 261.4l2.48 -4.32h4.95l2.48 4.32l-2.48 4.32h-4.95zM813.6 277.7l2.48 -4.32h4.95l2.48 4.32l-2.48 4.32h-4.95zM813.6 294.0l2.48 -4.32h4.95l2.48 4.32l-2.48 4.32h-4.95zM813.6 391.6l2.48 -4.32h4.95l2.48 4.32l-2.48 4.32h-4.95zM820.7 241.0l2.48 -4.32h4.95l2.48 4.32l-2.48 4.32h-4.95zM820.7 249.2l2.48 -4.32h4.95l2.48 4.32l-2.48 4.32h-4.95zM820.7 265.5l2.48 -4.32h4.95l2.48 4.32l-2.48 4.32h-4.95zM820.7 281.7l2.48 -4.32h4.95l2.48 4.32l-2.48 4.32h-4.95zM820.7 346.9l2.48 -4.32h4.95l2.48 4.32l-2.48 4.32h-4.95zM827.7 228.8l2.48 -4.32h4.95l2.48 4.32l-2.48 4.32h-4.95zM827.7 237.0l2.48 -4.32h4.95l2.48 4.32l-2.48 4.32h-4.95zM827.7 245.1l2.48 -4.32h4.95l2.48 4.32l-2.48 4.32h-4.95zM827.7 261.4l2.48 -4.32h4.95l2.48 4.32l-2.48 4.32h-4.95zM827.7 269.5l2.48 -4.32h4.95l2.48 4.32l-2.48 4.32h-4.95zM827.7 383.5l2.48 -4.32h4.95l2.48 4.32l-2.48 4.32h-4.95zM834.8 232.9l2.48 -4.32h4.95l2.48 4.32l-2.48 4.32h-4.95zM834.8 257.3l2.48 -4.32h4.95l2.48 4.32l-2.48 4.32h-4.95zM834.8 265.5l2.48 -4.32h4.95l2.48 4.32l-2.48 4.32h-4.95zM834.8 281.7l2.48 -4.32h4.95l2.48 4.32l-2.48 4.32h-4.95zM834.8 298.0l2.48 -4.32h4.95l2.48 4.32l-2.48 4.32h-4.95zM834.8 306.2l2.48 -4.32h4.95l2.48 4.32l-2.48 4.32h-4.95zM841.8 237.0l2.48 -4.32h4.95l2.48 4.32l-2.48 4.32h-4.95zM841.8 253.3l2.48 -4.32h4.95l2.48 4.32l-2.48 4.32h-4.95zM841.8 294.0l2.48 -4.32h4.95l2.48 4.32l-2.48 4.32h-4.95zM841.8 383.5l2.48 -4.32h4.95l2.48 4.32l-2.48 4.32h-4.95zM848.9 265.5l2.48 -4.32h4.95l2.48 4.32l-2.48 4.32h-4.95zM848.9 273.6l2.48 -4.32h4.95l2.48 4.32l-2.48 4.32h-4.95zM848.9 298.0l2.48 -4.32h4.95l2.48 4.32l-2.48 4.32h-4.95zM848.9 363.1l2.48 -4.32h4.95l2.48 4.32l-2.48 4.32h-4.95zM848.9 371.3l2.48 -4.32h4.95l2.48 4.32l-2.48 4.32h-4.95zM848.9 387.6l2.48 -4.32h4.95l2.48 4.32l-2.48 4.32h-4.95zM855.9 285.8l2.48 -4.32h4.95l2.48 4.32l-2.48 4.32h-4.95zM855.9 359.1l2.48 -4.32h4.95l2.48 4.32l-2.48 4.32h-4.95zM855.9 367.2l2.48 -4.32h4.95l2.48 4.32l-2.48 4.32h-4.95zM855.9 383.5l2.48 -4.32h4.95l2.48 4.32l-2.48 4.32h-4.95zM863.0 257.3l2.48 -4.32h4.95l2.48 4.32l-2.48 4.32h-4.95zM863.0 265.5l2.48 -4.32h4.95l2.48 4.32l-2.48 4.32h-4.95zM863.0 273.6l2.48 -4.32h4.95l2.48 4.32l-2.48 4.32h-4.95zM863.0 281.7l2.48 -4.32h4.95l2.48 4.32l-2.48 4.32h-4.95zM863.0 346.9l2.48 -4.32h4.95l2.48 4.32l-2.48 4.32h-4.95zM863.0 355.0l2.48 -4.32h4.95l2.48 4.32l-2.48 4.32h-4.95zM863.0 363.1l2.48 -4.32h4.95l2.48 4.32l-2.48 4.32h-4.95zM870.0 253.3l2.48 -4.32h4.95l2.48 4.32l-2.48 4.32h-4.95zM870.0 261.4l2.48 -4.32h4.95l2.48 4.32l-2.48 4.32h-4.95zM870.0 277.7l2.48 -4.32h4.95l2.48 4.32l-2.48 4.32h-4.95zM870.0 318.4l2.48 -4.32h4.95l2.48 4.32l-2.48 4.32h-4.95zM870.0 334.7l2.48 -4.32h4.95l2.48 4.32l-2.48 4.32h-4.95zM877.1 249.2l2.48 -4.32h4.95l2.48 4.32l-2.48 4.32h-4.95zM877.1 281.7l2.48 -4.32h4.95l2.48 4.32l-2.48 4.32h-4.95zM877.1 314.3l2.48 -4.32h4.95l2.48 4.32l-2.48 4.32h-4.95zM877.1 330.6l2.48 -4.32h4.95l2.48 4.32l-2.48 4.32h-4.95zM877.1 338.7l2.48 -4.32h4.95l2.48 4.32l-2.48 4.32h-4.95zM877.1 346.9l2.48 -4.32h4.95l2.48 4.32l-2.48 4.32h-4.95zM884.1 237.0l2.48 -4.32h4.95l2.48 4.32l-2.48 4.32h-4.95zM884.1 326.5l2.48 -4.32h4.95l2.48 4.32l-2.48 4.32h-4.95zM884.1 334.7l2.48 -4.32h4.95l2.48 4.32l-2.48 4.32h-4.95zM884.1 350.9l2.48 -4.32h4.95l2.48 4.32l-2.48 4.32h-4.95zM884.1 359.1l2.48 -4.32h4.95l2.48 4.32l-2.48 4.32h-4.95zM891.2 224.8l2.48 -4.32h4.95l2.48 4.32l-2.48 4.32h-4.95zM891.2 232.9l2.48 -4.32h4.95l2.48 4.32l-2.48 4.32h-4.95zM891.2 298.0l2.48 -4.32h4.95l2.48 4.32l-2.48 4.32h-4.95zM898.2 228.8l2.48 -4.32h4.95l2.48 4.32l-2.48 4.32h-4.95zM898.2 253.3l2.48 -4.32h4.95l2.48 4.32l-2.48 4.32h-4.95zM898.2 285.8l2.48 -4.32h4.95l2.48 4.32l-2.48 4.32h-4.95zM905.3 232.9l2.48 -4.32h4.95l2.48 4.32l-2.48 4.32h-4.95zM905.3 241.0l2.48 -4.32h4.95l2.48 4.32l-2.48 4.32h-4.95zM905.3 249.2l2.48 -4.32h4.95l2.48 4.32l-2.48 4.32h-4.95zM912.3 237.0l2.48 -4.32h4.95l2.48 4.32l-2.48 4.32h-4.95zM926.4 228.8l2.48 -4.32h4.95l2.48 4.32l-2.48 4.32h-4.95zM933.5 241.0l2.48 -4.32h4.95l2.48 4.32l-2.48 4.32h-4.95zM940.5 228.8l2.48 -4.32h4.95l2.48 4.32l-2.48 4.32h-4.95zM947.6 216.6l2.48 -4.32h4.95l2.48 4.32l-2.48 4.32h-4.95zM947.6 232.9l2.48 -4.32h4.95l2.48 4.32l-2.48 4.32h-4.95zM947.6 241.0l2.48 -4.32h4.95l2.48 4.32l-2.48 4.32h-4.95zM954.6 228.8l2.48 -4.32h4.95l2.48 4.32l-2.48 4.32h-4.95zM954.6 237.0l2.48 -4.32h4.95l2.48 4.32l-2.48 4.32h-4.95zM1011.0 302.1l2.48 -4.32h4.95l2.48 4.32l-2.48 4.32h-4.95zM1018.1 314.3l2.48 -4.32h4.95l2.48 4.32l-2.48 4.32h-4.95zM1018.1 322.4l2.48 -4.32h4.95l2.48 4.32l-2.48 4.32h-4.95zM1025.1 277.7l2.48 -4.32h4.95l2.48 4.32l-2.48 4.32h-4.95zM1025.1 285.8l2.48 -4.32h4.95l2.48 4.32l-2.48 4.32h-4.95zM1025.1 294.0l2.48 -4.32h4.95l2.48 4.32l-2.48 4.32h-4.95zM1025.1 302.1l2.48 -4.32h4.95l2.48 4.32l-2.48 4.32h-4.95zM1032.2 298.0l2.48 -4.32h4.95l2.48 4.32l-2.48 4.32h-4.95zM1032.2 314.3l2.48 -4.32h4.95l2.48 4.32l-2.48 4.32h-4.95zM1032.2 322.4l2.48 -4.32h4.95l2.48 4.32l-2.48 4.32h-4.95zM1039.2 285.8l2.48 -4.32h4.95l2.48 4.32l-2.48 4.32h-4.95zM1039.2 326.5l2.48 -4.32h4.95l2.48 4.32l-2.48 4.32h-4.95zM1039.2 334.7l2.48 -4.32h4.95l2.48 4.32l-2.48 4.32h-4.95zM1046.3 289.9l2.48 -4.32h4.95l2.48 4.32l-2.48 4.32h-4.95zM1046.3 306.2l2.48 -4.32h4.95l2.48 4.32l-2.48 4.32h-4.95zM1046.3 314.3l2.48 -4.32h4.95l2.48 4.32l-2.48 4.32h-4.95zM1046.3 322.4l2.48 -4.32h4.95l2.48 4.32l-2.48 4.32h-4.95zM1053.3 310.2l2.48 -4.32h4.95l2.48 4.32l-2.48 4.32h-4.95z"/>
<path fill="rgb(76,64,145)" d="M792.5 322.4l2.48 -4.32h4.95l2.48 4.32l-2.48 4.32h-4.95zM792.5 395.7l2.48 -4.32h4.95l2.48 4.32l-2.48 4.32h-4.95zM799.5 294.0l2.48 -4.32h4.95l2.48 4.32l-2.48 4.32h-4.95zM799.5 302.1l2.48 -4.32h4.95l2.48 4.32l-2.48 4.32h-4.95zM799.5 334.7l2.48 -4.32h4.95l2.48 4.32l-2.48 4.32h-4.95zM799.5 367.2l2.48 -4.32h4.95l2.48 4.32l-2.48 4.32h-4.95zM799.5 375.4l2.48 -4.32h4.95l2.48 4.32l-2.48 4.32h-4.95zM806.6 224.8l2.48 -4.32h4.95l2.48 4.32l-2.48 4.32h-4.95zM806.6 265.5l2.48 -4.32h4.95l2.48 4.32l-2.48 4.32h-4.95zM806.6 322.4l2.48 -4.32h4.95l2.48 4.32l-2.48 4.32h-4.95zM806.6 371.3l2.48 -4.32h4.95l2.48 4.32l-2.48 4.32h-4.95zM806.6 387.6l2.48 -4.32h4.95l2.48 4.32l-2.48 4.32h-4.95zM806.6 395.7l2.48 -4.32h4.95l2.48 4.32l-2.48 4.32h-4.95zM813.6 228.8l2.48 -4.32h4.95l2.48 4.32l-2.48 4.32h-4.95zM813.6 269.5l2.48 -4.32h4.95l2.48 4.32l-2.48 4.32h-4.95zM813.6 285.8l2.48 -4.32h4.95l2.48 4.32l-2.48 4.32h-4.95zM813.6 302.1l2.48 -4.32h4.95l2.48 4.32l-2.48 4.32h-4.95zM813.6 334.7l2.48 -4.32h4.95l2.48 4.32l-2.48 4.32h-4.95zM813.6 342.8l2.48 -4.32h4.95l2.48 4.32l-2.48 4.32h-4.95zM820.7 224.8l2.48 -4.32h4.95l2.48 4.32l-2.48 4.32h-4.95zM820.7 232.9l2.48 -4.32h4.95l2.48 4.32l-2.48 4.32h-4.95zM820.7 257.3l2.48 -4.32h4.95l2.48 4.32l-2.48 4.32h-4.95zM820.7 273.6l2.48 -4.32h4.95l2.48 4.32l-2.48 4.32h-4.95zM820.7 289.9l2.48 -4.32h4.95l2.48 4.32l-2.48 4.32h-4.95zM820.7 298.0l2.48 -4.32h4.95l2.48 4.32l-2.48 4.32h-4.95zM820.7 314.3l2.48 -4.32h4.95l2.48 4.32l-2.48 4.32h-4.95zM820.7 322.4l2.48 -4.32h4.95l2.48 4.32l-2.48 4.32h-4.95zM820.7 330.6l2.48 -4.32h4.95l2.48 4.32l-2.48 4.32h-4.95zM820.7 338.7l2.48 -4.32h4.95l2.48 4.32l-2.48 4.32h-4.95zM820.7 387.6l2.48 -4.32h4.95l2.48 4.32l-2.48 4.32h-4.95zM827.7 253.3l2.48 -4.32h4.95l2.48 4.32l-2.48 4.32h-4.95zM827.7 277.7l2.48 -4.32h4.95l2.48 4.32l-2.48 4.32h-4.95zM827.7 285.8l2.48 -4.32h4.95l2.48 4.32l-2.48 4.32h-4.95zM827.7 294.0l2.48 -4.32h4.95l2.48 4.32l-2.48 4.32h-4.95zM827.7 334.7l2.48 -4.32h4.95l2.48 4.32l-2.48 4.32h-4.95zM827.7 375.4l2.48 -4.32h4.95l2.48 4.32l-2.48 4.32h-4.95zM834.8 273.6l2.48 -4.32h4.95l2.48 4.32l-2.48 4.32h-4.95zM834.8 314.3l2.48 -4.32h4.95l2.48 4.32l-2.48 4.32h-4.95zM834.8 338.7l2.48 -4.32h4.95l2.48 4.32l-2.48 4.32h-4.95zM834.8 363.1l2.48 -4.32h4.95l2.48 4.32l-2.48 4.32h-4.95zM841.8 269.5l2.48 -4.32h4.95l2.48 4.32l-2.48 4.32h-4.95zM841.8 310.2l2.48 -4.32h4.95l2.48 4.32l-2.48 4.32h-4.95zM841.8 318.4l2.48 -4.32h4.95l2.48 4.32l-2.48 4.32h-4.95zM841.8 350.9l2.48 -4.32h4.95l2.48 4.32l-2.48 4.32h-4.95zM841.8 359.1l2.48 -4.32h4.95l2.48 4.32l-2.48 4.32h-4.95zM841.8 367.2l2.48 -4.32h4.95l2.48 4.32l-2.48 4.32h-4.95zM841.8 375.4l2.48 -4.32h4.95l2.48 4.32l-2.48 4.32h-4.95zM848.9 338.7l2.48 -4.32h4.95l2.48 4.32l-2.48 4.32h-4.95zM848.9 346.9l2.48 -4.32h4.95l2.48 4.32l-2.48 4.32h-4.95zM848.9 355.0l2.48 -4.32h4.95l2.48 4.32l-2.48 4.32h-4.95zM848.9 379.4l2.48 -4.32h4.95l2.48 4.32l-2.48 4.32h-4.95zM855.9 253.3l2.48 -4.32h4.95l2.48 4.32l-2.48 4.32h-4.95zM855.9 261.4l2.48 -4.32h4.95l2.48 4.32l-2.48 4.32h-4.95zM855.9 269.5l2.48 -4.32h4.95l2.48 4.32l-2.48 4.32h-4.95zM855.9 277.7l2.48 -4.32h4.95l2.48 4.32l-2.48 4.32h-4.95zM855.9 302.1l2.48 -4.32h4.95l2.48 4.32l-2.48 4.32h-4.95zM855.9 326.5l2.48 -4.32h4.95l2.48 4.32l-2.48 4.32h-4.95zM855.9 334.7l2.48 -4.32h4.95l2.48 4.32l-2.48 4.32h-4.95zM863.0 306.2l2.48 -4.32h4.95l2.48 4.32l-2.48 4.32h-4.95zM863.0 322.4l2.48 -4.32h4.95l2.48 4.32l-2.48 4.32h-4.95zM870.0 269.5l2.48 -4.32h4.95l2.48 4.32l-2.48 4.32h-4.95zM870.0 294.0l2.48 -4.32h4.95l2.48 4.32l-2.48 4.32h-4.95zM870.0 302.1l2.48 -4.32h4.95l2.48 4.32l-2.48 4.32h-4.95zM870.0 310.2l2.48 -4.32h4.95l2.48 4.32l-2.48 4.32h-4.95zM870.0 326.5l2.48 -4.32h4.95l2.48 4.32l-2.48 4.32h-4.95zM870.0 350.9l2.48 -4.32h4.95l2.48 4.32l-2.48 4.32h-4.95zM877.1 273.6l2.48 -4.32h4.95l2.48 4.32l-2.48 4.32h-4.95zM877.1 289.9l2.48 -4.32h4.95l2.48 4.32l-2.48 4.32h-4.95zM877.1 298.0l2.48 -4.32h4.95l2.48 4.32l-2.48 4.32h-4.95zM877.1 322.4l2.48 -4.32h4.95l2.48 4.32l-2.48 4.32h-4.95zM884.1 228.8l2.48 -4.32h4.95l2.48 4.32l-2.48 4.32h-4.95zM884.1 294.0l2.48 -4.32h4.95l2.48 4.32l-2.48 4.32h-4.95zM884.1 302.1l2.48 -4.32h4.95l2.48 4.32l-2.48 4.32h-4.95zM884.1 310.2l2.48 -4.32h4.95l2.48 4.32l-2.48 4.32h-4.95zM891.2 192.2l2.48 -4.32h4.95l2.48 4.32l-2.48 4.32h-4.95zM891.2 289.9l2.48 -4.32h4.95l2.48 4.32l-2.48 4.32h-4.95zM891.2 306.2l2.48 -4.32h4.95l2.48 4.32l-2.48 4.32h-4.95zM898.2 163.7l2.48 -4.32h4.95l2.48 4.32l-2.48 4.32h-4.95zM898.2 171.8l2.48 -4.32h4.95l2.48 4.32l-2.48 4.32h-4.95zM898.2 196.3l2.48 -4.32h4.95l2.48 4.32l-2.48 4.32h-4.95zM898.2 237.0l2.48 -4.32h4.95l2.48 4.32l-2.48 4.32h-4.95zM905.3 159.6l2.48 -4.32h4.95l2.48 4.32l-2.48 4.32h-4.95zM905.3 167.8l2.48 -4.32h4.95l2.48 4.32l-2.48 4.32h-4.95zM905.3 216.6l2.48 -4.32h4.95l2.48 4.32l-2.48 4.32h-4.95zM912.3 155.6l2.48 -4.32h4.95l2.48 4.32l-2.48 4.32h-4.95zM912.3 163.7l2.48 -4.32h4.95l2.48 4.32l-2.48 4.32h-4.95zM912.3 188.1l2.48 -4.32h4.95l2.48 4.32l-2.48 4.32h-4.95zM912.3 228.8l2.48 -4.32h4.95l2.48 4.32l-2.48 4.32h-4.95zM912.3 245.1l2.48 -4.32h4.95l2.48 4.32l-2.48 4.32h-4.95zM919.4 184.1l2.48 -4.32h4.95l2.48 4.32l-2.48 4.32h-4.95zM919.4 208.5l2.48 -4.32h4.95l2.48 4.32l-2.48 4.32h-4.95zM919.4 232.9l2.48 -4.32h4.95l2.48 4.32l-2.48 4.32h-4.95zM919.4 241.0l2.48 -4.32h4.95l2.48 4.32l-2.48 4.32h-4.95zM926.4 180.0l2.48 -4.32h4.95l2.48 4.32l-2.48 4.32h-4.95zM926.4 237.0l2.48 -4.32h4.95l2.48 4.32l-2.48 4.32h-4.95zM933.5 216.6l2.48 -4.32h4.95l2.48 4.32l-2.48 4.32h-4.95zM933.5 224.8l2.48 -4.32h4.95l2.48 4.32l-2.48 4.32h-4.95zM933.5 232.9l2.48 -4.32h4.95l2.48 4.32l-2.48 4.32h-4.95zM940.5 204.4l2.48 -4.32h4.95l2.48 4.32l-2.48 4.32h-4.95zM940.5 220.7l2.48 -4.32h4.95l2.48 4.32l-2.48 4.32h-4.95zM947.6 208.5l2.48 -4.32h4.95l2.48 4.32l-2.48 4.32h-4.95zM1032.2 289.9l2.48 -4.32h4.95l2.48 4.32l-2.48 4.32h-4.95zM1032.2 330.6l2.48 -4.32h4.95l2.48 4.32l-2.48 4.32h-4.95zM1039.2 318.4l2.48 -4.32h4.95l2.48 4.32l-2.48 4.32h-4.95zM1053.3 318.4l2.48 -4.32h4.95l2.48 4.32l-2.48 4.32h-4.95z"/>
<path fill="rgb(77,57,141)" d="M799.5 326.5l2.48 -4.32h4.95l2.48 4.32l-2.48 4.32h-4.95zM806.6 330.6l2.48 -4.32h4.95l2.48 4.32l-2.48 4.32h-4.95zM806.6 338.7l2.48 -4.32h4.95l2.48 4.32l-2.48 4.32h-4.95zM806.6 346.9l2.48 -4.32h4.95l2.48 4.32l-2.48 4.32h-4.95zM806.6 363.1l2.48 -4.32h4.95l2.48 4.32l-2.48 4.32h-4.95zM806.6 379.4l2.48 -4.32h4.95l2.48 4.32l-2.48 4.32h-4.95zM813.6 245.1l2.48 -4.32h4.95l2.48 4.32l-2.48 4.32h-4.95zM813.6 310.2l2.48 -4.32h4.95l2.48 4.32l-2.48 4.32h-4.95zM813.6 318.4l2.48 -4.32h4.95l2.48 4.32l-2.48 4.32h-4.95zM813.6 350.9l2.48 -4.32h4.95l2.48 4.32l-2.48 4.32h-4.95zM813.6 359.1l2.48 -4.32h4.95l2.48 4.32l-2.48 4.32h-4.95zM813.6 367.2l2.48 -4.32h4.95l2.48 4.32l-2.48 4.32h-4.95zM813.6 375.4l2.48 -4.32h4.95l2.48 4.32l-2.48 4.32h-4.95zM813.6 383.5l2.48 -4.32h4.95l2.48 4.32l-2.48 4.32h-4.95zM820.7 306.2l2.48 -4.32h4.95l2.48 4.32l-2.48 4.32h-4.95zM820.7 355.0l2.48 -4.32h4.95l2.48 4.32l-2.48 4.32h-4.95zM820.7 363.1l2.48 -4.32h4.95l2.48 4.32l-2.48 4.32h-4.95zM820.7 371.3l2.48 -4.32h4.95l2.48 4.32l-2.48 4.32h-4.95zM820.7 379.4l2.48 -4.32h4.95l2.48 4.32l-2.48 4.32h-4.95zM827.7 302.1l2.48 -4.32h4.95l2.48 4.32l-2.48 4.32h-4.95zM827.7 310.2l2.48 -4.32h4.95l2.48 4.32l-2.48 4.32h-4.95zM827.7 318.4l2.48 -4.32h4.95l2.48 4.32l-2.48 4.32h-4.95zM827.7 326.5l2.48 -4.32h4.95l2.48 4.32l-2.48 4.32h-4.95zM827.7 350.9l2.48 -4.32h4.95l2.48 4.32l-2.48 4.32h-4.95zM827.7 359.1l2.48 -4.32h4.95l2.48 4.32l-2.48 4.32h-4.95zM827.7 367.2l2.48 -4.32h4.95l2.48 4.32l-2.48 4.32h-4.95zM834.8 289.9l2.48 -4.32h4.95l2.48 4.32l-2.48 4.32h-4.95zM834.8 322.4l2.48 -4.32h4.95l2.48 4.32l-2.48 4.32h-4.95zM834.8 330.6l2.48 -4.32h4.95l2.48 4.32l-2.48 4.32h-4.95zM841.8 277.7l2.48 -4.32h4.95l2.48 4.32l-2.48 4.32h-4.95zM841.8 285.8l2.48 -4.32h4.95l2.48 4.32l-2.48 4.32h-4.95zM841.8 334.7l2.48 -4.32h4.95l2.48 4.32l-2.48 4.32h-4.95zM848.9 281.7l2.48 -4.32h4.95l2.48 4.32l-2.48 4.32h-4.95zM848.9 289.9l2.48 -4.32h4.95l2.48 4.32l-2.48 4.32h-4.95zM848.9 306.2l2.48 -4.32h4.95l2.48 4.32l-2.48 4.32h-4.95zM848.9 330.6l2.48 -4.32h4.95l2.48 4.32l-2.48 4.32h-4.95zM855.9 294.0l2.48 -4.32h4.95l2.48 4.32l-2.48 4.32h-4.95zM855.9 310.2l2.48 -4.32h4.95l2.48 4.32l-2.48 4.32h-4.95zM855.9 350.9l2.48 -4.32h4.95l2.48 4.32l-2.48 4.32h-4.95zM863.0 289.9l2.48 -4.32h4.95l2.48 4.32l-2.48 4.32h-4.95zM863.0 298.0l2.48 -4.32h4.95l2.48 4.32l-2.48 4.32h-4.95zM863.0 314.3l2.48 -4.32h4.95l2.48 4.32l-2.48 4.32h-4.95zM863.0 330.6l2.48 -4.32h4.95l2.48 4.32l-2.48 4.32h-4.95zM863.0 338.7l2.48 -4.32h4.95l2.48 4.32l-2.48 4.32h-4.95zM870.0 285.8l2.48 -4.32h4.95l2.48 4.32l-2.48 4.32h-4.95zM877.1 306.2l2.48 -4.32h4.95l2.48 4.32l-2.48 4.32h-4.95zM891.2 159.6l2.48 -4.32h4.95l2.48 4.32l-2.48 4.32h-4.95zM891.2 167.8l2.48 -4.32h4.95l2.48 4.32l-2.48 4.32h-4.95zM891.2 175.9l2.48 -4.32h4.95l2.48 4.32l-2.48 4.32h-4.95zM891.2 200.3l2.48 -4.32h4.95l2.48 4.32l-2.48 4.32h-4.95zM891.2 208.5l2.48 -4.32h4.95l2.48 4.32l-2.48 4.32h-4.95zM898.2 155.6l2.48 -4.32h4.95l2.48 4.32l-2.48 4.32h-4.95zM898.2 188.1l2.48 -4.32h4.95l2.48 4.32l-2.48 4.32h-4.95zM898.2 212.5l2.48 -4.32h4.95l2.48 4.32l-2.48 4.32h-4.95zM898.2 220.7l2.48 -4.32h4.95l2.48 4.32l-2.48 4.32h-4.95zM905.3 184.1l2.48 -4.32h4.95l2.48 4.32l-2.48 4.32h-4.95zM905.3 192.2l2.48 -4.32h4.95l2.48 4.32l-2.48 4.32h-4.95zM905.3 200.3l2.48 -4.32h4.95l2.48 4.32l-2.48 4.32h-4.95zM905.3 224.8l2.48 -4.32h4.95l2.48 4.32l-2.48 4.32h-4.95zM912.3 171.8l2.48 -4.32h4.95l2.48 4.32l-2.48 4.32h-4.95zM912.3 180.0l2.48 -4.32h4.95l2.48 4.32l-2.48 4.32h-4.95zM912.3 196.3l2.48 -4.32h4.95l2.48 4.32l-2.48 4.32h-4.95zM912.3 204.4l2.48 -4.32h4.95l2.48 4.32l-2.48 4.32h-4.95zM919.4 159.6l2.48 -4.32h4.95l2.48 4.32l-2.48 4.32h-4.95zM919.4 167.8l2.48 -4.32h4.95l2.48 4.32l-2.48 4.32h-4.95zM919.4 200.3l2.48 -4.32h4.95l2.48 4.32l-2.48 4.32h-4.95zM919.4 224.8l2.48 -4.32h4.95l2.48 4.32l-2.48 4.32h-4.95zM926.4 204.4l2.48 -4.32h4.95l2.48 4.32l-2.48 4.32h-4.95zM926.4 212.5l2.48 -4.32h4.95l2.48 4.32l-2.48 4.32h-4.95zM926.4 220.7l2.48 -4.32h4.95l2.48 4.32l-2.48 4.32h-4.95zM933.5 192.2l2.48 -4.32h4.95l2.48 4.32l-2.48 4.32h-4.95zM933.5 200.3l2.48 -4.32h4.95l2.48 4.32l-2.48 4.32h-4.95zM933.5 208.5l2.48 -4.32h4.95l2.48 4.32l-2.48 4.32h-4.95zM940.5 196.3l2.48 -4.32h4.95l2.48 4.32l-2.48 4.32h-4.95zM947.6 224.8l2.48 -4.32h4.95l2.48 4.32l-2.48 4.32h-4.95zM954.6 220.7l2.48 -4.32h4.95l2.48 4.32l-2.48 4.32h-4.95z"/>
<path fill="rgb(78,51,136)" d="M799.5 342.8l2.48 -4.32h4.95l2.48 4.32l-2.48 4.32h-4.95zM806.6 355.0l2.48 -4.32h4.95l2.48 4.32l-2.48 4.32h-4.95zM813.6 326.5l2.48 -4.32h4.95l2.48 4.32l-2.48 4.32h-4.95zM834.8 346.9l2.48 -4.32h4.95l2.48 4.32l-2.48 4.32h-4.95zM834.8 355.0l2.48 -4.32h4.95l2.48 4.32l-2.48 4.32h-4.95zM841.8 326.5l2.48 -4.32h4.95l2.48 4.32l-2.48 4.32h-4.95zM841.8 342.8l2.48 -4.32h4.95l2.48 4.32l-2.48 4.32h-4.95zM848.9 314.3l2.48 -4.32h4.95l2.48 4.32l-2.48 4.32h-4.95zM848.9 322.4l2.48 -4.32h4.95l2.48 4.32l-2.48 4.32h-4.95zM855.9 318.4l2.48 -4.32h4.95l2.48 4.32l-2.48 4.32h-4.95zM855.9 342.8l2.48 -4.32h4.95l2.48 4.32l-2.48 4.32h-4.95zM898.2 180.0l2.48 -4.32h4.95l2.48 4.32l-2.48 4.32h-4.95zM898.2 204.4l2.48 -4.32h4.95l2.48 4.32l-2.48 4.32h-4.95zM905.3 175.9l2.48 -4.32h4.95l2.48 4.32l-2.48 4.32h-4.95zM905.3 208.5l2.48 -4.32h4.95l2.48 4.32l-2.48 4.32h-4.95zM912.3 212.5l2.48 -4.32h4.95l2.48 4.32l-2.48 4.32h-4.95zM912.3 220.7l2.48 -4.32h4.95l2.48 4.32l-2.48 4.32h-4.95zM919.4 151.5l2.48 -4.32h4.95l2.48 4.32l-2.48 4.32h-4.95zM919.4 175.9l2.48 -4.32h4.95l2.48 4.32l-2.48 4.32h-4.95zM919.4 192.2l2.48 -4.32h4.95l2.48 4.32l-2.48 4.32h-4.95zM919.4 216.6l2.48 -4.32h4.95l2.48 4.32l-2.48 4.32h-4.95zM926.4 188.1l2.48 -4.32h4.95l2.48 4.32l-2.48 4.32h-4.95zM926.4 196.3l2.48 -4.32h4.95l2.48 4.32l-2.48 4.32h-4.95zM940.5 212.5l2.48 -4.32h4.95l2.48 4.32l-2.48 4.32h-4.95z"/></g>
<g clip-path="url(#rc)" fill="none" stroke="#152050" stroke-linejoin="round"><path d="M781.4 128.5L795.5 169.5L822.4 210.5L828.0 219.0M812.5 139.8L818.2 124.2M783.0 140.0L798.4 130.0M784.2 147.0L801.2 135.5M785.7 154.0L812.5 139.8M795.5 169.5L811.8 146.2L812.5 139.8M787.0 133.0L793.0 150.0M793.0 128.0L800.0 146.0M835.1 122.8L836.5 132.7L840.8 144.0L846.4 161.0L854.9 183.6L859.2 204.8L867.6 221.8L878.9 240.0M812.5 139.8L822.4 144.0L840.8 144.7L850.7 137.0L853.5 124.2M781.4 203.4L815.3 193.5L829.5 189.3L840.8 178.0M822.4 144.0L819.6 152.5L820.3 165.2M840.8 144.7L830.9 155.3L833.7 168.0L839.4 176.5L842.2 178.0M833.7 166.6L846.4 161.0M842.2 178.0L843.6 189.3L854.9 185.0M850.7 137.0L859.2 149.7L876.1 153.9L891.7 168.0M853.5 124.2L864.8 127.0L876.1 141.2L891.7 135.5L900.0 128.5M870.5 127.0L878.9 135.5L887.4 128.5M859.0 124.0L871.0 150.0M880.0 123.0L893.0 148.0M864.8 127.0L858.0 140.0M847.8 218.9L866.2 211.9L867.6 221.8M847.8 218.9L849.3 231.7L843.6 240.0M842.2 202.0L847.8 200.6L850.7 206.2L859.2 204.8M866.2 211.9L871.9 213.3L878.9 233.0L881.8 240.0M781.4 207.6L794.1 233.0L798.4 240.0M781.4 220.4L788.5 240.0M781.4 186.0L800.0 215.0M849.3 231.7L858.0 236.0L862.0 248.0M871.9 213.3L880.0 222.0L884.0 232.0M878.9 233.0L872.0 246.0M927.5 124.2L926.1 137.0L921.9 152.5M948.7 124.2L941.6 138.4L936.0 148.3L934.6 159.6L936.0 173.7L941.6 186.4L951.5 197.7M977.0 122.8L974.2 138.4L955.8 153.9L950.1 162.4L950.1 172.3L957.2 180.8L974.2 186.4L985.5 189.3L993.9 182.2L996.8 166.6L993.9 141.2L1002.4 128.5L1015.0 122.8M955.8 153.9L962.8 162.4L960.0 169.5L974.2 186.4M962.8 162.4L979.8 152.5L984.0 155.3M960.0 169.5L982.6 161.0L996.8 166.6M965.7 176.5L993.9 176.5M951.5 197.7L974.2 190.7L979.8 196.3L985.5 189.3M985.5 189.3L1003.8 193.5L1003.8 199.2L993.9 240.0M1003.8 199.2L1015.0 218.9M1003.8 162.4L1015.0 162.4M1005.2 173.7L1015.0 176.5M1003.8 162.4L1005.2 193.5M927.5 124.2L957.2 125.7M936.0 148.3L951.5 155.3M941.6 138.4L953.0 139.8L951.5 148.3M979.8 240.0L982.6 227.4L993.9 240.0M966.0 226.0L970.0 231.0L973.0 226.0L977.0 232.0L981.0 227.0M930.0 130.0L942.0 131.0M944.0 146.0L946.0 152.0M985.0 140.0L991.0 140.0L991.0 146.0M970.0 172.0L972.0 178.0M984.0 170.0L986.0 176.0M899.0 126.0L897.0 134.0M903.0 124.0L906.0 130.0M1032.6 131.3L1036.9 176.5L1041.1 216.1M1010.0 125.7L1055.2 130.6L1076.4 132.0M1055.2 130.6L1058.0 162.4L1069.4 176.5L1080.7 183.6L1097.6 180.8L1103.3 169.5L1093.4 155.3L1055.2 135.5M1034.0 152.5L1045.3 148.3L1055.2 135.5M1036.9 178.0L1052.4 169.5L1063.7 161.0M1045.3 148.3L1052.4 169.5M1010.0 182.2L1036.9 178.0M1039.7 192.1L1055.2 193.5L1072.2 199.2L1089.2 200.6L1114.6 196.3L1130.0 202.0M1077.8 194.2L1100.5 193.5L1111.8 187.8M1055.2 193.5L1052.4 203.4L1072.2 207.6L1086.3 211.9L1109.0 210.5L1123.1 203.4M1010.0 210.5L1018.5 217.5L1041.1 217.5L1056.6 214.7L1066.5 226.0L1079.3 240.0M1063.7 218.9L1086.3 211.9L1097.6 231.7L1079.3 240.0M1070.8 221.8L1080.7 238.7M1077.8 217.5L1089.2 235.9M1097.6 231.7L1109.0 233.0L1117.4 240.0M1076.4 124.2L1130.0 176.5M1086.3 122.8L1130.0 165.2M1099.0 122.8L1130.0 152.5M1117.4 122.8L1130.0 132.7M1100.5 153.9L1120.2 138.4M1094.0 146.0L1101.0 138.0M1114.6 169.5L1130.0 155.3M1108.0 160.0L1124.0 147.0M1086.0 133.0L1094.0 126.0M1103.3 169.5L1114.6 169.5L1130.0 183.6M1103.3 169.5L1117.4 196.3M1018.5 176.5L1019.9 206.2M1014.0 186.5L1028.4 185.0L1028.4 181.0M1025.5 190.7L1025.5 200.6L1029.8 202.0L1029.8 190.7M1010.0 144.0L1017.0 155.3L1015.6 173.7L1010.0 173.7M1010.0 207.6L1039.7 203.4M1020.0 124.0L1023.0 132.0M1036.0 134.0L1038.0 140.0M1060.0 138.0L1060.0 144.0M1072.2 199.2L1072.2 207.6M1043.0 202.0L1044.0 217.0M1010.0 224.1L1024.1 256.6L1028.4 272.2M1010.0 265.1L1024.1 258.1L1052.4 252.4L1077.8 241.1L1097.6 232.6L1108.9 232.6L1114.6 239.7M1063.7 218.5L1077.8 241.1M1077.8 241.1L1114.6 239.7L1108.9 252.4L1100.5 266.5L1083.5 283.5M1063.7 252.4L1060.9 260.9L1053.8 269.4L1048.2 277.8M1097.6 242.5L1093.4 249.6L1097.6 258.1L1092.0 263.7L1077.8 269.4L1077.8 273.6L1086.3 280.7M1063.7 259.5L1069.4 258.1L1080.7 269.4M1114.6 239.7L1130.0 228.4M1114.6 246.7L1123.1 255.2L1130.0 251.0M1082.0 271.0L1086.0 277.0M1086.0 269.0L1090.0 275.0M1090.0 267.0L1094.0 273.0M1031.0 243.0L1034.0 255.0M1067.0 262.0L1071.0 270.0M1070.0 260.0L1074.0 268.0M1000.0 240.0L1006.0 262.0L1004.0 290.0M994.0 240.0L988.0 262.0M1010.0 243.0L1000.0 240.0M1010.0 275.0L1022.0 279.0M1010.0 290.0L1016.0 285.0M1121.0 228.0L1130.0 240.0M783.0 240.0L784.0 300.0L786.0 340.0L784.5 400.0M789.0 240.0L790.5 290.0L791.0 330.0L790.0 395.0M795.0 262.0L796.0 290.0M781.0 252.0L790.0 251.0M781.0 264.0L794.0 263.0M781.0 276.0L800.0 275.0M781.0 288.0L797.0 287.0M781.0 300.0L792.0 299.0M781.0 312.0L794.0 311.0M781.0 324.0L797.0 323.0M781.0 336.0L797.0 335.0M781.0 348.0L803.0 347.0M781.0 360.0L800.0 359.0M781.0 372.0L799.0 371.0M781.0 384.0L797.0 383.0M781.0 398.0L795.0 396.0M781.0 410.0L812.0 405.0M781.0 421.0L814.0 416.0M781.0 432.0L812.0 427.0M781.0 441.0L815.0 436.0M786.0 396.0L787.0 446.0M793.0 396.0L794.0 445.0M800.0 399.0L801.0 444.0M807.0 400.0L808.0 442.0M797.0 435.0L797.0 444.0L800.0 444.0L800.0 435.0L797.0 435.0" stroke-width="0.9" opacity="0.55"/><path d="M938.0 262.0L946.0 259.0L962.0 259.0L972.0 262.0L975.0 270.0L973.0 282.0L966.0 292.0L958.0 303.0L948.0 308.0L940.0 303.0L936.0 290.0L935.0 275.0L938.0 262.0M931.0 252.0L945.0 248.0L966.0 250.0L980.0 258.0L986.0 272.0L984.0 290.0L975.0 305.0L962.0 318.0L948.0 322.0L935.0 315.0L928.0 300.0L926.0 280.0L927.0 262.0L931.0 252.0M946.0 285.0L955.0 282.0L966.0 284.0M953.0 290.0L960.0 282.0L965.0 296.0M955.0 300.0L963.0 297.0L968.0 306.0M958.0 285.0L958.0 322.0M920.0 240.0L918.0 270.0L920.0 300.0L926.0 325.0L936.0 345.0M905.0 245.0L908.0 280.0L912.0 310.0L920.0 340.0L930.0 362.0M975.0 305.0L992.0 300.0L1000.0 312.0L990.0 325.0L972.0 330.0M962.0 318.0L975.0 335.0L990.0 340.0L1005.0 332.0M992.0 300.0L1002.0 292.0M1000.0 312.0L1015.0 318.0L1030.0 312.0M914.8 152.5L913.0 175.0L911.0 200.0L908.0 225.0L905.0 245.0M921.9 152.5L924.0 175.0L930.0 195.0L940.0 215.0L952.0 230.0M898.0 170.0L912.0 176.0L928.0 174.0M896.0 195.0L911.0 200.0L935.0 196.0M893.0 220.0L908.0 225.0L945.0 222.0M903.0 160.0L901.0 185.0L897.0 210.0M828.0 219.0L838.0 240.0L848.0 262.0L856.0 285.0M805.4 221.8L815.0 245.0L822.0 268.0L826.0 290.0M795.0 240.0L815.0 245.0L838.0 240.0L856.0 246.0M793.0 258.0L822.0 268.0L848.0 262.0L872.0 256.0M812.0 282.0L826.0 290.0L856.0 285.0L885.0 272.0L905.0 262.0M878.9 240.0L885.0 255.0L890.0 272.0L893.0 292.0M862.0 252.0L868.0 270.0L872.0 292.0M1028.4 272.2L1030.0 290.0L1026.0 305.0L1015.0 318.0M1048.2 277.8L1044.0 295.0L1036.0 310.0L1030.0 325.0L1020.0 340.0M1083.5 283.5L1072.0 297.0L1060.0 310.0L1047.0 322.0L1030.0 335.0L1010.0 348.0L990.0 360.0L968.0 372.0L950.0 385.0L935.0 400.0M1108.9 276.4L1089.2 297.6L1072.2 317.4L1055.0 333.0L1035.0 347.0L1012.0 360.0L990.0 372.0L970.0 384.0L952.0 397.0L940.0 412.0M1115.0 280.0L1095.0 302.0L1078.0 321.0L1060.0 337.0L1040.0 351.0L1017.0 364.0L995.0 376.0L975.0 388.0M1120.0 286.0L1100.0 308.0L1084.0 326.0L1066.0 342.0L1046.0 356.0M1060.0 310.0L1070.0 322.0M1047.0 322.0L1056.0 335.0M1030.0 335.0L1038.0 349.0M1010.0 348.0L1016.0 362.0M990.0 360.0L995.0 374.0M1036.0 310.0L1050.0 305.0L1062.0 296.0M1026.0 305.0L1040.0 300.0M1005.0 332.0L1008.0 347.0M1020.0 340.0L1032.0 332.0M985.0 340.0L988.0 360.0M972.0 330.0L970.0 350.0L968.0 372.0M955.0 330.0L952.0 360.0L950.0 385.0M936.0 345.0L955.0 340.0L972.0 345.0L990.0 340.0M930.0 362.0L950.0 360.0L970.0 365.0M815.0 418.0L840.0 412.0L870.0 405.0L900.0 398.0L930.0 388.0L950.0 378.0M822.0 432.0L850.0 424.0L880.0 417.0L910.0 410.0L935.0 400.0M905.0 380.0L910.0 410.0L913.0 418.0M925.0 365.0L930.0 388.0L936.0 405.0" stroke-width="0.9" opacity="0.5"/><path d="M805.7 302.7L827.4 414.6M812.5 301.4L834.3 413.3M819.4 300.0L841.2 411.9M826.3 298.7L848.0 410.6M833.2 297.4L854.9 409.3M840.0 296.0L861.8 407.9M846.9 294.7L868.6 406.6M853.8 293.3L875.5 405.3M860.6 292.0L882.4 403.9M867.5 290.7L889.3 402.6M874.4 289.3L896.1 401.2M881.3 288.0L903.0 399.9M804.1 305.0L890.5 288.3M806.4 316.8L892.8 300.0M808.7 328.6L895.0 311.8M811.0 340.4L897.3 323.6M813.2 352.2L899.6 335.4M815.5 363.9L901.9 347.1M817.8 375.7L904.2 358.9M820.1 387.5L906.5 370.7M822.4 399.3L908.8 382.5M824.7 411.1L911.1 394.3" stroke-width="0.8" opacity="0.45"/></g>
<text x="782.00" y="470.60" font-size="3.9" fill="#222" textLength="72.50" lengthAdjust="spacingAndGlyphs">(C) OpenStreetMap contributors (C) CARTO</text>
</g>
<defs><linearGradient id="vir" x1="0" x2="1" y1="0" y2="0"><stop offset="0.00" stop-color="#eee128"/><stop offset="0.10" stop-color="#c8cd37"/><stop offset="0.20" stop-color="#a0be55"/><stop offset="0.30" stop-color="#7daf69"/><stop offset="0.40" stop-color="#64a078"/><stop offset="0.50" stop-color="#559687"/><stop offset="0.60" stop-color="#467891"/><stop offset="0.70" stop-color="#415f96"/><stop offset="0.80" stop-color="#3e468c"/><stop offset="0.88" stop-color="#3c2878"/><stop offset="0.95" stop-color="#3c1e64"/><stop offset="1.00" stop-color="#322350"/></linearGradient></defs>
<rect x="779.7" y="476.3" width="351.60" height="12.90" fill="url(#vir)"/>
<text x="781.10" y="507.00" font-size="13.6" text-anchor="middle" fill="#111" textLength="7.00" lengthAdjust="spacingAndGlyphs">0</text>
<text x="851.96" y="507.00" font-size="13.6" text-anchor="middle" fill="#111" textLength="13.60" lengthAdjust="spacingAndGlyphs">20</text>
<text x="922.12" y="507.00" font-size="13.6" text-anchor="middle" fill="#111" textLength="13.60" lengthAdjust="spacingAndGlyphs">40</text>
<text x="992.28" y="507.00" font-size="13.6" text-anchor="middle" fill="#111" textLength="13.60" lengthAdjust="spacingAndGlyphs">60</text>
<text x="1062.44" y="507.00" font-size="13.6" text-anchor="middle" fill="#111" textLength="13.60" lengthAdjust="spacingAndGlyphs">80</text>
<text x="1132.60" y="507.00" font-size="13.6" text-anchor="middle" fill="#111" textLength="20.40" lengthAdjust="spacingAndGlyphs">100</text>
<path d="M780.10 489.2v5.5M850.26 489.2v5.5M920.42 489.2v5.5M990.58 489.2v5.5M1060.74 489.2v5.5M1130.90 489.2v5.5" stroke="#555" stroke-width="0.8"/>
<text x="784.00" y="523.00" font-size="14.6" text-anchor="middle" fill="#111" font-style="italic" textLength="63.00" lengthAdjust="spacingAndGlyphs">Nenhuma</text>
<text x="784.00" y="539.50" font-size="14.6" text-anchor="middle" fill="#111" font-style="italic" textLength="55.00" lengthAdjust="spacingAndGlyphs">função é</text>
<text x="784.00" y="555.50" font-size="14.6" text-anchor="middle" fill="#111" font-style="italic" textLength="88.00" lengthAdjust="spacingAndGlyphs">acessível a pé</text>
<text x="1134.60" y="523.00" font-size="14.6" text-anchor="middle" fill="#111" font-style="italic" textLength="54.50" lengthAdjust="spacingAndGlyphs">Todas as</text>
<text x="1134.60" y="539.50" font-size="14.6" text-anchor="middle" fill="#111" font-style="italic" textLength="75.00" lengthAdjust="spacingAndGlyphs">funções são</text>
<text x="1134.60" y="555.50" font-size="14.6" text-anchor="middle" fill="#111" font-style="italic" textLength="93.50" lengthAdjust="spacingAndGlyphs">acessíveis a pé</text>
<circle cx="960.8" cy="686.5" r="17.88" fill="none" stroke="#c4c4c4" stroke-width="0.8"/>
<circle cx="960.8" cy="686.5" r="35.76" fill="none" stroke="#c4c4c4" stroke-width="0.8"/>
<circle cx="960.8" cy="686.5" r="53.64" fill="none" stroke="#c4c4c4" stroke-width="0.8"/>
<circle cx="960.8" cy="686.5" r="71.52" fill="none" stroke="#c4c4c4" stroke-width="0.8"/>
<path d="M960.8 686.5L1033.13 633.95M960.8 686.5L988.43 601.48M960.8 686.5L933.17 601.48M960.8 686.5L888.47 633.95M960.8 686.5L871.40 686.50M960.8 686.5L888.47 739.05M960.8 686.5L933.17 771.52M960.8 686.5L988.43 771.52M960.8 686.5L1033.13 739.05" stroke="#c8c8c8" stroke-width="0.8" fill="none"/>
<path d="M960.8 686.5H1050.20" stroke="#8a8a8a" stroke-width="0.9"/>
<circle cx="960.8" cy="686.5" r="89.4" fill="none" stroke="#888890" stroke-width="1.2"/>
<path d="M1013.81 686.50L1023.87 640.68L972.68 649.94L938.98 619.33L895.92 639.36L871.40 686.50L898.89 731.48L937.32 758.77L988.26 771.01L1005.28 718.82Z" fill="#d3de66" fill-opacity="0.75" stroke="#c0cf55" stroke-width="1.2" stroke-linejoin="round"/>
<path d="M986.55 686.50L998.41 659.18L975.17 642.29L944.78 637.19L922.47 658.65L905.82 686.50L928.04 710.30L945.47 733.69L984.17 758.43L1004.56 718.29Z" fill="none" stroke="#1c2a70" stroke-width="1.4" stroke-linejoin="round"/>
<circle cx="986.55" cy="686.50" r="1.8" fill="#1c2a70"/>
<circle cx="998.41" cy="659.18" r="1.8" fill="#1c2a70"/>
<circle cx="975.17" cy="642.29" r="1.8" fill="#1c2a70"/>
<circle cx="944.78" cy="637.19" r="1.8" fill="#1c2a70"/>
<circle cx="922.47" cy="658.65" r="1.8" fill="#1c2a70"/>
<circle cx="905.82" cy="686.50" r="1.8" fill="#1c2a70"/>
<circle cx="928.04" cy="710.30" r="1.8" fill="#1c2a70"/>
<circle cx="945.47" cy="733.69" r="1.8" fill="#1c2a70"/>
<circle cx="984.17" cy="758.43" r="1.8" fill="#1c2a70"/>
<circle cx="1004.56" cy="718.29" r="1.8" fill="#1c2a70"/>
<circle cx="1013.81" cy="686.50" r="1.1" fill="#b9c94a"/>
<circle cx="1023.87" cy="640.68" r="1.1" fill="#b9c94a"/>
<circle cx="972.68" cy="649.94" r="1.1" fill="#b9c94a"/>
<circle cx="938.98" cy="619.33" r="1.1" fill="#b9c94a"/>
<circle cx="895.92" cy="639.36" r="1.1" fill="#b9c94a"/>
<circle cx="871.40" cy="686.50" r="1.1" fill="#b9c94a"/>
<circle cx="898.89" cy="731.48" r="1.1" fill="#b9c94a"/>
<circle cx="937.32" cy="758.77" r="1.1" fill="#b9c94a"/>
<circle cx="988.26" cy="771.01" r="1.1" fill="#b9c94a"/>
<circle cx="1005.28" cy="718.82" r="1.1" fill="#b9c94a"/>
<text x="960.80" y="699.90" font-size="10" font-weight="700" text-anchor="middle" fill="#222">0</text>
<text x="978.68" y="699.90" font-size="10" font-weight="700" text-anchor="middle" fill="#222">20</text>
<text x="996.56" y="699.90" font-size="10" font-weight="700" text-anchor="middle" fill="#222">40</text>
<text x="1014.44" y="699.90" font-size="10" font-weight="700" text-anchor="middle" fill="#222">60</text>
<text x="1032.32" y="699.90" font-size="10" font-weight="700" text-anchor="middle" fill="#222">80</text>
<text x="1049.90" y="699.90" font-size="10" font-weight="700" text-anchor="middle" fill="#222">100</text>
<text x="793.80" y="599.70" font-size="15.7" fill="#111" textLength="134.00" lengthAdjust="spacingAndGlyphs">Transporte Público</text>
<text x="993.60" y="599.70" font-size="15.7" fill="#111" textLength="70.30" lengthAdjust="spacingAndGlyphs">Educação</text>
<text x="815.00" y="634.30" font-size="15.7" fill="#111" textLength="68.30" lengthAdjust="spacingAndGlyphs">Comércio</text>
<text x="1040.00" y="634.30" font-size="15.7" fill="#111" textLength="45.80" lengthAdjust="spacingAndGlyphs">Saúde</text>
<text x="777.80" y="690.30" font-size="15.7" fill="#111" textLength="87.20" lengthAdjust="spacingAndGlyphs">Restauração</text>
<text x="1059.50" y="690.30" font-size="15.7" fill="#111" textLength="106.30" lengthAdjust="spacingAndGlyphs">Cultura e Lazer</text>
<text x="793.50" y="747.80" font-size="15.7" fill="#111" textLength="89.80" lengthAdjust="spacingAndGlyphs">Alimentação</text>
<text x="1042.00" y="747.80" font-size="15.7" fill="#111" textLength="134.60" lengthAdjust="spacingAndGlyphs">Desporto e Recreio</text>
<text x="846.30" y="787.10" font-size="15.7" fill="#111" textLength="82.20" lengthAdjust="spacingAndGlyphs">Ação Social</text>
<text x="994.20" y="787.10" font-size="15.7" fill="#111" textLength="108.10" lengthAdjust="spacingAndGlyphs">Espaços Verdes</text>
<rect x="818.7" y="821.2" width="20" height="12.8" fill="#d3de7a"/>
<text x="845.80" y="833.80" font-size="14.6" fill="#111" textLength="139.20" lengthAdjust="spacingAndGlyphs">MÉDIA DA FREGUESIA</text>
<path d="M1016.7 828.5H1037" stroke="#1f2f7a" stroke-width="1.3"/>
<text x="1042.00" y="833.80" font-size="14.6" fill="#111" textLength="114.50" lengthAdjust="spacingAndGlyphs">MÉDIA DA CIDADE</text>
</svg></body></html>
